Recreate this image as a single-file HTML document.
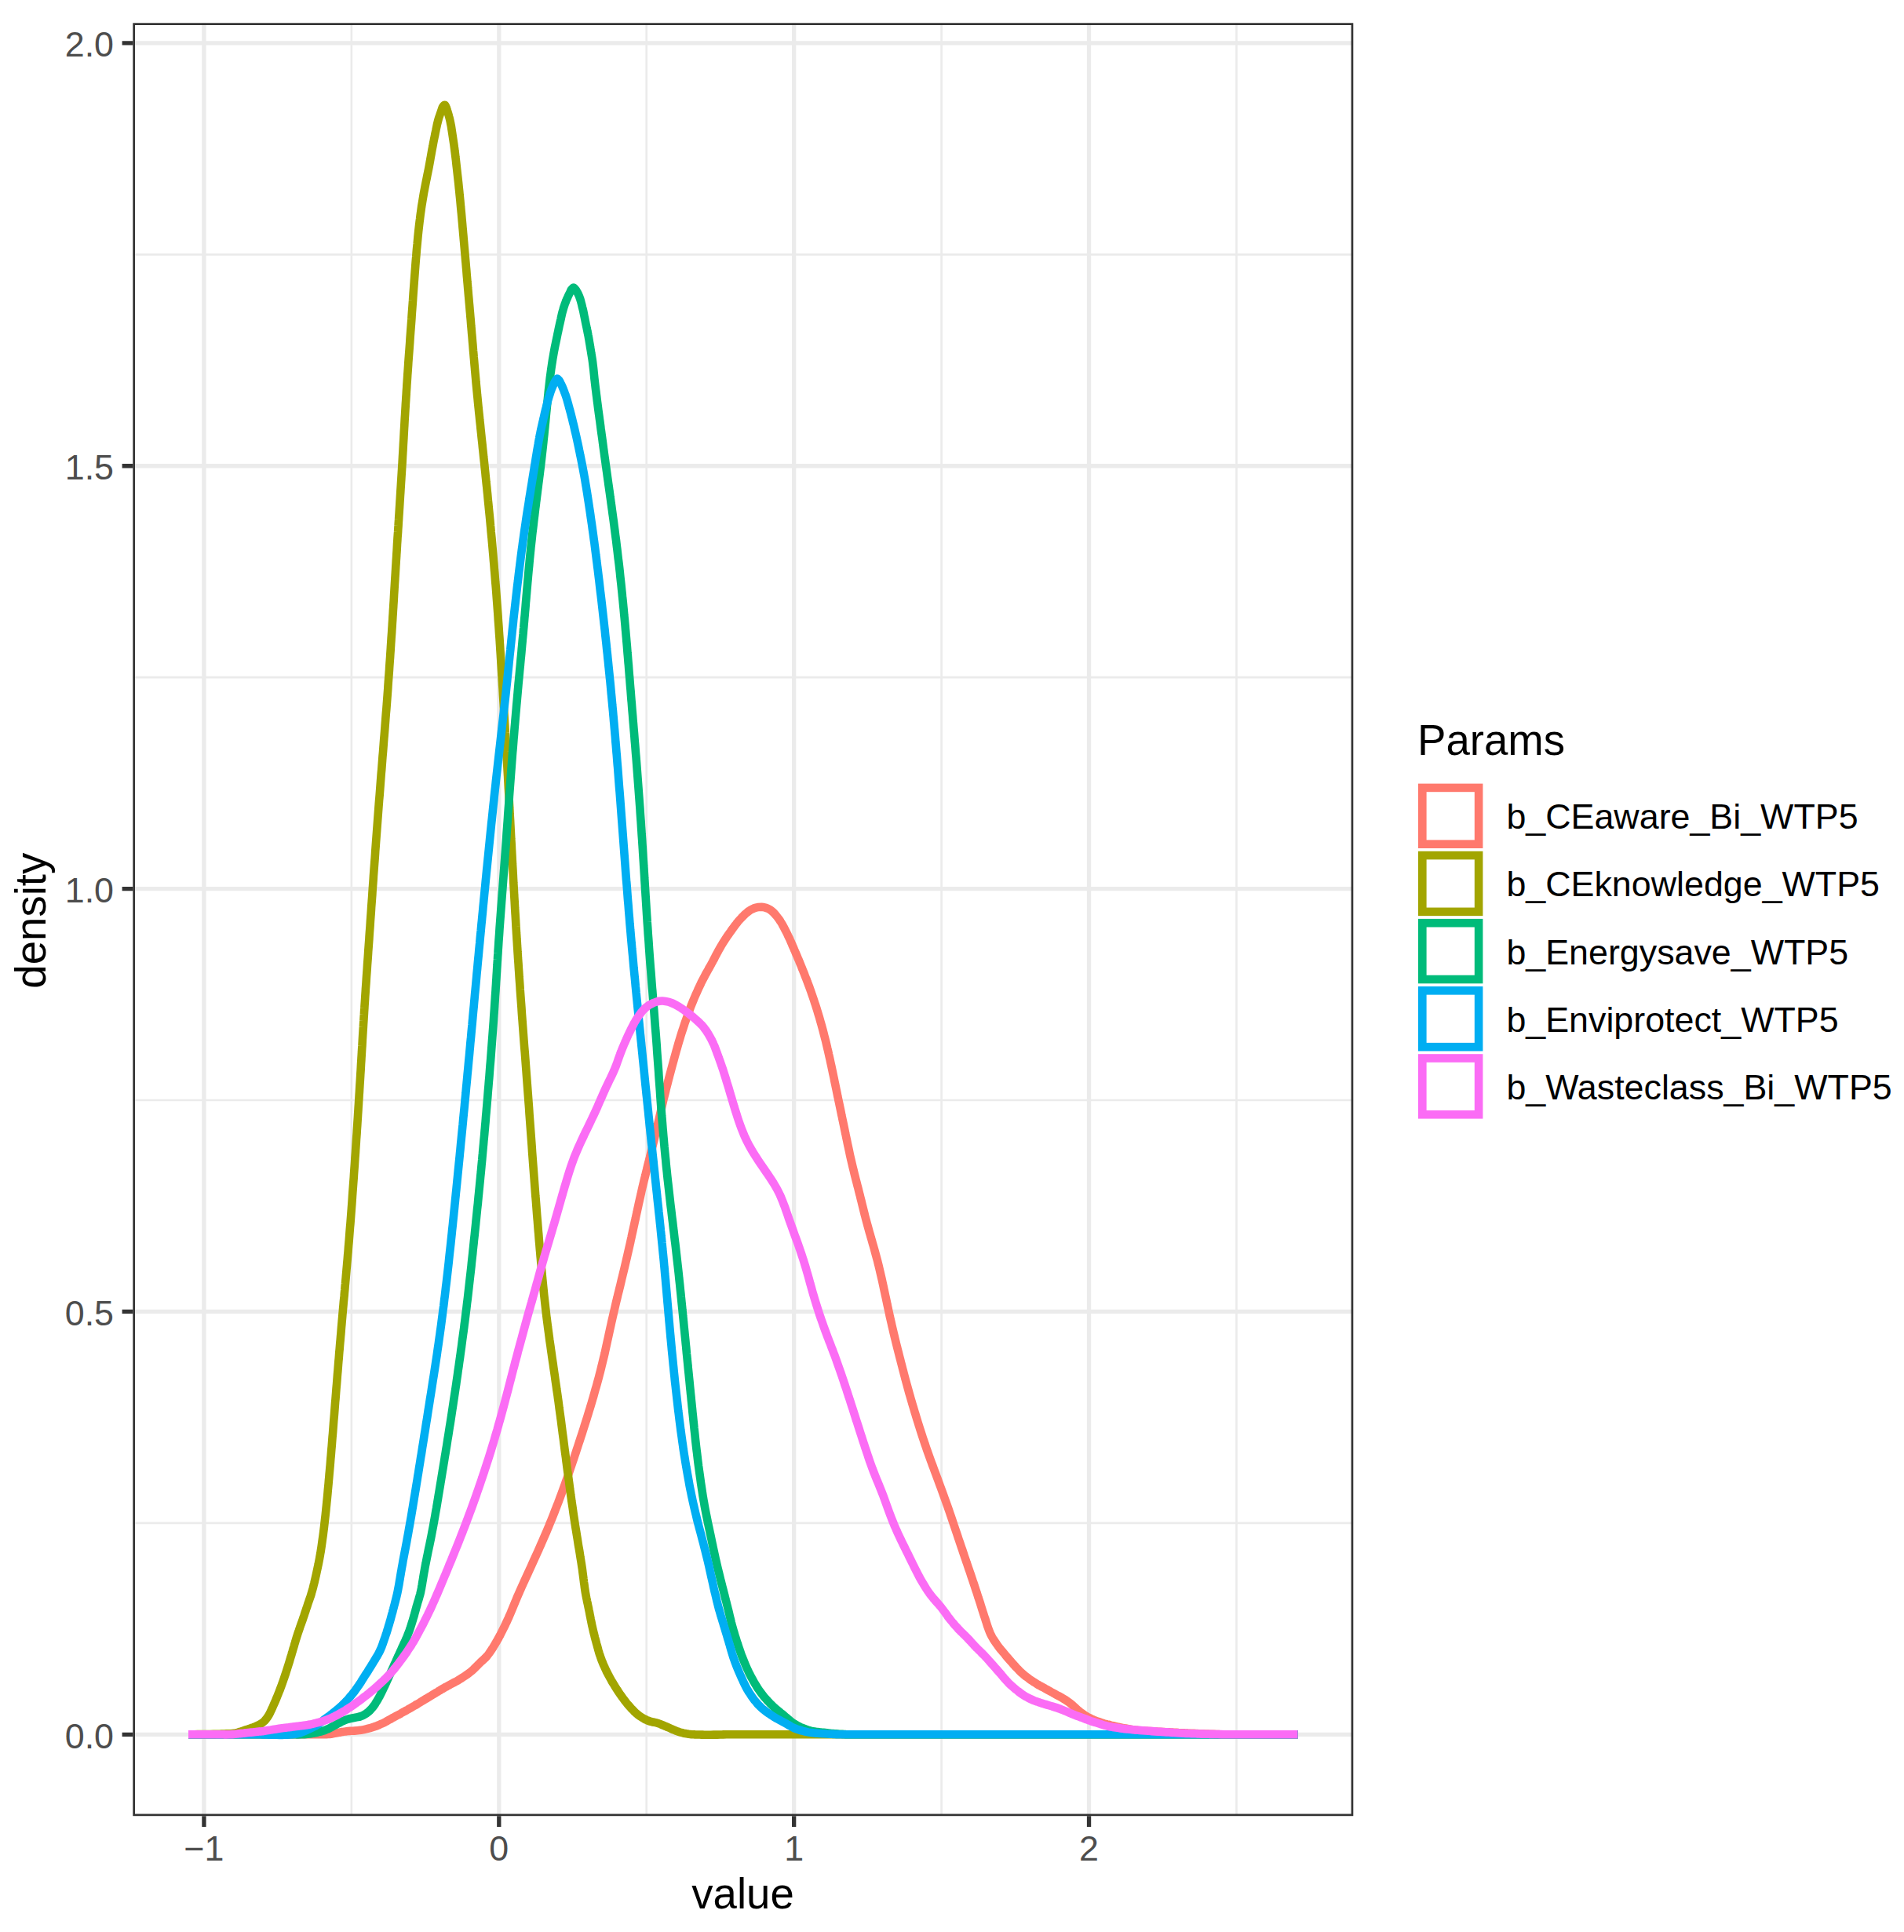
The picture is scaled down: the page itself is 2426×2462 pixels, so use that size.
<!DOCTYPE html><html><head><meta charset="utf-8"><title>density</title><style>html,body{margin:0;padding:0;background:#fff}svg{display:block}text{font-family:"Liberation Sans",sans-serif}</style></head><body>
<svg xmlns="http://www.w3.org/2000/svg" width="2426" height="2462" viewBox="0 0 2426 2462">
<rect width="2426" height="2462" fill="#fff"/>
<defs><clipPath id="pc"><rect x="169.3" y="29.3" width="1555.0" height="2284.9"/></clipPath></defs>
<g clip-path="url(#pc)">
<path d="M447.86 29.3V2314.2M823.73 29.3V2314.2M1199.61 29.3V2314.2M1575.47 29.3V2314.2M169.3 1940.88H1724.3M169.3 1402.03H1724.3M169.3 863.18H1724.3M169.3 324.33H1724.3" stroke="#ebebeb" stroke-width="2.65" fill="none"/>
<path d="M259.93 29.3V2314.2M635.80 29.3V2314.2M1011.67 29.3V2314.2M1387.54 29.3V2314.2M169.3 2210.30H1724.3M169.3 1671.45H1724.3M169.3 1132.60H1724.3M169.3 593.75H1724.3M169.3 54.90H1724.3" stroke="#ebebeb" stroke-width="5.30" fill="none"/>
<path d="M240.0 2210.3C241.3 2210.3 242.7 2210.3 244.0 2210.3C245.3 2210.3 246.7 2210.3 248.0 2210.3C249.3 2210.3 250.7 2210.3 252.0 2210.3C253.3 2210.3 254.7 2210.3 256.0 2210.3C257.3 2210.3 258.7 2210.3 260.0 2210.3C261.3 2210.3 262.7 2210.3 264.0 2210.3C265.3 2210.3 266.7 2210.3 268.0 2210.3C269.3 2210.3 270.7 2210.3 272.0 2210.3C273.3 2210.3 274.7 2210.3 276.0 2210.3C277.3 2210.3 278.7 2210.3 280.0 2210.3C281.3 2210.3 282.7 2210.3 284.0 2210.3C285.3 2210.3 286.7 2210.3 288.0 2210.3C289.3 2210.3 290.7 2210.3 292.0 2210.3C293.3 2210.3 294.7 2210.3 296.0 2210.3C297.3 2210.3 298.7 2210.3 300.0 2210.3C301.3 2210.3 302.7 2210.3 304.0 2210.3C305.3 2210.3 306.7 2210.3 308.0 2210.3C309.3 2210.3 310.7 2210.3 312.0 2210.3C313.3 2210.3 314.7 2210.3 316.0 2210.3C317.3 2210.3 318.7 2210.3 320.0 2210.3C321.3 2210.3 322.7 2210.3 324.0 2210.3C325.3 2210.3 326.7 2210.3 328.0 2210.3C329.3 2210.3 330.7 2210.3 332.0 2210.3C333.3 2210.3 334.7 2210.3 336.0 2210.3C337.3 2210.3 338.7 2210.3 340.0 2210.3C341.3 2210.3 342.7 2210.3 344.0 2210.3C345.3 2210.3 346.7 2210.3 348.0 2210.3C349.3 2210.3 350.7 2210.3 352.0 2210.3C353.3 2210.3 354.7 2210.3 356.0 2210.3C357.3 2210.3 358.7 2210.3 360.0 2210.3C361.3 2210.3 362.7 2210.3 364.0 2210.3C365.3 2210.3 366.7 2210.3 368.0 2210.3C369.3 2210.3 370.7 2210.3 372.0 2210.3C373.3 2210.3 374.7 2210.3 376.0 2210.3C377.3 2210.3 378.7 2210.3 380.0 2210.3C381.3 2210.3 382.7 2210.3 384.0 2210.3C385.3 2210.3 386.7 2210.3 388.0 2210.3C389.3 2210.3 390.7 2210.3 392.0 2210.3C393.3 2210.3 394.7 2210.3 396.0 2210.3C397.3 2210.3 398.7 2210.3 400.0 2210.3C401.3 2210.3 402.7 2210.3 404.0 2210.3C405.3 2210.3 406.7 2210.3 408.0 2210.3C409.3 2210.3 410.7 2210.3 412.0 2210.3C413.3 2210.3 414.7 2210.3 416.0 2210.2C417.3 2210.1 418.7 2210.0 420.0 2209.9C421.3 2209.8 422.6 2209.6 424.0 2209.3C425.3 2209.1 426.6 2208.9 427.9 2208.6C429.2 2208.4 430.5 2208.1 431.8 2207.8C433.1 2207.6 434.4 2207.3 435.7 2207.1C437.1 2206.9 438.4 2206.6 439.7 2206.5C441.0 2206.3 442.3 2206.2 443.7 2206.0C445.0 2205.9 446.3 2205.9 447.7 2205.8C449.0 2205.7 450.3 2205.7 451.7 2205.6C453.0 2205.5 454.3 2205.4 455.7 2205.3C457.0 2205.2 458.3 2205.0 459.6 2204.8C460.9 2204.6 462.3 2204.4 463.6 2204.1C464.9 2203.8 466.2 2203.5 467.5 2203.2C468.8 2202.9 470.0 2202.5 471.3 2202.2C472.6 2201.8 473.9 2201.4 475.1 2201.0C476.4 2200.6 477.7 2200.2 478.9 2199.7C480.2 2199.2 481.4 2198.8 482.7 2198.3C483.9 2197.8 485.1 2197.2 486.3 2196.6C487.5 2196.1 488.7 2195.5 489.9 2194.9C491.1 2194.3 492.3 2193.6 493.4 2193.0C494.6 2192.3 495.8 2191.7 496.9 2191.0C498.1 2190.4 499.2 2189.7 500.4 2189.1C501.6 2188.4 502.7 2187.8 503.9 2187.2C505.1 2186.5 506.3 2185.9 507.4 2185.3C508.6 2184.6 509.8 2184.0 511.0 2183.4C512.1 2182.7 513.3 2182.1 514.5 2181.4C515.6 2180.8 516.8 2180.1 518.0 2179.5C519.1 2178.8 520.3 2178.2 521.4 2177.5C522.6 2176.9 523.8 2176.2 524.9 2175.5C526.1 2174.9 527.2 2174.2 528.4 2173.5C529.5 2172.8 530.7 2172.1 531.8 2171.5C532.9 2170.8 534.1 2170.1 535.2 2169.4C536.4 2168.7 537.5 2168.0 538.6 2167.3C539.8 2166.6 540.9 2165.9 542.1 2165.2C543.2 2164.5 544.3 2163.9 545.5 2163.2C546.6 2162.5 547.8 2161.8 548.9 2161.1C550.1 2160.4 551.2 2159.7 552.3 2159.0C553.5 2158.3 554.6 2157.6 555.8 2156.9C556.9 2156.3 558.0 2155.6 559.2 2154.9C560.3 2154.2 561.5 2153.5 562.6 2152.8C563.8 2152.2 564.9 2151.5 566.1 2150.8C567.2 2150.2 568.4 2149.5 569.6 2148.9C570.7 2148.2 571.9 2147.6 573.1 2147.0C574.3 2146.4 575.5 2145.7 576.6 2145.1C577.8 2144.5 579.0 2143.9 580.2 2143.2C581.3 2142.6 582.5 2142.0 583.7 2141.3C584.8 2140.6 585.9 2139.9 587.1 2139.2C588.2 2138.5 589.3 2137.8 590.4 2137.0C591.6 2136.3 592.7 2135.6 593.8 2134.8C594.9 2134.1 595.9 2133.3 597.0 2132.5C598.1 2131.7 599.1 2130.9 600.2 2130.0C601.2 2129.2 602.2 2128.3 603.2 2127.4C604.2 2126.5 605.1 2125.6 606.1 2124.6C607.0 2123.7 607.9 2122.7 608.8 2121.7C609.8 2120.8 610.7 2119.8 611.6 2118.9C612.6 2117.9 613.6 2117.1 614.6 2116.2C615.6 2115.3 616.6 2114.4 617.5 2113.5C618.5 2112.6 619.4 2111.6 620.3 2110.6C621.2 2109.6 622.0 2108.6 622.8 2107.5C623.6 2106.4 624.4 2105.3 625.1 2104.2C625.8 2103.1 626.6 2102.0 627.3 2100.9C628.0 2099.7 628.7 2098.6 629.4 2097.4C630.1 2096.3 630.7 2095.2 631.4 2094.0C632.1 2092.9 632.8 2091.7 633.4 2090.6C634.1 2089.4 634.8 2088.2 635.4 2087.1C636.0 2085.9 636.7 2084.7 637.3 2083.6C637.9 2082.4 638.5 2081.2 639.1 2080.0C639.7 2078.8 640.3 2077.6 640.9 2076.4C641.5 2075.2 642.1 2074.0 642.7 2072.8C643.3 2071.6 643.9 2070.4 644.4 2069.2C645.0 2068.0 645.6 2066.8 646.1 2065.6C646.7 2064.4 647.2 2063.2 647.8 2062.0C648.3 2060.7 648.9 2059.5 649.4 2058.3C649.9 2057.1 650.4 2055.9 651.0 2054.6C651.9 2052.4 653.0 2049.7 654.0 2047.2C655.1 2044.8 656.1 2042.3 657.1 2039.8C658.1 2037.4 659.1 2034.9 660.2 2032.5C661.3 2030.0 662.3 2027.6 663.4 2025.2C664.5 2022.7 665.6 2020.3 666.7 2017.9C667.8 2015.5 668.9 2013.0 670.0 2010.6C671.2 2008.2 672.3 2005.7 673.4 2003.3C674.5 2000.9 675.6 1998.5 676.7 1996.1C677.8 1993.6 678.9 1991.2 680.0 1988.8C681.1 1986.3 682.2 1983.9 683.3 1981.5C684.4 1979.1 685.5 1976.6 686.6 1974.2C687.7 1971.7 688.8 1969.3 689.8 1966.9C690.9 1964.4 692.0 1962.0 693.0 1959.5C694.1 1957.1 695.1 1954.6 696.2 1952.2C697.2 1949.7 698.2 1947.3 699.3 1944.8C700.3 1942.3 701.3 1939.9 702.3 1937.4C703.3 1934.9 704.3 1932.5 705.3 1930.0C706.3 1927.5 707.2 1925.0 708.2 1922.5C709.2 1920.0 710.1 1917.6 711.1 1915.1C712.0 1912.6 713.0 1910.1 713.9 1907.6C714.8 1905.1 715.8 1902.6 716.7 1900.1C717.6 1897.6 718.5 1895.1 719.4 1892.6C720.3 1890.1 721.2 1887.5 722.1 1885.0C723.0 1882.5 723.9 1880.0 724.7 1877.5C725.6 1875.0 726.5 1872.4 727.3 1869.9C728.2 1867.4 729.1 1864.9 729.9 1862.3C730.8 1859.8 731.6 1857.3 732.4 1854.7C733.3 1852.2 734.1 1849.7 734.9 1847.1C735.8 1844.6 736.6 1842.1 737.4 1839.5C738.3 1837.0 739.1 1834.5 739.9 1831.9C740.7 1829.4 741.6 1826.9 742.4 1824.3C743.2 1821.8 744.0 1819.2 744.8 1816.7C745.6 1814.2 746.4 1811.6 747.2 1809.1C748.0 1806.5 748.8 1804.0 749.6 1801.4C750.4 1798.9 751.1 1796.3 751.9 1793.8C752.7 1791.2 753.5 1788.7 754.2 1786.1C755.0 1783.6 755.7 1781.0 756.5 1778.4C757.2 1775.9 757.9 1773.3 758.6 1770.7C759.4 1768.2 760.1 1765.6 760.8 1763.0C761.5 1760.5 762.2 1757.9 762.9 1755.3C763.6 1752.7 764.2 1750.2 764.9 1747.6C765.6 1745.0 766.2 1742.4 766.8 1739.8C767.5 1737.2 768.1 1734.6 768.7 1732.0C769.4 1729.4 770.0 1726.9 770.6 1724.3C771.1 1721.7 771.7 1719.1 772.3 1716.4C772.9 1713.8 773.5 1711.2 774.0 1708.6C774.6 1706.0 775.2 1703.4 775.7 1700.8C776.3 1698.2 776.8 1695.6 777.4 1693.0C778.0 1690.4 778.6 1687.8 779.1 1685.2C779.7 1682.6 780.3 1680.0 780.9 1677.4C781.5 1674.8 782.1 1672.2 782.7 1669.6C783.3 1667.0 783.9 1664.4 784.5 1661.8C785.1 1659.2 785.7 1656.6 786.4 1654.0C787.0 1651.4 787.6 1648.8 788.3 1646.2C788.9 1643.6 789.5 1641.1 790.2 1638.5C790.8 1635.9 791.4 1633.3 792.0 1630.7C792.7 1628.1 793.3 1625.5 793.9 1622.9C794.6 1620.3 795.2 1617.7 795.8 1615.1C796.4 1612.5 797.0 1609.9 797.6 1607.4C798.2 1604.8 798.8 1602.2 799.4 1599.6C800.0 1597.0 800.6 1594.4 801.2 1591.8C801.8 1589.2 802.4 1586.6 803.0 1583.9C803.5 1581.3 804.1 1578.7 804.7 1576.1C805.2 1573.5 805.8 1570.9 806.4 1568.3C806.9 1565.7 807.5 1563.1 808.1 1560.5C808.6 1557.9 809.2 1555.3 809.8 1552.7C810.3 1550.1 810.9 1547.5 811.5 1544.9C812.0 1542.3 812.6 1539.6 813.2 1537.0C813.7 1534.4 814.3 1531.8 814.9 1529.2C815.5 1526.6 816.1 1524.0 816.7 1521.4C817.2 1518.8 817.8 1516.2 818.4 1513.6C819.1 1511.0 819.7 1508.4 820.3 1505.8C820.9 1503.3 821.5 1500.7 822.2 1498.1C822.8 1495.5 823.4 1492.9 824.1 1490.3C824.7 1487.7 825.4 1485.1 826.0 1482.5C826.7 1480.0 827.3 1477.4 828.0 1474.8C828.6 1472.2 829.3 1469.6 829.9 1467.0C830.5 1464.4 831.2 1461.8 831.8 1459.3C832.4 1456.7 833.1 1454.1 833.7 1451.5C834.3 1448.9 834.9 1446.3 835.6 1443.7C836.2 1441.1 836.8 1438.5 837.4 1435.9C838.0 1433.3 838.6 1430.7 839.2 1428.1C839.8 1425.5 840.4 1422.9 841.0 1420.3C841.6 1417.7 842.2 1415.1 842.8 1412.5C843.4 1409.9 844.0 1407.3 844.6 1404.7C845.2 1402.1 845.9 1399.5 846.5 1397.0C847.1 1394.4 847.8 1391.8 848.4 1389.2C849.1 1386.6 849.7 1384.0 850.4 1381.4C851.0 1378.9 851.7 1376.3 852.4 1373.7C853.0 1371.1 853.7 1368.5 854.4 1366.0C855.1 1363.4 855.8 1360.8 856.5 1358.2C857.2 1355.7 857.9 1353.1 858.6 1350.5C859.3 1347.9 860.0 1345.4 860.7 1342.8C861.4 1340.2 862.1 1337.7 862.9 1335.1C863.6 1332.5 864.3 1330.0 865.1 1327.4C865.9 1324.9 866.7 1322.3 867.4 1319.8C868.2 1317.2 869.0 1314.7 869.9 1312.1C870.7 1309.6 871.5 1307.1 872.3 1304.6C873.2 1302.0 874.1 1299.5 875.0 1297.0C875.8 1294.5 876.8 1292.0 877.7 1289.5C878.6 1287.0 879.6 1284.5 880.5 1282.0C881.5 1279.5 882.5 1277.0 883.5 1274.6C884.5 1272.1 885.7 1269.4 886.6 1267.2C887.2 1265.9 887.7 1264.8 888.3 1263.6C888.8 1262.3 889.4 1261.1 889.9 1259.9C890.5 1258.7 891.0 1257.5 891.6 1256.3C892.2 1255.1 892.8 1253.9 893.3 1252.7C893.9 1251.5 894.5 1250.3 895.1 1249.1C895.7 1247.9 896.3 1246.7 897.0 1245.6C897.6 1244.4 898.2 1243.2 898.8 1242.0C899.5 1240.9 900.1 1239.7 900.8 1238.5C901.4 1237.4 902.1 1236.2 902.7 1235.0C903.4 1233.9 904.0 1232.7 904.7 1231.5C905.3 1230.4 906.0 1229.2 906.6 1228.0C907.2 1226.9 907.9 1225.7 908.5 1224.5C909.1 1223.3 909.7 1222.2 910.4 1221.0C911.0 1219.8 911.6 1218.6 912.2 1217.4C912.9 1216.3 913.5 1215.1 914.1 1213.9C914.7 1212.7 915.4 1211.6 916.0 1210.4C916.7 1209.2 917.3 1208.1 918.0 1206.9C918.7 1205.7 919.3 1204.6 920.0 1203.5C920.7 1202.3 921.4 1201.2 922.1 1200.1C922.8 1198.9 923.6 1197.8 924.3 1196.7C925.0 1195.6 925.8 1194.5 926.5 1193.4C927.2 1192.2 928.0 1191.1 928.8 1190.1C929.5 1189.0 930.3 1187.9 931.1 1186.8C931.8 1185.7 932.6 1184.6 933.4 1183.6C934.2 1182.5 935.0 1181.4 935.8 1180.3C936.6 1179.3 937.4 1178.2 938.2 1177.2C939.0 1176.1 939.9 1175.1 940.7 1174.0C941.6 1173.0 942.5 1172.0 943.4 1171.0C944.3 1170.0 945.2 1169.1 946.1 1168.1C947.1 1167.2 948.0 1166.2 949.0 1165.3C950.0 1164.4 950.9 1163.5 952.0 1162.7C953.0 1161.8 954.0 1161.0 955.2 1160.3C956.3 1159.5 957.5 1158.9 958.7 1158.4C959.9 1157.8 961.1 1157.3 962.4 1156.9C963.7 1156.5 965.0 1156.2 966.3 1156.0C967.6 1155.8 968.9 1155.7 970.3 1155.7C971.6 1155.8 972.9 1156.0 974.2 1156.3C975.5 1156.6 976.8 1157.1 978.0 1157.6C979.2 1158.1 980.4 1158.8 981.5 1159.5C982.6 1160.2 983.6 1161.1 984.6 1162.0C985.6 1162.9 986.5 1163.9 987.4 1164.9C988.3 1165.9 989.1 1166.9 990.0 1168.0C990.8 1169.0 991.6 1170.0 992.4 1171.1C993.2 1172.2 993.9 1173.3 994.6 1174.5C995.3 1175.6 996.0 1176.7 996.7 1177.9C997.3 1179.1 997.9 1180.2 998.6 1181.4C999.2 1182.6 999.8 1183.8 1000.4 1184.9C1001.0 1186.1 1001.7 1187.3 1002.3 1188.5C1002.9 1189.7 1003.5 1190.9 1004.0 1192.1C1004.6 1193.3 1005.2 1194.5 1005.7 1195.7C1006.3 1196.9 1006.8 1198.1 1007.4 1199.4C1007.9 1200.6 1008.4 1201.8 1009.0 1203.0C1009.5 1204.3 1010.0 1205.5 1010.5 1206.7C1011.1 1207.9 1011.6 1209.2 1012.1 1210.4C1012.7 1211.6 1013.2 1212.8 1013.7 1214.0C1014.2 1215.3 1014.8 1216.5 1015.3 1217.7C1015.8 1219.0 1016.3 1220.2 1016.8 1221.4C1017.4 1222.6 1017.9 1223.9 1018.4 1225.1C1018.9 1226.3 1019.4 1227.6 1019.9 1228.8C1020.4 1230.0 1020.9 1231.3 1021.4 1232.5C1021.9 1233.8 1022.4 1235.0 1022.9 1236.2C1023.4 1237.5 1023.9 1238.7 1024.4 1239.9C1024.9 1241.2 1025.4 1242.4 1025.8 1243.7C1026.3 1244.9 1026.8 1246.1 1027.3 1247.4C1027.8 1248.6 1028.3 1249.9 1028.7 1251.1C1029.2 1252.4 1029.7 1253.6 1030.1 1254.9C1030.6 1256.1 1031.1 1257.4 1031.5 1258.6C1032.0 1259.9 1032.4 1261.1 1032.9 1262.4C1033.3 1263.6 1033.7 1264.8 1034.2 1266.2C1035.0 1268.4 1035.9 1271.2 1036.8 1273.7C1037.6 1276.3 1038.4 1278.8 1039.3 1281.3C1040.1 1283.9 1040.9 1286.4 1041.7 1289.0C1042.4 1291.5 1043.2 1294.1 1044.0 1296.6C1044.7 1299.2 1045.4 1301.8 1046.2 1304.3C1046.9 1306.9 1047.6 1309.5 1048.3 1312.0C1049.0 1314.6 1049.6 1317.2 1050.3 1319.8C1051.0 1322.4 1051.6 1324.9 1052.3 1327.5C1052.9 1330.1 1053.5 1332.7 1054.1 1335.3C1054.8 1337.9 1055.4 1340.5 1055.9 1343.1C1056.5 1345.7 1057.1 1348.3 1057.7 1350.9C1058.2 1353.5 1058.8 1356.1 1059.4 1358.7C1059.9 1361.3 1060.5 1363.9 1061.0 1366.5C1061.6 1369.2 1062.1 1371.8 1062.7 1374.4C1063.2 1377.0 1063.7 1379.6 1064.3 1382.2C1064.8 1384.8 1065.4 1387.4 1065.9 1390.0C1066.5 1392.7 1067.0 1395.3 1067.5 1397.9C1068.1 1400.5 1068.6 1403.1 1069.2 1405.7C1069.7 1408.3 1070.3 1410.9 1070.8 1413.5C1071.4 1416.2 1071.9 1418.8 1072.4 1421.4C1073.0 1424.0 1073.5 1426.6 1074.1 1429.2C1074.6 1431.8 1075.2 1434.4 1075.7 1437.0C1076.2 1439.6 1076.8 1442.3 1077.3 1444.9C1077.9 1447.5 1078.4 1450.1 1079.0 1452.7C1079.5 1455.3 1080.0 1457.9 1080.6 1460.5C1081.2 1463.1 1081.7 1465.8 1082.3 1468.4C1082.8 1471.0 1083.4 1473.6 1084.0 1476.2C1084.6 1478.8 1085.2 1481.4 1085.8 1484.0C1086.4 1486.6 1087.0 1489.1 1087.7 1491.7C1088.3 1494.3 1088.9 1496.9 1089.6 1499.5C1090.2 1502.1 1090.9 1504.7 1091.6 1507.2C1092.2 1509.8 1092.9 1512.4 1093.6 1515.0C1094.2 1517.6 1094.9 1520.1 1095.5 1522.7C1096.2 1525.3 1096.8 1527.9 1097.5 1530.5C1098.1 1533.1 1098.7 1535.7 1099.4 1538.2C1100.0 1540.8 1100.7 1543.4 1101.3 1546.0C1102.0 1548.6 1102.6 1551.2 1103.3 1553.7C1104.0 1556.3 1104.7 1558.9 1105.4 1561.5C1106.1 1564.0 1106.8 1566.6 1107.5 1569.2C1108.2 1571.7 1109.0 1574.3 1109.7 1576.9C1110.5 1579.4 1111.2 1582.0 1111.9 1584.6C1112.7 1587.1 1113.4 1589.7 1114.1 1592.2C1114.8 1594.8 1115.5 1597.4 1116.2 1600.0C1116.9 1602.5 1117.6 1605.1 1118.3 1607.7C1118.9 1610.3 1119.6 1612.9 1120.2 1615.4C1120.8 1618.0 1121.4 1620.6 1122.0 1623.2C1122.6 1625.8 1123.2 1628.4 1123.8 1631.0C1124.4 1633.6 1124.9 1636.2 1125.5 1638.8C1126.1 1641.5 1126.6 1644.1 1127.2 1646.7C1127.7 1649.3 1128.3 1651.9 1128.9 1654.5C1129.4 1657.1 1130.0 1659.7 1130.5 1662.3C1131.1 1664.9 1131.6 1667.5 1132.2 1670.1C1132.8 1672.7 1133.3 1675.4 1133.9 1678.0C1134.5 1680.6 1135.1 1683.2 1135.7 1685.8C1136.2 1688.4 1136.8 1691.0 1137.5 1693.6C1138.1 1696.2 1138.7 1698.7 1139.3 1701.3C1139.9 1703.9 1140.6 1706.5 1141.2 1709.1C1141.8 1711.7 1142.5 1714.3 1143.1 1716.9C1143.8 1719.5 1144.4 1722.0 1145.1 1724.6C1145.7 1727.2 1146.4 1729.8 1147.1 1732.4C1147.7 1735.0 1148.4 1737.6 1149.1 1740.1C1149.7 1742.7 1150.4 1745.3 1151.1 1747.9C1151.7 1750.5 1152.4 1753.0 1153.1 1755.6C1153.8 1758.2 1154.5 1760.8 1155.2 1763.3C1155.9 1765.9 1156.6 1768.5 1157.3 1771.0C1158.0 1773.6 1158.7 1776.2 1159.5 1778.8C1160.2 1781.3 1160.9 1783.9 1161.7 1786.4C1162.4 1789.0 1163.2 1791.6 1164.0 1794.1C1164.7 1796.7 1165.5 1799.2 1166.3 1801.8C1167.0 1804.3 1167.8 1806.9 1168.6 1809.4C1169.4 1812.0 1170.2 1814.5 1171.0 1817.1C1171.8 1819.6 1172.6 1822.1 1173.4 1824.7C1174.2 1827.2 1175.1 1829.8 1175.9 1832.3C1176.7 1834.8 1177.6 1837.3 1178.4 1839.9C1179.3 1842.4 1180.1 1844.9 1181.0 1847.4C1181.9 1850.0 1182.8 1852.5 1183.7 1855.0C1184.6 1857.5 1185.5 1860.0 1186.4 1862.5C1187.3 1865.0 1188.3 1867.5 1189.2 1870.0C1190.1 1872.5 1191.0 1875.0 1192.0 1877.5C1192.9 1880.0 1193.8 1882.5 1194.8 1885.0C1195.7 1887.5 1196.6 1890.0 1197.5 1892.5C1198.5 1895.0 1199.4 1897.5 1200.3 1900.0C1201.2 1902.5 1202.1 1905.0 1203.0 1907.5C1203.9 1910.0 1204.8 1912.5 1205.7 1915.1C1206.6 1917.6 1207.5 1920.1 1208.4 1922.6C1209.3 1925.1 1210.1 1927.6 1211.0 1930.2C1211.9 1932.7 1212.7 1935.2 1213.6 1937.7C1214.4 1940.3 1215.3 1942.8 1216.1 1945.3C1217.0 1947.8 1217.8 1950.4 1218.7 1952.9C1219.5 1955.4 1220.4 1958.0 1221.2 1960.5C1222.1 1963.0 1222.9 1965.5 1223.8 1968.1C1224.6 1970.6 1225.5 1973.1 1226.4 1975.6C1227.2 1978.2 1228.1 1980.7 1228.9 1983.2C1229.8 1985.7 1230.7 1988.3 1231.5 1990.8C1232.4 1993.3 1233.2 1995.8 1234.1 1998.4C1235.0 2000.9 1235.8 2003.4 1236.7 2005.9C1237.5 2008.5 1238.4 2011.0 1239.2 2013.5C1240.1 2016.0 1240.9 2018.6 1241.8 2021.1C1242.6 2023.6 1243.4 2026.2 1244.3 2028.7C1245.1 2031.2 1245.9 2033.8 1246.7 2036.3C1247.6 2038.8 1248.4 2041.4 1249.2 2043.9C1250.0 2046.5 1250.9 2049.3 1251.6 2051.6C1252.0 2052.9 1252.4 2054.1 1252.8 2055.4C1253.2 2056.6 1253.6 2057.9 1254.0 2059.2C1254.5 2060.4 1254.9 2061.7 1255.3 2063.0C1255.7 2064.2 1256.1 2065.5 1256.5 2066.8C1256.9 2068.1 1257.3 2069.3 1257.7 2070.6C1258.1 2071.9 1258.5 2073.1 1259.0 2074.4C1259.4 2075.6 1259.9 2076.9 1260.4 2078.1C1260.9 2079.4 1261.4 2080.6 1261.9 2081.8C1262.5 2083.0 1263.1 2084.2 1263.7 2085.4C1264.4 2086.6 1265.1 2087.7 1265.7 2088.9C1266.4 2090.0 1267.2 2091.1 1267.9 2092.2C1268.6 2093.3 1269.4 2094.4 1270.2 2095.5C1270.9 2096.6 1271.7 2097.7 1272.5 2098.7C1273.4 2099.8 1274.2 2100.8 1275.0 2101.9C1275.9 2102.9 1276.7 2103.9 1277.6 2104.9C1278.5 2106.0 1279.3 2107.0 1280.2 2108.0C1281.0 2109.0 1281.9 2110.1 1282.7 2111.1C1283.6 2112.1 1284.5 2113.1 1285.3 2114.1C1286.2 2115.1 1287.1 2116.1 1288.0 2117.1C1288.9 2118.1 1289.7 2119.1 1290.6 2120.1C1291.5 2121.1 1292.4 2122.1 1293.3 2123.1C1294.2 2124.1 1295.1 2125.0 1296.0 2126.0C1296.9 2127.0 1297.9 2128.0 1298.8 2128.9C1299.7 2129.8 1300.7 2130.8 1301.7 2131.7C1302.7 2132.6 1303.7 2133.4 1304.7 2134.3C1305.7 2135.1 1306.8 2136.0 1307.8 2136.8C1308.9 2137.6 1310.0 2138.4 1311.0 2139.2C1312.1 2140.0 1313.2 2140.8 1314.3 2141.5C1315.4 2142.3 1316.5 2143.0 1317.6 2143.7C1318.8 2144.4 1319.9 2145.1 1321.0 2145.8C1322.2 2146.5 1323.3 2147.2 1324.5 2147.9C1325.6 2148.5 1326.8 2149.1 1328.0 2149.8C1329.2 2150.4 1330.3 2151.0 1331.5 2151.7C1332.7 2152.3 1333.8 2153.0 1335.0 2153.6C1336.2 2154.3 1337.3 2154.9 1338.5 2155.5C1339.7 2156.2 1340.8 2156.8 1342.0 2157.5C1343.2 2158.1 1344.3 2158.8 1345.5 2159.4C1346.7 2160.0 1347.9 2160.6 1349.0 2161.3C1350.2 2161.9 1351.4 2162.6 1352.5 2163.2C1353.7 2163.9 1354.8 2164.6 1356.0 2165.3C1357.1 2166.0 1358.2 2166.7 1359.3 2167.5C1360.4 2168.2 1361.5 2169.0 1362.6 2169.8C1363.7 2170.6 1364.7 2171.4 1365.8 2172.2C1366.8 2173.1 1367.8 2174.0 1368.7 2174.9C1369.7 2175.8 1370.7 2176.7 1371.7 2177.6C1372.7 2178.5 1373.7 2179.4 1374.7 2180.2C1375.7 2181.1 1376.8 2181.9 1377.9 2182.7C1378.9 2183.5 1380.0 2184.3 1381.1 2185.0C1382.2 2185.8 1383.3 2186.5 1384.5 2187.2C1385.6 2187.9 1386.8 2188.5 1388.0 2189.1C1389.2 2189.7 1390.4 2190.3 1391.6 2190.8C1392.8 2191.4 1394.0 2191.9 1395.3 2192.4C1396.5 2192.9 1397.8 2193.4 1399.0 2193.8C1400.3 2194.2 1401.5 2194.6 1402.8 2195.0C1404.1 2195.4 1405.4 2195.8 1406.6 2196.2C1407.9 2196.6 1409.2 2196.9 1410.5 2197.3C1411.8 2197.6 1413.1 2197.9 1414.4 2198.2C1415.7 2198.6 1417.0 2198.9 1418.3 2199.2C1419.6 2199.5 1420.8 2199.8 1422.1 2200.1C1423.4 2200.4 1424.7 2200.7 1426.1 2201.0C1427.4 2201.3 1428.7 2201.5 1430.0 2201.8C1431.3 2202.1 1432.6 2202.3 1433.9 2202.5C1435.2 2202.8 1436.5 2203.0 1437.8 2203.2C1439.2 2203.5 1440.5 2203.7 1441.8 2203.9C1443.1 2204.1 1444.4 2204.3 1445.8 2204.4C1447.1 2204.6 1448.4 2204.8 1449.7 2204.9C1451.1 2205.1 1452.4 2205.2 1453.7 2205.3C1455.0 2205.4 1456.4 2205.5 1457.7 2205.6C1459.0 2205.7 1460.4 2205.8 1461.7 2205.9C1463.0 2206.0 1464.3 2206.0 1465.7 2206.1C1467.0 2206.2 1468.3 2206.3 1469.7 2206.4C1471.0 2206.5 1472.3 2206.5 1473.7 2206.6C1475.0 2206.7 1476.3 2206.8 1477.7 2206.8C1479.0 2206.9 1480.3 2207.0 1481.7 2207.1C1483.0 2207.1 1484.3 2207.2 1485.6 2207.2C1487.0 2207.3 1488.3 2207.4 1489.6 2207.4C1491.0 2207.5 1492.3 2207.5 1493.6 2207.6C1495.0 2207.7 1496.3 2207.7 1497.6 2207.8C1499.0 2207.9 1500.3 2207.9 1501.6 2208.0C1503.0 2208.0 1504.3 2208.1 1505.6 2208.2C1507.0 2208.2 1508.3 2208.3 1509.6 2208.4C1511.0 2208.4 1512.3 2208.5 1513.6 2208.6C1515.0 2208.6 1516.3 2208.7 1517.6 2208.8C1518.9 2208.8 1520.3 2208.9 1521.6 2208.9C1522.9 2209.0 1524.3 2209.1 1525.6 2209.1C1526.9 2209.2 1528.3 2209.2 1529.6 2209.3C1530.9 2209.3 1532.3 2209.4 1533.6 2209.4C1534.9 2209.5 1536.3 2209.5 1537.6 2209.6C1538.9 2209.6 1540.3 2209.7 1541.6 2209.7C1542.9 2209.8 1544.3 2209.8 1545.6 2209.8C1546.9 2209.9 1548.3 2209.9 1549.6 2210.0C1550.9 2210.0 1552.3 2210.0 1553.6 2210.1C1554.9 2210.1 1556.3 2210.1 1557.6 2210.2C1558.9 2210.2 1560.3 2210.2 1561.6 2210.3C1562.9 2210.3 1564.3 2210.3 1565.6 2210.3C1566.9 2210.3 1568.3 2210.3 1569.6 2210.3C1570.9 2210.3 1572.3 2210.3 1573.6 2210.3C1574.9 2210.3 1576.3 2210.3 1577.6 2210.3C1578.9 2210.3 1580.3 2210.3 1581.6 2210.3C1582.9 2210.3 1584.3 2210.3 1585.6 2210.3C1586.9 2210.3 1588.3 2210.3 1589.6 2210.3C1590.9 2210.3 1592.3 2210.3 1593.6 2210.3C1594.9 2210.3 1596.3 2210.3 1597.6 2210.3C1598.9 2210.3 1600.3 2210.3 1601.6 2210.3C1602.9 2210.3 1604.3 2210.3 1605.6 2210.3C1606.9 2210.3 1608.3 2210.3 1609.6 2210.3C1610.9 2210.3 1612.3 2210.3 1613.6 2210.3C1614.9 2210.3 1616.3 2210.3 1617.6 2210.3C1618.9 2210.3 1620.3 2210.3 1621.6 2210.3C1622.9 2210.3 1624.3 2210.3 1625.6 2210.3C1626.9 2210.3 1628.3 2210.3 1629.6 2210.3C1630.9 2210.3 1632.3 2210.3 1633.6 2210.3C1634.9 2210.3 1636.3 2210.3 1637.6 2210.3C1638.9 2210.3 1640.3 2210.3 1641.6 2210.3C1642.9 2210.3 1644.3 2210.3 1645.6 2210.3C1646.9 2210.3 1648.3 2210.3 1649.6 2210.3C1650.9 2210.3 1652.3 2210.3 1653.6 2210.3" stroke="#FF796D" stroke-width="10.6" fill="none" stroke-linejoin="round" stroke-linecap="butt"/>
<path d="M240.0 2210.3C241.3 2210.3 242.7 2210.3 244.0 2210.2C245.3 2210.2 246.7 2210.2 248.0 2210.2C249.3 2210.2 250.7 2210.2 252.0 2210.1C253.3 2210.1 254.7 2210.1 256.0 2210.1C257.3 2210.1 258.7 2210.1 260.0 2210.1C261.3 2210.0 262.7 2210.0 264.0 2210.0C265.3 2210.0 266.7 2210.0 268.0 2210.0C269.3 2209.9 270.7 2209.9 272.0 2209.9C273.3 2209.9 274.7 2209.8 276.0 2209.8C277.3 2209.8 278.7 2209.7 280.0 2209.7C281.3 2209.6 282.7 2209.6 284.0 2209.5C285.3 2209.5 286.7 2209.4 288.0 2209.4C289.3 2209.4 290.7 2209.3 292.0 2209.3C293.3 2209.2 294.7 2209.2 296.0 2209.0C297.3 2208.9 298.6 2208.7 299.9 2208.5C301.3 2208.2 302.6 2207.9 303.8 2207.5C305.1 2207.2 306.4 2206.8 307.7 2206.4C308.9 2206.0 310.2 2205.5 311.4 2205.1C312.7 2204.6 314.0 2204.2 315.2 2203.8C316.5 2203.4 317.8 2202.9 319.0 2202.5C320.3 2202.0 321.5 2201.6 322.8 2201.1C324.0 2200.6 325.2 2200.1 326.5 2199.6C327.7 2199.0 328.9 2198.5 330.1 2197.9C331.3 2197.3 332.5 2196.7 333.6 2195.9C334.7 2195.2 335.7 2194.3 336.7 2193.4C337.6 2192.5 338.5 2191.4 339.3 2190.4C340.1 2189.3 340.9 2188.2 341.6 2187.1C342.3 2186.0 343.0 2184.8 343.6 2183.6C344.2 2182.5 344.8 2181.2 345.3 2180.0C345.9 2178.8 346.4 2177.6 347.0 2176.4C347.5 2175.2 348.1 2174.0 348.6 2172.8C349.2 2171.5 349.7 2170.3 350.2 2169.1C350.8 2167.9 351.3 2166.6 351.8 2165.4C352.3 2164.2 352.8 2162.9 353.3 2161.7C353.8 2160.5 354.3 2159.2 354.8 2158.0C355.3 2156.8 355.8 2155.5 356.3 2154.3C356.8 2153.0 357.2 2151.8 357.7 2150.5C358.2 2149.3 358.6 2148.0 359.1 2146.8C359.5 2145.5 360.0 2144.3 360.4 2143.0C360.9 2141.8 361.3 2140.5 361.8 2139.2C362.2 2138.0 362.6 2136.7 363.0 2135.4C363.5 2134.2 363.9 2132.9 364.3 2131.6C364.7 2130.4 365.1 2129.1 365.5 2127.8C365.9 2126.6 366.3 2125.3 366.7 2124.0C367.1 2122.8 367.5 2121.5 367.9 2120.2C368.3 2118.9 368.7 2117.7 369.1 2116.4C369.5 2115.1 369.8 2113.8 370.2 2112.5C370.6 2111.3 371.0 2110.0 371.4 2108.7C371.7 2107.4 372.1 2106.1 372.5 2104.9C372.9 2103.6 373.3 2102.3 373.6 2101.0C374.0 2099.8 374.4 2098.5 374.8 2097.2C375.1 2095.9 375.5 2094.6 375.9 2093.4C376.3 2092.1 376.6 2090.8 377.0 2089.5C377.4 2088.2 377.8 2087.0 378.2 2085.7C378.6 2084.4 379.0 2083.2 379.4 2081.9C379.8 2080.6 380.2 2079.4 380.7 2078.1C381.1 2076.8 381.5 2075.6 382.0 2074.3C382.4 2073.1 382.9 2071.8 383.3 2070.5C383.8 2069.3 384.2 2068.0 384.7 2066.8C385.1 2065.5 385.6 2064.3 386.0 2063.0C386.4 2061.7 386.8 2060.5 387.3 2059.2C387.7 2057.9 388.1 2056.7 388.5 2055.4C389.0 2054.2 389.4 2052.9 389.8 2051.6C390.2 2050.4 390.6 2049.1 391.1 2047.8C391.5 2046.6 391.9 2045.3 392.3 2044.0C392.7 2042.8 393.2 2041.5 393.6 2040.2C394.0 2039.0 394.5 2037.7 394.9 2036.5C395.3 2035.2 395.8 2033.9 396.2 2032.7C396.6 2031.4 396.9 2030.1 397.3 2028.8C397.7 2027.5 398.0 2026.3 398.4 2025.0C398.7 2023.7 399.1 2022.4 399.4 2021.1C399.7 2019.8 400.0 2018.5 400.4 2017.2C400.7 2015.9 401.0 2014.6 401.3 2013.3C401.6 2012.0 401.9 2010.8 402.2 2009.4C402.7 2007.1 403.4 2004.2 403.9 2001.6C404.5 1999.0 405.0 1996.4 405.6 1993.8C406.1 1991.2 406.6 1988.6 407.1 1985.9C407.6 1983.3 408.0 1980.7 408.5 1978.1C408.9 1975.4 409.3 1972.8 409.7 1970.2C410.1 1967.5 410.5 1964.9 410.8 1962.2C411.2 1959.6 411.6 1957.0 411.9 1954.3C412.2 1951.7 412.6 1949.0 412.9 1946.4C413.2 1943.7 413.5 1941.1 413.8 1938.4C414.1 1935.8 414.4 1933.1 414.7 1930.5C415.0 1927.8 415.3 1925.2 415.5 1922.5C415.8 1919.9 416.1 1917.2 416.3 1914.6C416.6 1911.9 416.9 1909.3 417.1 1906.6C417.4 1903.9 417.6 1901.3 417.8 1898.6C418.1 1896.0 418.3 1893.3 418.6 1890.7C418.8 1888.0 419.0 1885.4 419.3 1882.7C419.5 1880.0 419.7 1877.4 420.0 1874.7C420.2 1872.1 420.4 1869.4 420.7 1866.8C420.9 1864.1 421.1 1861.4 421.3 1858.8C421.6 1856.1 421.8 1853.5 422.0 1850.8C422.2 1848.2 422.4 1845.5 422.7 1842.8C422.9 1840.2 423.1 1837.5 423.3 1834.9C423.5 1832.2 423.7 1829.5 424.0 1826.9C424.2 1824.2 424.4 1821.6 424.6 1818.9C424.8 1816.2 425.0 1813.6 425.2 1810.9C425.4 1808.3 425.7 1805.6 425.9 1803.0C426.1 1800.3 426.3 1797.6 426.5 1795.0C426.7 1792.3 426.9 1789.7 427.1 1787.0C427.4 1784.3 427.6 1781.7 427.8 1779.0C428.0 1776.4 428.2 1773.7 428.4 1771.1C428.6 1768.4 428.9 1765.7 429.1 1763.1C429.3 1760.4 429.5 1757.8 429.7 1755.1C429.9 1752.4 430.1 1749.8 430.4 1747.1C430.6 1744.5 430.8 1741.8 431.0 1739.2C431.2 1736.5 431.4 1733.8 431.7 1731.2C431.9 1728.5 432.1 1725.9 432.3 1723.2C432.6 1720.5 432.8 1717.9 433.0 1715.2C433.2 1712.6 433.4 1709.9 433.7 1707.3C433.9 1704.6 434.1 1701.9 434.4 1699.3C434.6 1696.6 434.8 1694.0 435.0 1691.3C435.3 1688.7 435.5 1686.0 435.7 1683.3C436.0 1680.7 436.2 1678.0 436.4 1675.4C436.7 1672.7 436.9 1670.1 437.1 1667.4C437.4 1664.7 437.6 1662.1 437.8 1659.4C438.1 1656.8 438.3 1654.1 438.6 1651.5C438.8 1648.8 439.0 1646.2 439.3 1643.5C439.5 1640.8 439.7 1638.2 440.0 1635.5C440.2 1632.9 440.5 1630.2 440.7 1627.6C440.9 1624.9 441.2 1622.2 441.4 1619.6C441.6 1616.9 441.9 1614.3 442.1 1611.6C442.3 1609.0 442.6 1606.3 442.8 1603.6C443.0 1601.0 443.2 1598.3 443.5 1595.7C443.7 1593.0 443.9 1590.4 444.1 1587.7C444.3 1585.0 444.6 1582.4 444.8 1579.7C445.0 1577.1 445.2 1574.4 445.4 1571.7C445.6 1569.1 445.8 1566.4 446.0 1563.8C446.3 1561.1 446.5 1558.5 446.7 1555.8C446.9 1553.1 447.1 1550.5 447.3 1547.8C447.5 1545.2 447.7 1542.5 447.9 1539.8C448.1 1537.2 448.3 1534.5 448.5 1531.9C448.7 1529.2 448.9 1526.5 449.0 1523.9C449.2 1521.2 449.4 1518.6 449.6 1515.9C449.8 1513.2 450.0 1510.6 450.2 1507.9C450.4 1505.3 450.6 1502.6 450.8 1499.9C450.9 1497.3 451.1 1494.6 451.3 1492.0C451.5 1489.3 451.7 1486.6 451.9 1484.0C452.1 1481.3 452.2 1478.7 452.4 1476.0C452.6 1473.3 452.8 1470.7 453.0 1468.0C453.1 1465.3 453.3 1462.7 453.5 1460.0C453.7 1457.4 453.9 1454.7 454.0 1452.0C454.2 1449.4 454.4 1446.7 454.6 1444.1C454.7 1441.4 454.9 1438.7 455.1 1436.1C455.3 1433.4 455.4 1430.8 455.6 1428.1C455.8 1425.4 456.0 1422.8 456.1 1420.1C456.3 1417.4 456.5 1414.8 456.6 1412.1C456.8 1409.5 457.0 1406.8 457.1 1404.1C457.3 1401.5 457.5 1398.8 457.6 1396.1C457.8 1393.5 458.0 1390.8 458.1 1388.2C458.3 1385.5 458.4 1382.8 458.6 1380.2C458.8 1377.5 458.9 1374.9 459.1 1372.2C459.2 1369.5 459.4 1366.9 459.6 1364.2C459.7 1361.5 459.9 1358.9 460.0 1356.2C460.2 1353.6 460.4 1350.9 460.5 1348.2C460.7 1345.6 460.8 1342.9 461.0 1340.2C461.1 1337.6 461.3 1334.9 461.5 1332.3C461.6 1329.6 461.8 1326.9 461.9 1324.3C462.1 1321.6 462.2 1318.9 462.4 1316.3C462.6 1313.6 462.7 1311.0 462.9 1308.3C463.0 1305.6 463.2 1303.0 463.4 1300.3C463.5 1297.6 463.7 1295.0 463.9 1292.3C464.0 1289.7 464.2 1287.0 464.4 1284.3C464.5 1281.7 464.7 1279.0 464.9 1276.4C465.1 1273.7 465.2 1271.0 465.4 1268.4C465.6 1265.7 465.8 1263.0 465.9 1260.4C466.1 1257.7 466.3 1255.1 466.5 1252.4C466.7 1249.7 466.8 1247.1 467.0 1244.4C467.2 1241.8 467.4 1239.1 467.6 1236.4C467.8 1233.8 467.9 1231.1 468.1 1228.5C468.3 1225.8 468.5 1223.1 468.7 1220.5C468.9 1217.8 469.1 1215.1 469.2 1212.5C469.4 1209.8 469.6 1207.2 469.8 1204.5C470.0 1201.8 470.2 1199.2 470.4 1196.5C470.5 1193.9 470.7 1191.2 470.9 1188.5C471.1 1185.9 471.3 1183.2 471.5 1180.6C471.7 1177.9 471.8 1175.2 472.0 1172.6C472.2 1169.9 472.4 1167.3 472.6 1164.6C472.8 1161.9 473.0 1159.3 473.1 1156.6C473.3 1154.0 473.5 1151.3 473.7 1148.6C473.9 1146.0 474.1 1143.3 474.3 1140.7C474.4 1138.0 474.6 1135.3 474.8 1132.7C475.0 1130.0 475.2 1127.4 475.4 1124.7C475.6 1122.0 475.8 1119.4 475.9 1116.7C476.1 1114.0 476.3 1111.4 476.5 1108.7C476.7 1106.1 476.9 1103.4 477.1 1100.7C477.3 1098.1 477.5 1095.4 477.7 1092.8C477.9 1090.1 478.1 1087.4 478.2 1084.8C478.4 1082.1 478.6 1079.5 478.8 1076.8C479.0 1074.1 479.2 1071.5 479.4 1068.8C479.6 1066.2 479.8 1063.5 480.0 1060.8C480.2 1058.2 480.4 1055.5 480.6 1052.9C480.8 1050.2 481.0 1047.5 481.2 1044.9C481.4 1042.2 481.6 1039.6 481.8 1036.9C482.0 1034.3 482.2 1031.6 482.4 1028.9C482.6 1026.3 482.8 1023.6 483.0 1021.0C483.2 1018.3 483.5 1015.6 483.7 1013.0C483.9 1010.3 484.1 1007.7 484.3 1005.0C484.5 1002.3 484.7 999.7 484.9 997.0C485.1 994.4 485.3 991.7 485.5 989.0C485.7 986.4 485.9 983.7 486.2 981.1C486.4 978.4 486.6 975.8 486.8 973.1C487.0 970.4 487.2 967.8 487.4 965.1C487.6 962.5 487.9 959.8 488.1 957.1C488.3 954.5 488.5 951.8 488.7 949.2C488.9 946.5 489.1 943.8 489.3 941.2C489.5 938.5 489.8 935.9 490.0 933.2C490.2 930.6 490.4 927.9 490.6 925.2C490.8 922.6 491.0 919.9 491.2 917.3C491.4 914.6 491.6 911.9 491.8 909.3C492.1 906.6 492.3 904.0 492.5 901.3C492.7 898.6 492.9 896.0 493.1 893.3C493.3 890.7 493.5 888.0 493.7 885.4C493.9 882.7 494.1 880.0 494.3 877.4C494.4 874.7 494.6 872.1 494.8 869.4C495.0 866.7 495.2 864.1 495.4 861.4C495.6 858.7 495.8 856.1 496.0 853.4C496.1 850.8 496.3 848.1 496.5 845.4C496.7 842.8 496.9 840.1 497.1 837.5C497.2 834.8 497.4 832.1 497.6 829.5C497.8 826.8 497.9 824.2 498.1 821.5C498.3 818.8 498.5 816.2 498.6 813.5C498.8 810.9 499.0 808.2 499.2 805.5C499.3 802.9 499.5 800.2 499.7 797.5C499.8 794.9 500.0 792.2 500.2 789.6C500.3 786.9 500.5 784.2 500.7 781.6C500.8 778.9 501.0 776.2 501.2 773.6C501.3 770.9 501.5 768.3 501.7 765.6C501.8 762.9 502.0 760.3 502.1 757.6C502.3 755.0 502.5 752.3 502.6 749.6C502.8 747.0 502.9 744.3 503.1 741.6C503.3 739.0 503.4 736.3 503.6 733.7C503.8 731.0 503.9 728.3 504.1 725.7C504.2 723.0 504.4 720.3 504.6 717.7C504.7 715.0 504.9 712.4 505.1 709.7C505.2 707.0 505.4 704.4 505.6 701.7C505.7 699.0 505.9 696.4 506.0 693.7C506.2 691.1 506.4 688.4 506.5 685.7C506.7 683.1 506.9 680.4 507.1 677.8C507.2 675.1 507.4 672.4 507.6 669.8C507.7 667.1 507.9 664.4 508.1 661.8C508.2 659.1 508.4 656.5 508.6 653.8C508.8 651.1 508.9 648.5 509.1 645.8C509.3 643.2 509.4 640.5 509.6 637.8C509.8 635.2 509.9 632.5 510.1 629.8C510.3 627.2 510.4 624.5 510.6 621.9C510.8 619.2 510.9 616.5 511.1 613.9C511.3 611.2 511.4 608.5 511.6 605.9C511.8 603.2 511.9 600.6 512.1 597.9C512.2 595.2 512.4 592.6 512.6 589.9C512.7 587.2 512.9 584.6 513.0 581.9C513.2 579.3 513.3 576.6 513.5 573.9C513.6 571.3 513.8 568.6 513.9 565.9C514.1 563.3 514.2 560.6 514.4 558.0C514.5 555.3 514.7 552.6 514.8 550.0C515.0 547.3 515.1 544.6 515.3 542.0C515.4 539.3 515.6 536.7 515.7 534.0C515.9 531.3 516.1 528.7 516.2 526.0C516.4 523.3 516.5 520.7 516.7 518.0C516.8 515.4 517.0 512.7 517.2 510.0C517.3 507.4 517.5 504.7 517.7 502.0C517.8 499.4 518.0 496.7 518.2 494.1C518.3 491.4 518.5 488.7 518.7 486.1C518.9 483.4 519.1 480.8 519.2 478.1C519.4 475.4 519.6 472.8 519.8 470.1C520.0 467.5 520.2 464.8 520.3 462.1C520.5 459.5 520.7 456.8 520.9 454.2C521.1 451.5 521.3 448.8 521.5 446.2C521.7 443.5 521.9 440.9 522.1 438.2C522.3 435.5 522.4 432.9 522.6 430.2C522.8 427.6 523.0 424.9 523.2 422.2C523.4 419.6 523.6 416.9 523.8 414.3C524.0 411.6 524.2 408.9 524.4 406.3C524.5 403.6 524.7 401.0 524.9 398.3C525.1 395.6 525.3 393.0 525.5 390.3C525.7 387.6 525.9 385.0 526.1 382.3C526.2 379.7 526.4 377.0 526.6 374.3C526.8 371.7 527.0 369.0 527.2 366.4C527.4 363.7 527.6 361.0 527.8 358.4C528.0 355.7 528.2 353.1 528.4 350.4C528.6 347.7 528.8 345.1 529.0 342.4C529.2 339.8 529.4 337.1 529.6 334.5C529.8 331.8 530.0 329.1 530.3 326.5C530.5 323.8 530.7 321.2 530.9 318.5C531.2 315.9 531.4 313.2 531.7 310.5C531.9 307.9 532.2 305.2 532.4 302.6C532.7 299.9 532.9 297.3 533.2 294.6C533.5 292.0 533.8 289.3 534.1 286.7C534.4 284.0 534.7 281.4 535.1 278.7C535.4 276.1 535.7 273.4 536.1 270.8C536.5 268.2 536.8 265.5 537.2 262.9C537.6 260.2 538.1 257.6 538.5 255.0C538.9 252.4 539.4 249.7 539.8 247.1C540.3 244.5 540.8 241.9 541.3 239.2C541.8 236.6 542.3 234.0 542.8 231.4C543.4 228.8 543.9 226.2 544.4 223.5C545.0 220.9 545.5 218.2 546.0 215.7C546.4 213.7 546.8 211.7 547.1 209.8C547.4 208.4 547.6 207.2 547.8 205.9C548.1 204.6 548.3 203.2 548.5 201.9C548.8 200.6 549.0 199.3 549.2 198.0C549.5 196.7 549.7 195.4 549.9 194.0C550.2 192.7 550.4 191.4 550.6 190.1C550.9 188.8 551.1 187.5 551.4 186.2C551.6 184.9 551.9 183.6 552.1 182.2C552.4 180.9 552.7 179.6 552.9 178.3C553.2 177.0 553.4 175.7 553.7 174.4C554.0 173.1 554.2 171.8 554.5 170.5C554.7 169.2 555.0 167.9 555.3 166.6C555.5 165.2 555.8 163.9 556.1 162.6C556.4 161.3 556.6 160.0 556.9 158.7C557.2 157.4 557.6 156.1 557.9 154.8C558.2 153.6 558.6 152.3 558.9 151.0C559.3 149.7 559.7 148.4 560.2 147.2C560.6 145.9 561.0 144.7 561.5 143.4C561.9 142.1 562.3 140.9 562.8 139.6C563.2 138.4 563.5 136.9 564.3 135.9C564.9 135.0 566.1 133.7 566.8 133.8C567.7 133.9 568.2 136.0 568.7 137.3C569.2 138.5 569.6 139.8 570.0 141.1C570.4 142.3 570.7 143.6 571.1 144.9C571.5 146.2 571.9 147.4 572.2 148.7C572.6 150.0 572.9 151.3 573.2 152.6C573.5 153.9 573.8 155.2 574.0 156.5C574.3 157.8 574.5 159.1 574.8 160.4C575.0 161.8 575.2 163.1 575.4 164.4C575.6 165.7 575.8 167.0 576.0 168.3C576.2 169.7 576.4 171.0 576.6 172.3C576.8 173.6 577.0 174.9 577.2 176.3C577.4 177.6 577.6 178.9 577.8 180.2C578.0 181.5 578.2 182.9 578.4 184.2C578.6 185.5 578.7 186.8 578.9 188.1C579.1 189.5 579.3 190.8 579.4 192.1C579.6 193.4 579.8 194.8 579.9 196.1C580.1 197.4 580.3 198.7 580.4 200.1C580.6 201.4 580.7 202.7 580.9 204.0C581.0 205.3 581.2 206.6 581.3 208.0C581.6 210.4 581.9 213.3 582.2 215.9C582.5 218.6 582.8 221.3 583.1 223.9C583.4 226.6 583.7 229.2 584.0 231.9C584.3 234.5 584.5 237.2 584.8 239.8C585.1 242.5 585.4 245.1 585.6 247.8C585.9 250.4 586.1 253.1 586.4 255.7C586.6 258.4 586.9 261.0 587.1 263.7C587.4 266.4 587.6 269.0 587.9 271.7C588.1 274.3 588.4 277.0 588.6 279.6C588.8 282.3 589.1 285.0 589.3 287.6C589.5 290.3 589.8 292.9 590.0 295.6C590.2 298.2 590.5 300.9 590.7 303.6C590.9 306.2 591.2 308.9 591.4 311.5C591.6 314.2 591.9 316.8 592.1 319.5C592.3 322.2 592.6 324.8 592.8 327.5C593.0 330.1 593.2 332.8 593.5 335.4C593.7 338.1 593.9 340.8 594.2 343.4C594.4 346.1 594.6 348.7 594.8 351.4C595.1 354.0 595.3 356.7 595.5 359.4C595.8 362.0 596.0 364.7 596.2 367.3C596.5 370.0 596.7 372.6 596.9 375.3C597.1 378.0 597.4 380.6 597.6 383.3C597.8 385.9 598.1 388.6 598.3 391.2C598.5 393.9 598.7 396.6 599.0 399.2C599.2 401.9 599.4 404.5 599.7 407.2C599.9 409.8 600.1 412.5 600.3 415.2C600.6 417.8 600.8 420.5 601.0 423.1C601.2 425.8 601.5 428.4 601.7 431.1C601.9 433.8 602.1 436.4 602.4 439.1C602.6 441.7 602.8 444.4 603.0 447.0C603.3 449.7 603.5 452.4 603.7 455.0C604.0 457.7 604.2 460.3 604.4 463.0C604.6 465.6 604.9 468.3 605.1 471.0C605.3 473.6 605.6 476.3 605.8 478.9C606.1 481.6 606.3 484.2 606.5 486.9C606.8 489.6 607.0 492.2 607.3 494.9C607.5 497.5 607.8 500.2 608.0 502.8C608.3 505.5 608.6 508.1 608.8 510.8C609.1 513.4 609.3 516.1 609.6 518.8C609.9 521.4 610.1 524.1 610.4 526.7C610.7 529.4 611.0 532.0 611.2 534.7C611.5 537.3 611.8 540.0 612.1 542.6C612.3 545.3 612.6 547.9 612.9 550.6C613.2 553.2 613.4 555.9 613.7 558.5C614.0 561.2 614.3 563.8 614.6 566.5C614.8 569.2 615.1 571.8 615.4 574.5C615.7 577.1 616.0 579.8 616.2 582.4C616.5 585.1 616.8 587.7 617.1 590.4C617.4 593.0 617.6 595.7 617.9 598.3C618.2 601.0 618.5 603.6 618.7 606.3C619.0 608.9 619.3 611.6 619.5 614.2C619.8 616.9 620.1 619.6 620.4 622.2C620.6 624.9 620.9 627.5 621.2 630.2C621.4 632.8 621.7 635.5 621.9 638.1C622.2 640.8 622.5 643.4 622.7 646.1C623.0 648.7 623.2 651.4 623.5 654.1C623.8 656.7 624.0 659.4 624.3 662.0C624.5 664.7 624.8 667.3 625.0 670.0C625.3 672.6 625.5 675.3 625.7 678.0C626.0 680.6 626.2 683.3 626.5 685.9C626.7 688.6 627.0 691.2 627.2 693.9C627.4 696.5 627.7 699.2 627.9 701.9C628.1 704.5 628.4 707.2 628.6 709.8C628.8 712.5 629.0 715.1 629.3 717.8C629.5 720.5 629.7 723.1 629.9 725.8C630.2 728.4 630.4 731.1 630.6 733.8C630.8 736.4 631.0 739.1 631.2 741.7C631.5 744.4 631.7 747.0 631.9 749.7C632.1 752.4 632.3 755.0 632.5 757.7C632.7 760.3 632.9 763.0 633.1 765.7C633.3 768.3 633.5 771.0 633.7 773.6C633.9 776.3 634.1 779.0 634.3 781.6C634.5 784.3 634.7 786.9 634.8 789.6C635.0 792.3 635.2 794.9 635.4 797.6C635.6 800.2 635.8 802.9 635.9 805.6C636.1 808.2 636.3 810.9 636.5 813.5C636.7 816.2 636.8 818.9 637.0 821.5C637.2 824.2 637.3 826.9 637.5 829.5C637.7 832.2 637.9 834.8 638.0 837.5C638.2 840.2 638.4 842.8 638.5 845.5C638.7 848.1 638.8 850.8 639.0 853.5C639.2 856.1 639.3 858.8 639.5 861.5C639.7 864.1 639.8 866.8 640.0 869.4C640.1 872.1 640.3 874.8 640.5 877.4C640.6 880.1 640.8 882.8 640.9 885.4C641.1 888.1 641.3 890.7 641.4 893.4C641.6 896.1 641.8 898.7 641.9 901.4C642.1 904.1 642.2 906.7 642.4 909.4C642.6 912.0 642.7 914.7 642.9 917.4C643.0 920.0 643.2 922.7 643.4 925.4C643.5 928.0 643.7 930.7 643.8 933.3C644.0 936.0 644.1 938.7 644.3 941.3C644.5 944.0 644.6 946.7 644.8 949.3C644.9 952.0 645.1 954.6 645.2 957.3C645.4 960.0 645.5 962.6 645.7 965.3C645.9 968.0 646.0 970.6 646.2 973.3C646.3 975.9 646.5 978.6 646.6 981.3C646.8 983.9 646.9 986.6 647.1 989.3C647.2 991.9 647.3 994.6 647.5 997.2C647.6 999.9 647.8 1002.6 647.9 1005.2C648.1 1007.9 648.2 1010.6 648.4 1013.2C648.5 1015.9 648.7 1018.5 648.8 1021.2C648.9 1023.9 649.1 1026.5 649.2 1029.2C649.4 1031.9 649.5 1034.5 649.6 1037.2C649.8 1039.9 649.9 1042.5 650.1 1045.2C650.2 1047.8 650.3 1050.5 650.5 1053.2C650.6 1055.8 650.8 1058.5 650.9 1061.2C651.0 1063.8 651.2 1066.5 651.3 1069.2C651.5 1071.8 651.6 1074.5 651.8 1077.1C651.9 1079.8 652.0 1082.5 652.2 1085.1C652.3 1087.8 652.5 1090.5 652.6 1093.1C652.7 1095.8 652.9 1098.4 653.0 1101.1C653.2 1103.8 653.3 1106.4 653.5 1109.1C653.6 1111.8 653.8 1114.4 653.9 1117.1C654.0 1119.8 654.2 1122.4 654.3 1125.1C654.5 1127.7 654.6 1130.4 654.8 1133.1C654.9 1135.7 655.1 1138.4 655.2 1141.1C655.4 1143.7 655.5 1146.4 655.7 1149.0C655.8 1151.7 656.0 1154.4 656.1 1157.0C656.3 1159.7 656.4 1162.4 656.6 1165.0C656.8 1167.7 656.9 1170.3 657.1 1173.0C657.2 1175.7 657.4 1178.3 657.5 1181.0C657.7 1183.7 657.9 1186.3 658.0 1189.0C658.2 1191.6 658.4 1194.3 658.5 1197.0C658.7 1199.6 658.9 1202.3 659.0 1205.0C659.2 1207.6 659.4 1210.3 659.5 1212.9C659.7 1215.6 659.9 1218.3 660.0 1220.9C660.2 1223.6 660.4 1226.2 660.6 1228.9C660.7 1231.6 660.9 1234.2 661.1 1236.9C661.3 1239.6 661.5 1242.2 661.6 1244.9C661.8 1247.5 662.0 1250.2 662.2 1252.9C662.4 1255.5 662.6 1258.2 662.7 1260.8C662.9 1263.5 663.1 1266.2 663.3 1268.8C663.5 1271.5 663.7 1274.1 663.9 1276.8C664.1 1279.5 664.3 1282.1 664.5 1284.8C664.6 1287.4 664.8 1290.1 665.0 1292.8C665.2 1295.4 665.4 1298.1 665.6 1300.7C665.8 1303.4 666.0 1306.1 666.2 1308.7C666.4 1311.4 666.6 1314.0 666.8 1316.7C667.0 1319.4 667.2 1322.0 667.4 1324.7C667.6 1327.3 667.8 1330.0 668.0 1332.7C668.2 1335.3 668.5 1338.0 668.7 1340.6C668.9 1343.3 669.1 1346.0 669.3 1348.6C669.5 1351.3 669.7 1353.9 669.9 1356.6C670.1 1359.2 670.3 1361.9 670.5 1364.6C670.7 1367.2 670.9 1369.9 671.1 1372.5C671.3 1375.2 671.5 1377.9 671.7 1380.5C671.9 1383.2 672.1 1385.8 672.3 1388.5C672.5 1391.2 672.7 1393.8 672.9 1396.5C673.1 1399.1 673.3 1401.8 673.5 1404.5C673.7 1407.1 673.9 1409.8 674.1 1412.4C674.3 1415.1 674.4 1417.8 674.6 1420.4C674.8 1423.1 675.0 1425.7 675.2 1428.4C675.4 1431.1 675.6 1433.7 675.8 1436.4C676.0 1439.0 676.2 1441.7 676.4 1444.4C676.6 1447.0 676.8 1449.7 677.0 1452.3C677.2 1455.0 677.4 1457.7 677.6 1460.3C677.8 1463.0 677.9 1465.6 678.1 1468.3C678.3 1471.0 678.5 1473.6 678.7 1476.3C678.9 1478.9 679.1 1481.6 679.3 1484.3C679.5 1486.9 679.7 1489.6 679.9 1492.2C680.1 1494.9 680.3 1497.6 680.5 1500.2C680.7 1502.9 680.9 1505.5 681.1 1508.2C681.3 1510.9 681.5 1513.5 681.7 1516.2C681.9 1518.8 682.1 1521.5 682.3 1524.2C682.6 1526.8 682.8 1529.5 683.0 1532.1C683.2 1534.8 683.4 1537.4 683.6 1540.1C683.8 1542.8 684.0 1545.4 684.2 1548.1C684.4 1550.7 684.6 1553.4 684.9 1556.1C685.1 1558.7 685.3 1561.4 685.5 1564.0C685.7 1566.7 685.9 1569.3 686.2 1572.0C686.4 1574.7 686.6 1577.3 686.8 1580.0C687.0 1582.6 687.3 1585.3 687.5 1588.0C687.7 1590.6 687.9 1593.3 688.2 1595.9C688.4 1598.6 688.6 1601.2 688.9 1603.9C689.1 1606.6 689.3 1609.2 689.6 1611.9C689.8 1614.5 690.0 1617.2 690.3 1619.8C690.5 1622.5 690.8 1625.1 691.0 1627.8C691.3 1630.5 691.5 1633.1 691.8 1635.8C692.1 1638.4 692.3 1641.1 692.6 1643.7C692.9 1646.4 693.1 1649.0 693.4 1651.7C693.7 1654.3 694.0 1657.0 694.3 1659.6C694.6 1662.3 694.9 1664.9 695.2 1667.6C695.5 1670.2 695.8 1672.9 696.1 1675.5C696.4 1678.2 696.8 1680.8 697.1 1683.5C697.4 1686.1 697.8 1688.7 698.1 1691.4C698.5 1694.0 698.8 1696.7 699.2 1699.3C699.5 1702.0 699.9 1704.6 700.2 1707.2C700.6 1709.9 701.0 1712.5 701.4 1715.2C701.7 1717.8 702.1 1720.5 702.5 1723.1C702.9 1725.7 703.2 1728.4 703.6 1731.0C704.0 1733.7 704.4 1736.3 704.8 1738.9C705.1 1741.6 705.5 1744.2 705.9 1746.8C706.3 1749.5 706.7 1752.1 707.1 1754.8C707.4 1757.4 707.8 1760.0 708.2 1762.7C708.6 1765.3 709.0 1768.0 709.3 1770.6C709.7 1773.2 710.1 1775.9 710.5 1778.5C710.8 1781.2 711.2 1783.8 711.6 1786.5C711.9 1789.1 712.3 1791.7 712.6 1794.4C713.0 1797.0 713.3 1799.7 713.7 1802.3C714.1 1804.9 714.4 1807.6 714.8 1810.2C715.1 1812.9 715.5 1815.5 715.8 1818.2C716.1 1820.8 716.5 1823.5 716.8 1826.1C717.2 1828.7 717.5 1831.4 717.9 1834.0C718.2 1836.7 718.5 1839.3 718.9 1842.0C719.2 1844.6 719.6 1847.3 719.9 1849.9C720.3 1852.6 720.6 1855.2 721.0 1857.8C721.3 1860.5 721.6 1863.1 722.0 1865.8C722.3 1868.4 722.7 1871.1 723.0 1873.7C723.4 1876.3 723.8 1879.0 724.1 1881.6C724.5 1884.3 724.8 1886.9 725.2 1889.6C725.5 1892.2 725.9 1894.9 726.2 1897.5C726.6 1900.1 727.0 1902.8 727.3 1905.4C727.7 1908.1 728.1 1910.7 728.4 1913.3C728.8 1916.0 729.2 1918.6 729.6 1921.3C730.0 1923.9 730.3 1926.5 730.7 1929.2C731.1 1931.8 731.5 1934.5 731.9 1937.1C732.3 1939.7 732.7 1942.4 733.1 1945.0C733.5 1947.6 734.0 1950.3 734.4 1952.9C734.8 1955.5 735.2 1958.2 735.7 1960.8C736.1 1963.4 736.5 1966.1 736.9 1968.7C737.4 1971.3 737.8 1974.0 738.3 1976.6C738.7 1979.2 739.1 1981.9 739.5 1984.5C740.0 1987.1 740.4 1989.8 740.8 1992.4C741.2 1995.0 741.6 1997.7 742.0 2000.3C742.3 2002.9 742.7 2005.9 743.0 2008.2C743.2 2009.6 743.4 2010.9 743.5 2012.2C743.7 2013.5 743.9 2014.8 744.0 2016.2C744.2 2017.5 744.4 2018.8 744.6 2020.1C744.7 2021.5 744.9 2022.8 745.1 2024.1C745.3 2025.4 745.5 2026.7 745.7 2028.1C745.9 2029.4 746.1 2030.7 746.4 2032.0C746.6 2033.3 746.9 2034.6 747.1 2035.9C747.4 2037.2 747.7 2038.5 747.9 2039.8C748.2 2041.2 748.5 2042.5 748.8 2043.8C749.0 2045.1 749.3 2046.4 749.6 2047.7C749.9 2049.0 750.2 2050.3 750.4 2051.6C750.7 2052.9 750.9 2054.2 751.2 2055.5C751.4 2056.8 751.7 2058.1 751.9 2059.4C752.2 2060.8 752.5 2062.1 752.7 2063.4C753.0 2064.7 753.2 2066.0 753.5 2067.3C753.8 2068.6 754.0 2069.9 754.3 2071.2C754.6 2072.5 754.9 2073.8 755.2 2075.1C755.5 2076.4 755.8 2077.7 756.1 2079.0C756.4 2080.3 756.7 2081.6 757.1 2082.9C757.4 2084.2 757.7 2085.5 758.0 2086.8C758.4 2088.1 758.7 2089.3 759.1 2090.6C759.4 2091.9 759.8 2093.2 760.1 2094.5C760.5 2095.8 760.8 2097.1 761.2 2098.4C761.5 2099.6 761.9 2100.9 762.2 2102.2C762.6 2103.5 763.0 2104.8 763.3 2106.1C763.7 2107.3 764.1 2108.6 764.6 2109.9C765.0 2111.1 765.4 2112.4 765.9 2113.6C766.3 2114.9 766.8 2116.1 767.3 2117.4C767.8 2118.6 768.3 2119.8 768.8 2121.1C769.4 2122.3 769.9 2123.5 770.5 2124.7C771.0 2125.9 771.6 2127.2 772.2 2128.4C772.7 2129.6 773.3 2130.8 773.9 2131.9C774.5 2133.1 775.1 2134.3 775.8 2135.5C776.4 2136.7 777.0 2137.9 777.7 2139.0C778.3 2140.2 779.0 2141.3 779.6 2142.5C780.3 2143.7 781.0 2144.8 781.7 2145.9C782.4 2147.1 783.1 2148.2 783.8 2149.3C784.5 2150.5 785.2 2151.6 785.9 2152.7C786.7 2153.8 787.4 2154.9 788.1 2156.1C788.9 2157.2 789.6 2158.3 790.4 2159.4C791.1 2160.5 791.9 2161.6 792.7 2162.6C793.5 2163.7 794.3 2164.8 795.1 2165.9C795.9 2166.9 796.7 2168.0 797.5 2169.0C798.3 2170.1 799.2 2171.1 800.0 2172.1C800.9 2173.1 801.8 2174.1 802.7 2175.1C803.5 2176.1 804.4 2177.1 805.3 2178.1C806.3 2179.1 807.2 2180.0 808.1 2181.0C809.1 2181.9 810.1 2182.8 811.1 2183.7C812.1 2184.5 813.1 2185.4 814.2 2186.2C815.3 2187.0 816.4 2187.7 817.5 2188.4C818.6 2189.1 819.8 2189.8 821.0 2190.5C822.1 2191.1 823.3 2191.7 824.5 2192.2C825.8 2192.7 827.0 2193.2 828.3 2193.6C829.6 2194.0 830.9 2194.2 832.2 2194.5C833.5 2194.8 834.8 2195.0 836.1 2195.3C837.4 2195.7 838.7 2196.1 839.9 2196.5C841.2 2196.9 842.4 2197.5 843.6 2198.0C844.9 2198.5 846.1 2199.0 847.3 2199.6C848.5 2200.1 849.8 2200.6 851.0 2201.2C852.2 2201.7 853.4 2202.2 854.7 2202.8C855.9 2203.3 857.1 2203.9 858.3 2204.4C859.5 2204.9 860.8 2205.4 862.0 2205.9C863.3 2206.4 864.5 2206.8 865.8 2207.2C867.1 2207.6 868.4 2207.9 869.7 2208.2C871.0 2208.6 872.3 2208.9 873.6 2209.1C874.9 2209.4 876.2 2209.6 877.5 2209.8C878.8 2209.9 880.2 2210.1 881.5 2210.2C882.8 2210.3 884.2 2210.3 885.5 2210.4C886.8 2210.4 888.2 2210.5 889.5 2210.5C890.8 2210.5 892.1 2210.6 893.5 2210.6C894.8 2210.6 896.1 2210.7 897.5 2210.7C898.8 2210.7 900.1 2210.7 901.5 2210.7C902.8 2210.7 904.2 2210.7 905.5 2210.7C906.8 2210.7 908.2 2210.7 909.5 2210.6C910.8 2210.6 912.2 2210.6 913.5 2210.6C914.8 2210.5 916.2 2210.5 917.5 2210.5C918.8 2210.5 920.2 2210.4 921.5 2210.4C922.8 2210.4 924.2 2210.4 925.5 2210.3C926.8 2210.3 928.2 2210.3 929.5 2210.3C930.8 2210.3 932.2 2210.3 933.5 2210.3C934.8 2210.3 936.2 2210.3 937.5 2210.3C938.8 2210.3 940.2 2210.3 941.5 2210.3C942.8 2210.3 944.2 2210.3 945.5 2210.3C946.8 2210.3 948.2 2210.3 949.5 2210.3C950.8 2210.3 952.2 2210.3 953.5 2210.3C954.8 2210.3 956.2 2210.3 957.5 2210.3C958.8 2210.3 960.2 2210.3 961.5 2210.3C962.8 2210.3 964.2 2210.3 965.5 2210.3C966.8 2210.3 968.2 2210.3 969.5 2210.3C970.8 2210.3 972.2 2210.3 973.5 2210.3C974.8 2210.3 976.2 2210.3 977.5 2210.3C978.8 2210.3 980.2 2210.3 981.5 2210.3C982.8 2210.3 984.2 2210.3 985.5 2210.3C986.8 2210.3 988.2 2210.3 989.5 2210.3C990.8 2210.3 992.2 2210.3 993.5 2210.3C994.8 2210.3 996.2 2210.3 997.5 2210.3C998.8 2210.3 1000.2 2210.3 1001.5 2210.3C1002.8 2210.3 1004.2 2210.3 1005.5 2210.3C1006.8 2210.3 1008.2 2210.3 1009.5 2210.3C1010.8 2210.3 1012.2 2210.3 1013.5 2210.3C1014.8 2210.3 1016.2 2210.3 1017.5 2210.3C1018.8 2210.3 1020.2 2210.3 1021.5 2210.3C1022.8 2210.3 1024.2 2210.3 1025.5 2210.3C1026.8 2210.3 1028.2 2210.3 1029.5 2210.3C1030.8 2210.3 1032.2 2210.3 1033.5 2210.3C1034.8 2210.3 1036.2 2210.3 1037.5 2210.3C1038.8 2210.3 1040.2 2210.3 1041.5 2210.3C1042.8 2210.3 1044.2 2210.3 1045.5 2210.3C1046.8 2210.3 1048.2 2210.3 1049.5 2210.3C1050.8 2210.3 1052.2 2210.3 1053.5 2210.3C1054.8 2210.3 1056.2 2210.3 1057.5 2210.3C1058.8 2210.3 1060.2 2210.3 1061.5 2210.3C1062.8 2210.3 1064.2 2210.3 1065.5 2210.3C1066.8 2210.3 1068.2 2210.3 1069.5 2210.3C1070.8 2210.3 1072.2 2210.3 1073.5 2210.3C1074.8 2210.3 1076.2 2210.3 1077.5 2210.3C1078.8 2210.3 1080.2 2210.3 1081.5 2210.3C1082.8 2210.3 1084.2 2210.3 1085.5 2210.3C1086.8 2210.3 1088.2 2210.3 1089.5 2210.3C1090.8 2210.3 1092.2 2210.3 1093.5 2210.3C1094.8 2210.3 1096.2 2210.3 1097.5 2210.3C1098.8 2210.3 1100.2 2210.3 1101.5 2210.3C1102.8 2210.3 1104.2 2210.3 1105.5 2210.3C1106.8 2210.3 1108.2 2210.3 1109.5 2210.3C1110.8 2210.3 1112.2 2210.3 1113.5 2210.3C1114.8 2210.3 1116.2 2210.3 1117.5 2210.3C1118.8 2210.3 1120.2 2210.3 1121.5 2210.3C1122.8 2210.3 1124.2 2210.3 1125.5 2210.3C1126.8 2210.3 1128.2 2210.3 1129.5 2210.3C1130.8 2210.3 1132.2 2210.3 1133.5 2210.3C1134.9 2210.3 1136.2 2210.3 1137.5 2210.3C1138.9 2210.3 1140.2 2210.3 1141.5 2210.3C1142.9 2210.3 1144.2 2210.3 1145.5 2210.3C1146.9 2210.3 1148.2 2210.3 1149.5 2210.3C1150.9 2210.3 1152.2 2210.3 1153.5 2210.3C1154.9 2210.3 1156.2 2210.3 1157.5 2210.3C1158.9 2210.3 1160.2 2210.3 1161.5 2210.3C1162.9 2210.3 1164.2 2210.3 1165.5 2210.3C1166.9 2210.3 1168.2 2210.3 1169.5 2210.3C1170.9 2210.3 1172.2 2210.3 1173.5 2210.3C1174.9 2210.3 1176.2 2210.3 1177.5 2210.3C1178.9 2210.3 1180.2 2210.3 1181.5 2210.3C1182.9 2210.3 1184.2 2210.3 1185.5 2210.3C1186.9 2210.3 1188.2 2210.3 1189.5 2210.3C1190.9 2210.3 1192.2 2210.3 1193.5 2210.3C1194.9 2210.3 1196.2 2210.3 1197.5 2210.3C1198.9 2210.3 1200.2 2210.3 1201.5 2210.3C1202.9 2210.3 1204.2 2210.3 1205.5 2210.3C1206.9 2210.3 1208.2 2210.3 1209.5 2210.3C1210.9 2210.3 1212.2 2210.3 1213.5 2210.3C1214.9 2210.3 1216.2 2210.3 1217.5 2210.3C1218.9 2210.3 1220.2 2210.3 1221.5 2210.3C1222.9 2210.3 1224.2 2210.3 1225.5 2210.3C1226.9 2210.3 1228.2 2210.3 1229.5 2210.3C1230.9 2210.3 1232.2 2210.3 1233.5 2210.3C1234.9 2210.3 1236.2 2210.3 1237.5 2210.3C1238.9 2210.3 1240.2 2210.3 1241.5 2210.3C1242.9 2210.3 1244.2 2210.3 1245.5 2210.3C1246.9 2210.3 1248.2 2210.3 1249.5 2210.3C1250.9 2210.3 1252.2 2210.3 1253.5 2210.3C1254.9 2210.3 1256.2 2210.3 1257.5 2210.3C1258.9 2210.3 1260.2 2210.3 1261.5 2210.3C1262.9 2210.3 1264.2 2210.3 1265.5 2210.3C1266.9 2210.3 1268.2 2210.3 1269.5 2210.3C1270.9 2210.3 1272.2 2210.3 1273.5 2210.3C1274.9 2210.3 1276.2 2210.3 1277.5 2210.3C1278.9 2210.3 1280.2 2210.3 1281.5 2210.3C1282.9 2210.3 1284.2 2210.3 1285.5 2210.3C1286.9 2210.3 1288.2 2210.3 1289.5 2210.3C1290.9 2210.3 1292.2 2210.3 1293.5 2210.3C1294.9 2210.3 1296.2 2210.3 1297.5 2210.3C1298.9 2210.3 1300.2 2210.3 1301.5 2210.3C1302.9 2210.3 1304.2 2210.3 1305.5 2210.3C1306.9 2210.3 1308.2 2210.3 1309.5 2210.3C1310.9 2210.3 1312.2 2210.3 1313.5 2210.3C1314.9 2210.3 1316.2 2210.3 1317.5 2210.3C1318.9 2210.3 1320.2 2210.3 1321.5 2210.3C1322.9 2210.3 1324.2 2210.3 1325.5 2210.3C1326.9 2210.3 1328.2 2210.3 1329.5 2210.3C1330.9 2210.3 1332.2 2210.3 1333.5 2210.3C1334.9 2210.3 1336.2 2210.3 1337.5 2210.3C1338.9 2210.3 1340.2 2210.3 1341.6 2210.3C1342.9 2210.3 1344.2 2210.3 1345.6 2210.3C1346.9 2210.3 1348.2 2210.3 1349.6 2210.3C1350.9 2210.3 1352.2 2210.3 1353.6 2210.3C1354.9 2210.3 1356.2 2210.3 1357.6 2210.3C1358.9 2210.3 1360.2 2210.3 1361.6 2210.3C1362.9 2210.3 1364.2 2210.3 1365.6 2210.3C1366.9 2210.3 1368.2 2210.3 1369.6 2210.3C1370.9 2210.3 1372.2 2210.3 1373.6 2210.3C1374.9 2210.3 1376.2 2210.3 1377.6 2210.3C1378.9 2210.3 1380.2 2210.3 1381.6 2210.3C1382.9 2210.3 1384.2 2210.3 1385.6 2210.3C1386.9 2210.3 1388.2 2210.3 1389.6 2210.3C1390.9 2210.3 1392.2 2210.3 1393.6 2210.3C1394.9 2210.3 1396.2 2210.3 1397.6 2210.3C1398.9 2210.3 1400.2 2210.3 1401.6 2210.3C1402.9 2210.3 1404.2 2210.3 1405.6 2210.3C1406.9 2210.3 1408.2 2210.3 1409.6 2210.3C1410.9 2210.3 1412.2 2210.3 1413.6 2210.3C1414.9 2210.3 1416.2 2210.3 1417.6 2210.3C1418.9 2210.3 1420.2 2210.3 1421.6 2210.3C1422.9 2210.3 1424.2 2210.3 1425.6 2210.3C1426.9 2210.3 1428.2 2210.3 1429.6 2210.3C1430.9 2210.3 1432.2 2210.3 1433.6 2210.3C1434.9 2210.3 1436.2 2210.3 1437.6 2210.3C1438.9 2210.3 1440.2 2210.3 1441.6 2210.3C1442.9 2210.3 1444.2 2210.3 1445.6 2210.3C1446.9 2210.3 1448.2 2210.3 1449.6 2210.3C1450.9 2210.3 1452.2 2210.3 1453.6 2210.3C1454.9 2210.3 1456.2 2210.3 1457.6 2210.3C1458.9 2210.3 1460.2 2210.3 1461.6 2210.3C1462.9 2210.3 1464.2 2210.3 1465.6 2210.3C1466.9 2210.3 1468.2 2210.3 1469.6 2210.3C1470.9 2210.3 1472.2 2210.3 1473.6 2210.3C1474.9 2210.3 1476.2 2210.3 1477.6 2210.3C1478.9 2210.3 1480.2 2210.3 1481.6 2210.3C1482.9 2210.3 1484.2 2210.3 1485.6 2210.3C1486.9 2210.3 1488.2 2210.3 1489.6 2210.3C1490.9 2210.3 1492.2 2210.3 1493.6 2210.3C1494.9 2210.3 1496.2 2210.3 1497.6 2210.3C1498.9 2210.3 1500.2 2210.3 1501.6 2210.3C1502.9 2210.3 1504.2 2210.3 1505.6 2210.3C1506.9 2210.3 1508.2 2210.3 1509.6 2210.3C1510.9 2210.3 1512.2 2210.3 1513.6 2210.3C1514.9 2210.3 1516.2 2210.3 1517.6 2210.3C1518.9 2210.3 1520.2 2210.3 1521.6 2210.3C1522.9 2210.3 1524.2 2210.3 1525.6 2210.3C1526.9 2210.3 1528.2 2210.3 1529.6 2210.3C1530.9 2210.3 1532.2 2210.3 1533.6 2210.3C1534.9 2210.3 1536.2 2210.3 1537.6 2210.3C1538.9 2210.3 1540.2 2210.3 1541.6 2210.3C1542.9 2210.3 1544.2 2210.3 1545.6 2210.3C1546.9 2210.3 1548.2 2210.3 1549.6 2210.3C1550.9 2210.3 1552.3 2210.3 1553.6 2210.3C1554.9 2210.3 1556.3 2210.3 1557.6 2210.3C1558.9 2210.3 1560.3 2210.3 1561.6 2210.3C1562.9 2210.3 1564.3 2210.3 1565.6 2210.3C1566.9 2210.3 1568.3 2210.3 1569.6 2210.3C1570.9 2210.3 1572.3 2210.3 1573.6 2210.3C1574.9 2210.3 1576.3 2210.3 1577.6 2210.3C1578.9 2210.3 1580.3 2210.3 1581.6 2210.3C1582.9 2210.3 1584.3 2210.3 1585.6 2210.3C1586.9 2210.3 1588.3 2210.3 1589.6 2210.3C1590.9 2210.3 1592.3 2210.3 1593.6 2210.3C1594.9 2210.3 1596.3 2210.3 1597.6 2210.3C1598.9 2210.3 1600.3 2210.3 1601.6 2210.3C1602.9 2210.3 1604.3 2210.3 1605.6 2210.3C1606.9 2210.3 1608.3 2210.3 1609.6 2210.3C1610.9 2210.3 1612.3 2210.3 1613.6 2210.3C1614.9 2210.3 1616.3 2210.3 1617.6 2210.3C1618.9 2210.3 1620.3 2210.3 1621.6 2210.3C1622.9 2210.3 1624.3 2210.3 1625.6 2210.3C1626.9 2210.3 1628.3 2210.3 1629.6 2210.3C1630.9 2210.3 1632.3 2210.3 1633.6 2210.3C1634.9 2210.3 1636.3 2210.3 1637.6 2210.3C1638.9 2210.3 1640.3 2210.3 1641.6 2210.3C1642.9 2210.3 1644.3 2210.3 1645.6 2210.3C1646.9 2210.3 1648.3 2210.3 1649.6 2210.3C1650.9 2210.3 1652.3 2210.3 1653.6 2210.3" stroke="#A2A500" stroke-width="10.6" fill="none" stroke-linejoin="round" stroke-linecap="butt"/>
<path d="M240.0 2210.3C241.3 2210.3 242.7 2210.3 244.0 2210.3C245.3 2210.3 246.7 2210.3 248.0 2210.3C249.3 2210.3 250.7 2210.3 252.0 2210.3C253.3 2210.3 254.7 2210.3 256.0 2210.3C257.3 2210.3 258.7 2210.3 260.0 2210.3C261.3 2210.3 262.7 2210.3 264.0 2210.3C265.3 2210.3 266.7 2210.3 268.0 2210.3C269.3 2210.3 270.7 2210.3 272.0 2210.3C273.3 2210.3 274.7 2210.3 276.0 2210.3C277.3 2210.3 278.7 2210.3 280.0 2210.3C281.3 2210.3 282.7 2210.3 284.0 2210.3C285.3 2210.3 286.7 2210.3 288.0 2210.3C289.3 2210.3 290.7 2210.3 292.0 2210.3C293.3 2210.3 294.7 2210.3 296.0 2210.3C297.3 2210.3 298.7 2210.3 300.0 2210.3C301.3 2210.3 302.7 2210.3 304.0 2210.3C305.3 2210.3 306.7 2210.3 308.0 2210.3C309.3 2210.3 310.7 2210.3 312.0 2210.3C313.3 2210.3 314.7 2210.3 316.0 2210.3C317.3 2210.3 318.7 2210.3 320.0 2210.3C321.3 2210.3 322.7 2210.3 324.0 2210.3C325.3 2210.3 326.7 2210.3 328.0 2210.3C329.3 2210.3 330.7 2210.3 332.0 2210.3C333.3 2210.3 334.7 2210.3 336.0 2210.3C337.3 2210.3 338.7 2210.3 340.0 2210.3C341.3 2210.3 342.7 2210.3 344.0 2210.3C345.3 2210.3 346.7 2210.3 348.0 2210.3C349.3 2210.3 350.7 2210.3 352.0 2210.3C353.3 2210.3 354.7 2210.3 356.0 2210.3C357.3 2210.3 358.7 2210.3 360.0 2210.3C361.3 2210.3 362.7 2210.3 364.0 2210.3C365.4 2210.3 366.7 2210.3 368.0 2210.3C369.4 2210.3 370.7 2210.3 372.0 2210.3C373.4 2210.3 374.7 2210.3 376.0 2210.3C377.4 2210.3 378.7 2210.4 380.0 2210.4C381.4 2210.4 382.7 2210.4 384.0 2210.3C385.4 2210.3 386.7 2210.2 388.0 2210.1C389.3 2210.0 390.7 2209.9 392.0 2209.8C393.3 2209.7 394.7 2209.5 396.0 2209.3C397.3 2209.1 398.6 2208.9 399.9 2208.6C401.2 2208.4 402.5 2208.1 403.8 2207.8C405.1 2207.5 406.4 2207.2 407.7 2206.8C409.0 2206.5 410.3 2206.1 411.5 2205.7C412.8 2205.3 414.1 2204.8 415.3 2204.3C416.5 2203.8 417.8 2203.3 419.0 2202.7C420.2 2202.1 421.3 2201.5 422.5 2200.8C423.7 2200.2 424.8 2199.5 426.0 2198.9C427.2 2198.3 428.4 2197.7 429.5 2197.0C430.7 2196.4 431.9 2195.8 433.1 2195.2C434.3 2194.6 435.4 2193.9 436.6 2193.3C437.8 2192.8 439.0 2192.2 440.3 2191.7C441.5 2191.3 442.8 2190.9 444.1 2190.5C445.4 2190.2 446.7 2189.9 448.0 2189.6C449.3 2189.3 450.6 2189.2 451.9 2188.9C453.2 2188.7 454.6 2188.5 455.9 2188.2C457.2 2187.9 458.5 2187.5 459.7 2187.1C461.0 2186.6 462.2 2186.1 463.4 2185.5C464.6 2184.9 465.7 2184.2 466.8 2183.5C467.9 2182.7 468.9 2181.8 469.9 2181.0C470.9 2180.1 471.8 2179.1 472.7 2178.1C473.7 2177.2 474.5 2176.1 475.3 2175.1C476.2 2174.0 476.9 2172.9 477.7 2171.8C478.4 2170.7 479.1 2169.6 479.8 2168.4C480.5 2167.3 481.1 2166.2 481.8 2165.0C482.5 2163.8 483.1 2162.7 483.8 2161.5C484.4 2160.3 485.0 2159.1 485.6 2157.9C486.2 2156.7 486.8 2155.5 487.3 2154.3C487.9 2153.1 488.5 2151.9 489.0 2150.7C489.6 2149.5 490.2 2148.3 490.7 2147.1C491.3 2145.9 491.9 2144.7 492.4 2143.5C493.0 2142.3 493.5 2141.1 494.1 2139.8C494.7 2138.6 495.2 2137.4 495.7 2136.2C496.3 2135.0 496.8 2133.8 497.4 2132.5C497.9 2131.3 498.5 2130.1 499.0 2128.9C499.6 2127.7 500.1 2126.5 500.7 2125.2C501.2 2124.0 501.8 2122.8 502.3 2121.6C502.9 2120.4 503.4 2119.2 504.0 2118.0C504.5 2116.8 505.1 2115.5 505.6 2114.3C506.2 2113.1 506.7 2111.9 507.3 2110.7C507.8 2109.5 508.4 2108.3 509.0 2107.0C509.5 2105.8 510.1 2104.6 510.6 2103.4C511.1 2102.2 511.7 2101.0 512.2 2099.8C512.8 2098.5 513.4 2097.3 513.9 2096.1C514.5 2094.9 515.0 2093.7 515.6 2092.5C516.2 2091.3 516.7 2090.1 517.2 2088.8C517.8 2087.6 518.3 2086.4 518.8 2085.2C519.3 2083.9 519.8 2082.7 520.3 2081.4C520.8 2080.2 521.2 2078.9 521.7 2077.7C522.1 2076.4 522.5 2075.2 523.0 2073.9C523.4 2072.6 523.8 2071.4 524.2 2070.1C524.6 2068.8 525.0 2067.6 525.4 2066.3C525.8 2065.0 526.2 2063.7 526.5 2062.5C526.9 2061.2 527.3 2059.9 527.7 2058.6C528.0 2057.3 528.4 2056.0 528.7 2054.8C529.1 2053.5 529.4 2052.2 529.8 2050.9C530.1 2049.6 530.5 2048.3 530.8 2047.0C531.2 2045.8 531.6 2044.5 531.9 2043.2C532.3 2041.9 532.7 2040.6 533.1 2039.4C533.5 2038.1 533.9 2036.8 534.2 2035.5C534.6 2034.2 534.9 2033.0 535.3 2031.7C535.6 2030.4 535.9 2029.1 536.2 2027.8C536.5 2026.5 536.7 2025.2 537.0 2023.8C537.2 2022.5 537.4 2021.2 537.7 2019.9C537.9 2018.6 538.1 2017.3 538.3 2016.0C538.6 2014.6 538.8 2013.3 539.0 2012.0C539.2 2010.7 539.4 2009.5 539.6 2008.1C540.0 2005.7 540.5 2002.8 541.0 2000.2C541.5 1997.6 541.9 1994.9 542.5 1992.3C543.0 1989.7 543.5 1987.1 544.0 1984.5C544.6 1981.9 545.1 1979.3 545.6 1976.6C546.2 1974.0 546.7 1971.4 547.3 1968.8C547.8 1966.2 548.3 1963.6 548.9 1961.0C549.4 1958.4 549.9 1955.7 550.4 1953.1C550.9 1950.5 551.4 1947.9 551.9 1945.3C552.4 1942.6 552.9 1940.0 553.3 1937.4C553.8 1934.8 554.3 1932.1 554.7 1929.5C555.2 1926.9 555.6 1924.3 556.1 1921.6C556.5 1919.0 557.0 1916.4 557.4 1913.7C557.9 1911.1 558.3 1908.5 558.7 1905.8C559.2 1903.2 559.6 1900.6 560.0 1898.0C560.5 1895.3 560.9 1892.7 561.3 1890.1C561.8 1887.4 562.2 1884.8 562.6 1882.2C563.1 1879.5 563.5 1876.9 563.9 1874.3C564.4 1871.6 564.8 1869.0 565.2 1866.4C565.7 1863.7 566.1 1861.1 566.5 1858.5C566.9 1855.8 567.4 1853.2 567.8 1850.6C568.2 1847.9 568.6 1845.3 569.1 1842.7C569.5 1840.0 569.9 1837.4 570.3 1834.8C570.8 1832.1 571.2 1829.5 571.6 1826.9C572.0 1824.2 572.4 1821.6 572.8 1819.0C573.3 1816.3 573.7 1813.7 574.1 1811.1C574.5 1808.4 574.9 1805.8 575.3 1803.2C575.7 1800.5 576.1 1797.9 576.5 1795.3C576.9 1792.6 577.3 1790.0 577.7 1787.4C578.1 1784.7 578.5 1782.1 578.9 1779.4C579.3 1776.8 579.7 1774.2 580.1 1771.5C580.5 1768.9 580.9 1766.2 581.3 1763.6C581.6 1761.0 582.0 1758.3 582.4 1755.7C582.8 1753.1 583.2 1750.4 583.5 1747.8C583.9 1745.1 584.3 1742.5 584.7 1739.9C585.0 1737.2 585.4 1734.6 585.8 1731.9C586.2 1729.3 586.5 1726.6 586.9 1724.0C587.2 1721.4 587.6 1718.7 588.0 1716.1C588.3 1713.4 588.7 1710.8 589.0 1708.1C589.4 1705.5 589.8 1702.9 590.1 1700.2C590.5 1697.6 590.8 1694.9 591.2 1692.3C591.5 1689.6 591.8 1687.0 592.2 1684.4C592.5 1681.7 592.9 1679.1 593.2 1676.4C593.5 1673.8 593.8 1671.1 594.2 1668.5C594.5 1665.8 594.8 1663.2 595.1 1660.5C595.5 1657.9 595.8 1655.2 596.1 1652.6C596.4 1649.9 596.7 1647.3 597.0 1644.6C597.3 1642.0 597.6 1639.3 597.9 1636.7C598.2 1634.0 598.5 1631.4 598.8 1628.7C599.1 1626.1 599.4 1623.4 599.7 1620.8C600.0 1618.1 600.3 1615.5 600.6 1612.8C600.8 1610.2 601.1 1607.5 601.4 1604.9C601.7 1602.2 602.0 1599.6 602.3 1596.9C602.5 1594.3 602.8 1591.6 603.1 1589.0C603.4 1586.3 603.7 1583.7 603.9 1581.0C604.2 1578.4 604.5 1575.7 604.8 1573.1C605.1 1570.4 605.3 1567.8 605.6 1565.1C605.9 1562.4 606.2 1559.8 606.4 1557.1C606.7 1554.5 607.0 1551.8 607.2 1549.2C607.5 1546.5 607.8 1543.9 608.0 1541.2C608.3 1538.6 608.6 1535.9 608.9 1533.3C609.1 1530.6 609.4 1528.0 609.6 1525.3C609.9 1522.6 610.2 1520.0 610.4 1517.3C610.7 1514.7 611.0 1512.0 611.2 1509.4C611.5 1506.7 611.7 1504.1 612.0 1501.4C612.2 1498.8 612.5 1496.1 612.8 1493.4C613.0 1490.8 613.3 1488.1 613.5 1485.5C613.8 1482.8 614.0 1480.2 614.3 1477.5C614.5 1474.9 614.7 1472.2 615.0 1469.5C615.2 1466.9 615.5 1464.2 615.7 1461.6C616.0 1458.9 616.2 1456.3 616.4 1453.6C616.7 1451.0 616.9 1448.3 617.2 1445.6C617.4 1443.0 617.6 1440.3 617.9 1437.7C618.1 1435.0 618.3 1432.4 618.6 1429.7C618.8 1427.0 619.0 1424.4 619.2 1421.7C619.5 1419.1 619.7 1416.4 619.9 1413.8C620.2 1411.1 620.4 1408.4 620.6 1405.8C620.8 1403.1 621.1 1400.5 621.3 1397.8C621.5 1395.2 621.7 1392.5 621.9 1389.8C622.2 1387.2 622.4 1384.5 622.6 1381.9C622.8 1379.2 623.0 1376.6 623.3 1373.9C623.5 1371.2 623.7 1368.6 623.9 1365.9C624.1 1363.3 624.3 1360.6 624.5 1357.9C624.8 1355.3 625.0 1352.6 625.2 1350.0C625.4 1347.3 625.6 1344.6 625.8 1342.0C626.0 1339.3 626.2 1336.7 626.4 1334.0C626.6 1331.4 626.8 1328.7 627.0 1326.0C627.2 1323.4 627.4 1320.7 627.6 1318.1C627.8 1315.4 628.0 1312.7 628.2 1310.1C628.4 1307.4 628.6 1304.8 628.8 1302.1C629.0 1299.4 629.1 1296.8 629.3 1294.1C629.5 1291.5 629.7 1288.8 629.9 1286.1C630.1 1283.5 630.2 1280.8 630.4 1278.2C630.6 1275.5 630.8 1272.8 630.9 1270.2C631.1 1267.5 631.3 1264.8 631.5 1262.2C631.6 1259.5 631.8 1256.9 632.0 1254.2C632.1 1251.5 632.3 1248.9 632.5 1246.2C632.6 1243.6 632.8 1240.9 633.0 1238.2C633.1 1235.6 633.3 1232.9 633.5 1230.2C633.6 1227.6 633.8 1224.9 634.0 1222.3C634.1 1219.6 634.3 1216.9 634.5 1214.3C634.6 1211.6 634.8 1209.0 635.0 1206.3C635.2 1203.6 635.3 1201.0 635.5 1198.3C635.7 1195.6 635.9 1193.0 636.1 1190.3C636.3 1187.7 636.4 1185.0 636.6 1182.3C636.8 1179.7 637.0 1177.0 637.2 1174.4C637.4 1171.7 637.6 1169.0 637.8 1166.4C638.0 1163.7 638.2 1161.1 638.4 1158.4C638.6 1155.7 638.8 1153.1 639.0 1150.4C639.2 1147.8 639.4 1145.1 639.6 1142.4C639.8 1139.8 640.0 1137.1 640.2 1134.5C640.4 1131.8 640.6 1129.2 640.8 1126.5C641.0 1123.8 641.2 1121.2 641.4 1118.5C641.6 1115.9 641.8 1113.2 642.0 1110.5C642.2 1107.9 642.4 1105.2 642.6 1102.6C642.8 1099.9 643.0 1097.2 643.2 1094.6C643.4 1091.9 643.6 1089.3 643.8 1086.6C644.0 1083.9 644.2 1081.3 644.4 1078.6C644.6 1076.0 644.8 1073.3 645.0 1070.6C645.2 1068.0 645.4 1065.3 645.5 1062.7C645.7 1060.0 645.9 1057.3 646.1 1054.7C646.3 1052.0 646.5 1049.4 646.7 1046.7C646.9 1044.0 647.1 1041.4 647.2 1038.7C647.4 1036.1 647.6 1033.4 647.8 1030.7C648.0 1028.1 648.2 1025.4 648.4 1022.8C648.6 1020.1 648.8 1017.4 648.9 1014.8C649.1 1012.1 649.3 1009.5 649.5 1006.8C649.7 1004.1 649.9 1001.5 650.1 998.8C650.3 996.2 650.5 993.5 650.7 990.8C650.9 988.2 651.1 985.5 651.3 982.9C651.5 980.2 651.7 977.5 651.9 974.9C652.1 972.2 652.3 969.6 652.5 966.9C652.7 964.2 652.9 961.6 653.1 958.9C653.4 956.3 653.6 953.6 653.8 951.0C654.0 948.3 654.2 945.6 654.4 943.0C654.6 940.3 654.9 937.7 655.1 935.0C655.3 932.3 655.5 929.7 655.7 927.0C656.0 924.4 656.2 921.7 656.4 919.1C656.6 916.4 656.9 913.7 657.1 911.1C657.3 908.4 657.6 905.8 657.8 903.1C658.0 900.5 658.2 897.8 658.5 895.1C658.7 892.5 659.0 889.8 659.2 887.2C659.4 884.5 659.7 881.9 659.9 879.2C660.2 876.6 660.4 873.9 660.6 871.2C660.9 868.6 661.1 865.9 661.4 863.3C661.6 860.6 661.9 858.0 662.1 855.3C662.4 852.6 662.6 850.0 662.9 847.3C663.1 844.7 663.4 842.0 663.6 839.4C663.9 836.7 664.1 834.1 664.4 831.4C664.6 828.8 664.8 826.1 665.1 823.4C665.3 820.8 665.6 818.1 665.8 815.5C666.1 812.8 666.3 810.2 666.6 807.5C666.8 804.8 667.0 802.2 667.3 799.5C667.5 796.9 667.7 794.2 668.0 791.6C668.2 788.9 668.4 786.3 668.7 783.6C668.9 780.9 669.1 778.3 669.4 775.6C669.6 773.0 669.8 770.3 670.0 767.7C670.3 765.0 670.5 762.3 670.7 759.7C671.0 757.0 671.2 754.4 671.4 751.7C671.6 749.1 671.9 746.4 672.1 743.7C672.3 741.1 672.6 738.4 672.8 735.8C673.0 733.1 673.3 730.5 673.5 727.8C673.8 725.1 674.0 722.5 674.3 719.8C674.5 717.2 674.8 714.5 675.0 711.9C675.3 709.2 675.5 706.6 675.8 703.9C676.1 701.3 676.3 698.6 676.6 696.0C676.9 693.3 677.2 690.7 677.5 688.0C677.8 685.4 678.0 682.7 678.3 680.1C678.6 677.4 679.0 674.8 679.3 672.1C679.6 669.5 679.9 666.8 680.2 664.2C680.5 661.5 680.8 658.9 681.2 656.2C681.5 653.6 681.8 650.9 682.1 648.3C682.5 645.6 682.8 643.0 683.1 640.3C683.5 637.7 683.8 635.0 684.1 632.4C684.4 629.8 684.8 627.1 685.1 624.5C685.5 621.8 685.8 619.2 686.1 616.5C686.5 613.9 686.8 611.2 687.1 608.6C687.5 605.9 687.8 603.3 688.1 600.7C688.4 598.0 688.8 595.4 689.1 592.7C689.4 590.1 689.7 587.4 690.0 584.8C690.3 582.1 690.6 579.5 690.9 576.8C691.2 574.2 691.5 571.5 691.8 568.9C692.1 566.2 692.4 563.6 692.6 560.9C692.9 558.3 693.2 555.6 693.5 552.9C693.7 550.3 694.0 547.6 694.3 545.0C694.5 542.3 694.8 539.7 695.1 537.0C695.3 534.4 695.6 531.7 695.8 529.1C696.1 526.4 696.3 523.8 696.6 521.1C696.9 518.4 697.1 515.8 697.4 513.1C697.7 510.5 697.9 507.8 698.2 505.2C698.5 502.5 698.7 499.9 699.0 497.2C699.3 494.6 699.6 491.9 699.9 489.3C700.2 486.6 700.5 484.0 700.8 481.3C701.2 478.7 701.5 476.0 701.9 473.4C702.2 470.7 702.6 468.1 703.0 465.5C703.4 462.8 703.8 460.2 704.2 457.6C704.7 454.9 705.2 452.0 705.6 449.7C705.9 448.3 706.1 447.1 706.3 445.8C706.6 444.4 706.8 443.1 707.1 441.8C707.4 440.5 707.6 439.2 707.9 437.9C708.2 436.6 708.4 435.3 708.7 434.0C709.0 432.7 709.3 431.4 709.5 430.1C709.8 428.8 710.1 427.5 710.3 426.2C710.6 424.9 710.9 423.5 711.2 422.2C711.4 420.9 711.7 419.6 712.0 418.3C712.3 417.0 712.5 415.7 712.8 414.4C713.1 413.1 713.4 411.8 713.7 410.5C714.0 409.2 714.3 407.9 714.6 406.6C714.8 405.3 715.1 404.0 715.4 402.7C715.7 401.4 716.0 400.1 716.3 398.8C716.7 397.5 717.0 396.2 717.4 394.9C717.7 393.7 718.1 392.4 718.5 391.1C718.9 389.8 719.4 388.6 719.8 387.3C720.3 386.1 720.7 384.8 721.2 383.6C721.7 382.3 722.2 381.1 722.8 379.9C723.3 378.7 723.9 377.5 724.4 376.3C725.0 375.1 725.6 373.9 726.3 372.7C726.9 371.5 727.3 370.1 728.0 369.1C728.8 368.1 729.9 366.6 730.8 366.6C731.8 366.6 732.8 368.3 733.7 369.3C734.5 370.3 735.1 371.6 735.7 372.8C736.3 373.9 737.0 375.1 737.5 376.3C738.1 377.5 738.5 378.8 738.9 380.1C739.4 381.3 739.7 382.6 740.1 383.9C740.4 385.2 740.7 386.5 741.1 387.8C741.4 389.1 741.7 390.4 742.0 391.6C742.4 392.9 742.7 394.2 743.0 395.5C743.3 396.8 743.6 398.1 743.8 399.4C744.1 400.8 744.3 402.1 744.6 403.4C744.9 404.7 745.1 406.0 745.4 407.3C745.6 408.6 745.9 409.9 746.2 411.2C746.4 412.5 746.7 413.8 747.0 415.1C747.3 416.4 747.6 417.7 747.8 419.0C748.1 420.3 748.4 421.7 748.6 423.0C748.9 424.3 749.2 425.6 749.4 426.9C749.7 428.2 749.9 429.5 750.1 430.8C750.4 432.1 750.6 433.4 750.8 434.8C751.0 436.1 751.2 437.4 751.5 438.7C751.7 440.0 751.9 441.2 752.1 442.7C752.5 445.0 753.0 447.9 753.4 450.5C753.9 453.2 754.3 455.8 754.7 458.4C755.1 461.1 755.4 463.7 755.7 466.4C756.1 469.0 756.3 471.7 756.6 474.3C756.9 477.0 757.1 479.6 757.4 482.3C757.7 484.9 758.0 487.6 758.3 490.2C758.6 492.9 758.9 495.5 759.3 498.2C759.6 500.8 759.9 503.4 760.3 506.1C760.6 508.7 760.9 511.4 761.3 514.0C761.6 516.7 762.0 519.3 762.3 522.0C762.7 524.6 763.0 527.2 763.4 529.9C763.7 532.5 764.1 535.2 764.5 537.8C764.8 540.5 765.2 543.1 765.5 545.7C765.9 548.4 766.2 551.0 766.6 553.7C767.0 556.3 767.3 559.0 767.7 561.6C768.0 564.2 768.4 566.9 768.7 569.5C769.1 572.2 769.5 574.8 769.8 577.5C770.2 580.1 770.5 582.7 770.9 585.4C771.3 588.0 771.6 590.7 772.0 593.3C772.4 596.0 772.7 598.6 773.1 601.2C773.5 603.9 773.8 606.5 774.2 609.2C774.6 611.8 774.9 614.4 775.3 617.1C775.7 619.7 776.1 622.4 776.4 625.0C776.8 627.6 777.2 630.3 777.5 632.9C777.9 635.6 778.3 638.2 778.6 640.9C779.0 643.5 779.4 646.1 779.7 648.8C780.1 651.4 780.4 654.1 780.8 656.7C781.2 659.4 781.5 662.0 781.9 664.6C782.2 667.3 782.6 669.9 782.9 672.6C783.3 675.2 783.6 677.9 783.9 680.5C784.3 683.1 784.6 685.8 785.0 688.4C785.3 691.1 785.6 693.7 785.9 696.4C786.3 699.0 786.6 701.7 786.9 704.3C787.2 707.0 787.5 709.6 787.8 712.3C788.2 714.9 788.5 717.6 788.8 720.2C789.1 722.9 789.4 725.5 789.7 728.2C790.0 730.8 790.2 733.5 790.5 736.1C790.8 738.8 791.1 741.4 791.4 744.1C791.7 746.7 791.9 749.4 792.2 752.0C792.5 754.7 792.8 757.3 793.0 760.0C793.3 762.6 793.6 765.3 793.8 767.9C794.1 770.6 794.3 773.3 794.6 775.9C794.8 778.6 795.1 781.2 795.3 783.9C795.6 786.5 795.8 789.2 796.1 791.8C796.3 794.5 796.6 797.2 796.8 799.8C797.0 802.5 797.3 805.1 797.5 807.8C797.7 810.4 798.0 813.1 798.2 815.8C798.4 818.4 798.7 821.1 798.9 823.7C799.1 826.4 799.3 829.0 799.5 831.7C799.8 834.4 800.0 837.0 800.2 839.7C800.4 842.3 800.6 845.0 800.9 847.6C801.1 850.3 801.3 853.0 801.5 855.6C801.7 858.3 801.9 860.9 802.2 863.6C802.4 866.3 802.6 868.9 802.8 871.6C803.0 874.2 803.2 876.9 803.5 879.5C803.7 882.2 803.9 884.9 804.1 887.5C804.3 890.2 804.5 892.8 804.8 895.5C805.0 898.1 805.2 900.8 805.4 903.5C805.6 906.1 805.9 908.8 806.1 911.4C806.3 914.1 806.5 916.8 806.7 919.4C807.0 922.1 807.2 924.7 807.4 927.4C807.6 930.0 807.9 932.7 808.1 935.4C808.3 938.0 808.5 940.7 808.7 943.3C808.9 946.0 809.2 948.6 809.4 951.3C809.6 954.0 809.8 956.6 810.0 959.3C810.2 961.9 810.5 964.6 810.7 967.3C810.9 969.9 811.1 972.6 811.3 975.2C811.5 977.9 811.7 980.5 811.9 983.2C812.1 985.9 812.3 988.5 812.5 991.2C812.7 993.8 812.9 996.5 813.1 999.2C813.3 1001.8 813.5 1004.5 813.7 1007.1C813.9 1009.8 814.1 1012.5 814.3 1015.1C814.5 1017.8 814.7 1020.4 814.9 1023.1C815.1 1025.8 815.3 1028.4 815.5 1031.1C815.6 1033.7 815.8 1036.4 816.0 1039.1C816.2 1041.7 816.4 1044.4 816.6 1047.0C816.8 1049.7 816.9 1052.4 817.1 1055.0C817.3 1057.7 817.5 1060.4 817.6 1063.0C817.8 1065.7 818.0 1068.3 818.2 1071.0C818.3 1073.7 818.5 1076.3 818.7 1079.0C818.9 1081.6 819.0 1084.3 819.2 1087.0C819.4 1089.6 819.5 1092.3 819.7 1094.9C819.9 1097.6 820.1 1100.3 820.2 1102.9C820.4 1105.6 820.6 1108.3 820.7 1110.9C820.9 1113.6 821.1 1116.2 821.2 1118.9C821.4 1121.6 821.5 1124.2 821.7 1126.9C821.9 1129.6 822.0 1132.2 822.2 1134.9C822.4 1137.5 822.5 1140.2 822.7 1142.9C822.9 1145.5 823.0 1148.2 823.2 1150.8C823.4 1153.5 823.5 1156.2 823.7 1158.8C823.9 1161.5 824.0 1164.2 824.2 1166.8C824.4 1169.5 824.6 1172.1 824.7 1174.8C824.9 1177.5 825.1 1180.1 825.3 1182.8C825.5 1185.4 825.6 1188.1 825.8 1190.8C826.0 1193.4 826.2 1196.1 826.4 1198.7C826.6 1201.4 826.8 1204.1 826.9 1206.7C827.1 1209.4 827.3 1212.0 827.5 1214.7C827.7 1217.4 827.9 1220.0 828.1 1222.7C828.3 1225.3 828.5 1228.0 828.7 1230.7C828.9 1233.3 829.2 1236.0 829.4 1238.6C829.6 1241.3 829.8 1244.0 830.0 1246.6C830.2 1249.3 830.4 1251.9 830.6 1254.6C830.8 1257.3 831.0 1259.9 831.3 1262.6C831.5 1265.2 831.7 1267.9 831.9 1270.5C832.1 1273.2 832.3 1275.9 832.5 1278.5C832.7 1281.2 833.0 1283.8 833.2 1286.5C833.4 1289.2 833.6 1291.8 833.8 1294.5C834.0 1297.1 834.2 1299.8 834.4 1302.4C834.6 1305.1 834.8 1307.8 835.0 1310.4C835.3 1313.1 835.5 1315.7 835.7 1318.4C835.9 1321.1 836.1 1323.7 836.3 1326.4C836.5 1329.0 836.7 1331.7 836.9 1334.4C837.0 1337.0 837.2 1339.7 837.4 1342.3C837.6 1345.0 837.8 1347.7 838.0 1350.3C838.2 1353.0 838.4 1355.6 838.6 1358.3C838.8 1361.0 839.0 1363.6 839.2 1366.3C839.3 1368.9 839.5 1371.6 839.7 1374.3C839.9 1376.9 840.1 1379.6 840.3 1382.2C840.5 1384.9 840.7 1387.6 840.9 1390.2C841.1 1392.9 841.2 1395.5 841.4 1398.2C841.6 1400.9 841.8 1403.5 842.0 1406.2C842.2 1408.8 842.4 1411.5 842.6 1414.2C842.8 1416.8 843.0 1419.5 843.2 1422.1C843.5 1424.8 843.7 1427.5 843.9 1430.1C844.1 1432.8 844.3 1435.4 844.5 1438.1C844.8 1440.7 845.0 1443.4 845.2 1446.1C845.4 1448.7 845.7 1451.4 845.9 1454.0C846.1 1456.7 846.4 1459.3 846.6 1462.0C846.9 1464.6 847.1 1467.3 847.4 1470.0C847.6 1472.6 847.9 1475.3 848.2 1477.9C848.4 1480.6 848.7 1483.2 848.9 1485.9C849.2 1488.5 849.5 1491.2 849.8 1493.8C850.0 1496.5 850.3 1499.1 850.6 1501.8C850.9 1504.4 851.2 1507.1 851.5 1509.7C851.8 1512.4 852.1 1515.0 852.4 1517.7C852.7 1520.3 853.0 1523.0 853.3 1525.6C853.6 1528.3 853.9 1530.9 854.2 1533.6C854.5 1536.2 854.8 1538.9 855.2 1541.5C855.5 1544.2 855.8 1546.8 856.1 1549.5C856.4 1552.1 856.8 1554.8 857.1 1557.4C857.4 1560.1 857.7 1562.7 858.0 1565.4C858.4 1568.0 858.7 1570.7 859.0 1573.3C859.3 1576.0 859.6 1578.6 859.9 1581.3C860.3 1583.9 860.6 1586.5 860.9 1589.2C861.2 1591.8 861.5 1594.5 861.8 1597.1C862.1 1599.8 862.4 1602.4 862.7 1605.1C863.0 1607.7 863.3 1610.4 863.6 1613.0C863.9 1615.7 864.2 1618.3 864.5 1621.0C864.8 1623.6 865.1 1626.3 865.3 1628.9C865.6 1631.6 865.9 1634.3 866.2 1636.9C866.5 1639.6 866.7 1642.2 867.0 1644.9C867.3 1647.5 867.6 1650.2 867.8 1652.8C868.1 1655.5 868.4 1658.1 868.6 1660.8C868.9 1663.4 869.2 1666.1 869.4 1668.7C869.7 1671.4 870.0 1674.1 870.2 1676.7C870.5 1679.4 870.8 1682.0 871.0 1684.7C871.3 1687.3 871.5 1690.0 871.8 1692.6C872.1 1695.3 872.3 1697.9 872.6 1700.6C872.9 1703.2 873.1 1705.9 873.4 1708.6C873.6 1711.2 873.9 1713.9 874.2 1716.5C874.4 1719.2 874.7 1721.8 874.9 1724.5C875.2 1727.1 875.5 1729.8 875.7 1732.4C876.0 1735.1 876.3 1737.8 876.5 1740.4C876.8 1743.1 877.0 1745.7 877.3 1748.4C877.6 1751.0 877.8 1753.7 878.1 1756.3C878.4 1759.0 878.6 1761.6 878.9 1764.3C879.1 1766.9 879.4 1769.6 879.7 1772.3C879.9 1774.9 880.2 1777.6 880.5 1780.2C880.7 1782.9 881.0 1785.5 881.3 1788.2C881.5 1790.8 881.8 1793.5 882.1 1796.1C882.3 1798.8 882.6 1801.4 882.9 1804.1C883.2 1806.7 883.4 1809.4 883.7 1812.1C884.0 1814.7 884.3 1817.4 884.5 1820.0C884.8 1822.7 885.1 1825.3 885.4 1828.0C885.7 1830.6 885.9 1833.3 886.2 1835.9C886.5 1838.6 886.8 1841.2 887.1 1843.9C887.4 1846.5 887.7 1849.2 888.1 1851.8C888.4 1854.5 888.7 1857.1 889.0 1859.7C889.3 1862.4 889.7 1865.0 890.0 1867.7C890.4 1870.3 890.7 1873.0 891.1 1875.6C891.5 1878.2 891.8 1880.9 892.2 1883.5C892.6 1886.2 892.9 1888.8 893.3 1891.4C893.7 1894.1 894.1 1896.7 894.5 1899.3C894.9 1902.0 895.3 1904.6 895.7 1907.2C896.2 1909.9 896.6 1912.5 897.1 1915.1C897.5 1917.7 898.0 1920.4 898.5 1923.0C899.0 1925.6 899.5 1928.2 900.0 1930.8C900.6 1933.4 901.1 1936.1 901.6 1938.7C902.2 1941.3 902.7 1943.9 903.3 1946.5C903.8 1949.1 904.4 1951.7 904.9 1954.3C905.5 1956.9 906.0 1959.5 906.6 1962.2C907.1 1964.8 907.7 1967.4 908.2 1970.0C908.8 1972.6 909.3 1975.2 909.9 1977.8C910.5 1980.4 911.0 1983.0 911.6 1985.6C912.2 1988.2 912.8 1990.8 913.4 1993.4C914.0 1996.0 914.6 1998.6 915.2 2001.2C915.9 2003.8 916.6 2006.6 917.2 2009.0C917.5 2010.4 917.8 2011.6 918.1 2012.9C918.5 2014.1 918.8 2015.4 919.1 2016.7C919.4 2018.0 919.8 2019.3 920.1 2020.6C920.4 2021.9 920.8 2023.2 921.1 2024.5C921.4 2025.8 921.8 2027.1 922.1 2028.4C922.4 2029.7 922.7 2030.9 923.1 2032.2C923.4 2033.5 923.7 2034.8 924.0 2036.1C924.4 2037.4 924.7 2038.7 925.0 2040.0C925.4 2041.3 925.7 2042.6 926.0 2043.9C926.3 2045.2 926.7 2046.5 927.0 2047.8C927.3 2049.0 927.6 2050.3 928.0 2051.6C928.3 2052.9 928.6 2054.2 928.9 2055.5C929.2 2056.8 929.5 2058.1 929.8 2059.4C930.1 2060.7 930.5 2062.0 930.8 2063.3C931.1 2064.6 931.4 2065.9 931.7 2067.2C932.1 2068.5 932.4 2069.8 932.7 2071.1C933.1 2072.3 933.4 2073.6 933.8 2074.9C934.2 2076.2 934.5 2077.5 934.9 2078.8C935.3 2080.0 935.7 2081.3 936.0 2082.6C936.4 2083.9 936.8 2085.1 937.2 2086.4C937.6 2087.7 938.0 2089.0 938.4 2090.2C938.8 2091.5 939.2 2092.8 939.6 2094.0C940.1 2095.3 940.5 2096.6 940.9 2097.8C941.3 2099.1 941.7 2100.4 942.2 2101.6C942.6 2102.9 943.0 2104.2 943.5 2105.4C943.9 2106.7 944.4 2107.9 944.8 2109.2C945.3 2110.4 945.8 2111.7 946.3 2112.9C946.8 2114.2 947.3 2115.4 947.8 2116.6C948.3 2117.9 948.8 2119.1 949.3 2120.3C949.8 2121.6 950.3 2122.8 950.9 2124.0C951.4 2125.2 951.9 2126.4 952.5 2127.6C953.1 2128.9 953.6 2130.1 954.2 2131.3C954.8 2132.5 955.4 2133.6 956.0 2134.8C956.6 2136.0 957.3 2137.2 957.9 2138.4C958.5 2139.5 959.2 2140.7 959.8 2141.9C960.5 2143.0 961.1 2144.2 961.8 2145.4C962.5 2146.5 963.2 2147.6 963.9 2148.8C964.6 2149.9 965.3 2151.0 966.0 2152.1C966.8 2153.3 967.5 2154.4 968.3 2155.4C969.1 2156.5 969.9 2157.6 970.7 2158.6C971.5 2159.7 972.3 2160.7 973.2 2161.8C974.0 2162.8 974.9 2163.8 975.8 2164.8C976.7 2165.8 977.5 2166.8 978.4 2167.8C979.4 2168.8 980.3 2169.7 981.2 2170.7C982.1 2171.6 983.1 2172.6 984.0 2173.5C985.0 2174.4 986.0 2175.3 987.0 2176.2C988.0 2177.1 989.0 2178.0 990.0 2178.8C991.0 2179.7 992.1 2180.5 993.1 2181.4C994.1 2182.2 995.2 2183.0 996.2 2183.9C997.3 2184.7 998.3 2185.6 999.3 2186.4C1000.3 2187.3 1001.3 2188.2 1002.3 2189.0C1003.3 2189.9 1004.3 2190.8 1005.4 2191.7C1006.4 2192.5 1007.4 2193.4 1008.5 2194.2C1009.5 2195.0 1010.6 2195.7 1011.8 2196.5C1012.9 2197.2 1014.0 2197.8 1015.2 2198.5C1016.4 2199.1 1017.6 2199.7 1018.8 2200.3C1019.9 2200.9 1021.2 2201.5 1022.4 2202.0C1023.6 2202.5 1024.9 2203.0 1026.1 2203.4C1027.4 2203.9 1028.6 2204.3 1029.9 2204.7C1031.2 2205.1 1032.5 2205.5 1033.8 2205.8C1035.1 2206.1 1036.4 2206.3 1037.7 2206.5C1039.0 2206.8 1040.3 2206.9 1041.7 2207.1C1043.0 2207.3 1044.3 2207.4 1045.6 2207.5C1047.0 2207.7 1048.3 2207.8 1049.6 2207.9C1050.9 2208.0 1052.3 2208.2 1053.6 2208.3C1054.9 2208.5 1056.2 2208.6 1057.6 2208.7C1058.9 2208.9 1060.2 2209.0 1061.6 2209.1C1062.9 2209.2 1064.2 2209.3 1065.5 2209.4C1066.9 2209.5 1068.2 2209.6 1069.5 2209.7C1070.9 2209.8 1072.2 2209.8 1073.5 2209.9C1074.9 2210.0 1076.2 2210.0 1077.5 2210.1C1078.9 2210.1 1080.2 2210.1 1081.5 2210.2C1082.9 2210.2 1084.2 2210.2 1085.5 2210.2C1086.9 2210.2 1088.2 2210.3 1089.5 2210.3C1090.9 2210.3 1092.2 2210.3 1093.5 2210.3C1094.9 2210.3 1096.2 2210.3 1097.5 2210.3C1098.9 2210.3 1100.2 2210.3 1101.5 2210.3C1102.9 2210.3 1104.2 2210.3 1105.5 2210.3C1106.9 2210.3 1108.2 2210.3 1109.5 2210.3C1110.9 2210.3 1112.2 2210.3 1113.5 2210.3C1114.9 2210.3 1116.2 2210.3 1117.5 2210.3C1118.9 2210.3 1120.2 2210.3 1121.5 2210.3C1122.9 2210.3 1124.2 2210.3 1125.5 2210.3C1126.9 2210.3 1128.2 2210.3 1129.5 2210.3C1130.9 2210.3 1132.2 2210.3 1133.5 2210.3C1134.9 2210.3 1136.2 2210.3 1137.5 2210.3C1138.9 2210.3 1140.2 2210.3 1141.5 2210.3C1142.9 2210.3 1144.2 2210.3 1145.5 2210.3C1146.9 2210.3 1148.2 2210.3 1149.5 2210.3C1150.9 2210.3 1152.2 2210.3 1153.5 2210.3C1154.9 2210.3 1156.2 2210.3 1157.5 2210.3C1158.9 2210.3 1160.2 2210.3 1161.5 2210.3C1162.9 2210.3 1164.2 2210.3 1165.5 2210.3C1166.9 2210.3 1168.2 2210.3 1169.5 2210.3C1170.9 2210.3 1172.2 2210.3 1173.5 2210.3C1174.9 2210.3 1176.2 2210.3 1177.5 2210.3C1178.9 2210.3 1180.2 2210.3 1181.5 2210.3C1182.9 2210.3 1184.2 2210.3 1185.5 2210.3C1186.9 2210.3 1188.2 2210.3 1189.5 2210.3C1190.9 2210.3 1192.2 2210.3 1193.5 2210.3C1194.9 2210.3 1196.2 2210.3 1197.5 2210.3C1198.9 2210.3 1200.2 2210.3 1201.5 2210.3C1202.9 2210.3 1204.2 2210.3 1205.5 2210.3C1206.9 2210.3 1208.2 2210.3 1209.5 2210.3C1210.9 2210.3 1212.2 2210.3 1213.5 2210.3C1214.9 2210.3 1216.2 2210.3 1217.5 2210.3C1218.9 2210.3 1220.2 2210.3 1221.5 2210.3C1222.9 2210.3 1224.2 2210.3 1225.5 2210.3C1226.9 2210.3 1228.2 2210.3 1229.5 2210.3C1230.9 2210.3 1232.2 2210.3 1233.5 2210.3C1234.9 2210.3 1236.2 2210.3 1237.5 2210.3C1238.9 2210.3 1240.2 2210.3 1241.5 2210.3C1242.9 2210.3 1244.2 2210.3 1245.5 2210.3C1246.9 2210.3 1248.2 2210.3 1249.5 2210.3C1250.9 2210.3 1252.2 2210.3 1253.5 2210.3C1254.9 2210.3 1256.2 2210.3 1257.5 2210.3C1258.9 2210.3 1260.2 2210.3 1261.5 2210.3C1262.9 2210.3 1264.2 2210.3 1265.5 2210.3C1266.9 2210.3 1268.2 2210.3 1269.5 2210.3C1270.9 2210.3 1272.2 2210.3 1273.5 2210.3C1274.9 2210.3 1276.2 2210.3 1277.5 2210.3C1278.9 2210.3 1280.2 2210.3 1281.6 2210.3C1282.9 2210.3 1284.2 2210.3 1285.6 2210.3C1286.9 2210.3 1288.2 2210.3 1289.6 2210.3C1290.9 2210.3 1292.2 2210.3 1293.6 2210.3C1294.9 2210.3 1296.2 2210.3 1297.6 2210.3C1298.9 2210.3 1300.2 2210.3 1301.6 2210.3C1302.9 2210.3 1304.2 2210.3 1305.6 2210.3C1306.9 2210.3 1308.2 2210.3 1309.6 2210.3C1310.9 2210.3 1312.2 2210.3 1313.6 2210.3C1314.9 2210.3 1316.2 2210.3 1317.6 2210.3C1318.9 2210.3 1320.2 2210.3 1321.6 2210.3C1322.9 2210.3 1324.2 2210.3 1325.6 2210.3C1326.9 2210.3 1328.2 2210.3 1329.6 2210.3C1330.9 2210.3 1332.2 2210.3 1333.6 2210.3C1334.9 2210.3 1336.2 2210.3 1337.6 2210.3C1338.9 2210.3 1340.2 2210.3 1341.6 2210.3C1342.9 2210.3 1344.2 2210.3 1345.6 2210.3C1346.9 2210.3 1348.2 2210.3 1349.6 2210.3C1350.9 2210.3 1352.2 2210.3 1353.6 2210.3C1354.9 2210.3 1356.2 2210.3 1357.6 2210.3C1358.9 2210.3 1360.2 2210.3 1361.6 2210.3C1362.9 2210.3 1364.2 2210.3 1365.6 2210.3C1366.9 2210.3 1368.2 2210.3 1369.6 2210.3C1370.9 2210.3 1372.2 2210.3 1373.6 2210.3C1374.9 2210.3 1376.2 2210.3 1377.6 2210.3C1378.9 2210.3 1380.2 2210.3 1381.6 2210.3C1382.9 2210.3 1384.2 2210.3 1385.6 2210.3C1386.9 2210.3 1388.2 2210.3 1389.6 2210.3C1390.9 2210.3 1392.2 2210.3 1393.6 2210.3C1394.9 2210.3 1396.2 2210.3 1397.6 2210.3C1398.9 2210.3 1400.2 2210.3 1401.6 2210.3C1402.9 2210.3 1404.2 2210.3 1405.6 2210.3C1406.9 2210.3 1408.2 2210.3 1409.6 2210.3C1410.9 2210.3 1412.2 2210.3 1413.6 2210.3C1414.9 2210.3 1416.2 2210.3 1417.6 2210.3C1418.9 2210.3 1420.2 2210.3 1421.6 2210.3C1422.9 2210.3 1424.2 2210.3 1425.6 2210.3C1426.9 2210.3 1428.2 2210.3 1429.6 2210.3C1430.9 2210.3 1432.2 2210.3 1433.6 2210.3C1434.9 2210.3 1436.2 2210.3 1437.6 2210.3C1438.9 2210.3 1440.2 2210.3 1441.6 2210.3C1442.9 2210.3 1444.2 2210.3 1445.6 2210.3C1446.9 2210.3 1448.2 2210.3 1449.6 2210.3C1450.9 2210.3 1452.2 2210.3 1453.6 2210.3C1454.9 2210.3 1456.2 2210.3 1457.6 2210.3C1458.9 2210.3 1460.2 2210.3 1461.6 2210.3C1462.9 2210.3 1464.2 2210.3 1465.6 2210.3C1466.9 2210.3 1468.2 2210.3 1469.6 2210.3C1470.9 2210.3 1472.2 2210.3 1473.6 2210.3C1474.9 2210.3 1476.2 2210.3 1477.6 2210.3C1478.9 2210.3 1480.2 2210.3 1481.6 2210.3C1482.9 2210.3 1484.2 2210.3 1485.6 2210.3C1486.9 2210.3 1488.2 2210.3 1489.6 2210.3C1490.9 2210.3 1492.2 2210.3 1493.6 2210.3C1494.9 2210.3 1496.2 2210.3 1497.6 2210.3C1498.9 2210.3 1500.2 2210.3 1501.6 2210.3C1502.9 2210.3 1504.2 2210.3 1505.6 2210.3C1506.9 2210.3 1508.2 2210.3 1509.6 2210.3C1510.9 2210.3 1512.2 2210.3 1513.6 2210.3C1514.9 2210.3 1516.2 2210.3 1517.6 2210.3C1518.9 2210.3 1520.2 2210.3 1521.6 2210.3C1522.9 2210.3 1524.2 2210.3 1525.6 2210.3C1526.9 2210.3 1528.2 2210.3 1529.6 2210.3C1530.9 2210.3 1532.3 2210.3 1533.6 2210.3C1534.9 2210.3 1536.3 2210.3 1537.6 2210.3C1538.9 2210.3 1540.3 2210.3 1541.6 2210.3C1542.9 2210.3 1544.3 2210.3 1545.6 2210.3C1546.9 2210.3 1548.3 2210.3 1549.6 2210.3C1550.9 2210.3 1552.3 2210.3 1553.6 2210.3C1554.9 2210.3 1556.3 2210.3 1557.6 2210.3C1558.9 2210.3 1560.3 2210.3 1561.6 2210.3C1562.9 2210.3 1564.3 2210.3 1565.6 2210.3C1566.9 2210.3 1568.3 2210.3 1569.6 2210.3C1570.9 2210.3 1572.3 2210.3 1573.6 2210.3C1574.9 2210.3 1576.3 2210.3 1577.6 2210.3C1578.9 2210.3 1580.3 2210.3 1581.6 2210.3C1582.9 2210.3 1584.3 2210.3 1585.6 2210.3C1586.9 2210.3 1588.3 2210.3 1589.6 2210.3C1590.9 2210.3 1592.3 2210.3 1593.6 2210.3C1594.9 2210.3 1596.3 2210.3 1597.6 2210.3C1598.9 2210.3 1600.3 2210.3 1601.6 2210.3C1602.9 2210.3 1604.3 2210.3 1605.6 2210.3C1606.9 2210.3 1608.3 2210.3 1609.6 2210.3C1610.9 2210.3 1612.3 2210.3 1613.6 2210.3C1614.9 2210.3 1616.3 2210.3 1617.6 2210.3C1618.9 2210.3 1620.3 2210.3 1621.6 2210.3C1622.9 2210.3 1624.3 2210.3 1625.6 2210.3C1626.9 2210.3 1628.3 2210.3 1629.6 2210.3C1630.9 2210.3 1632.3 2210.3 1633.6 2210.3C1634.9 2210.3 1636.3 2210.3 1637.6 2210.3C1638.9 2210.3 1640.3 2210.3 1641.6 2210.3C1642.9 2210.3 1644.3 2210.3 1645.6 2210.3C1646.9 2210.3 1648.3 2210.3 1649.6 2210.3C1650.9 2210.3 1652.3 2210.3 1653.6 2210.3" stroke="#00BB7A" stroke-width="10.6" fill="none" stroke-linejoin="round" stroke-linecap="butt"/>
<path d="M240.0 2210.3C241.3 2210.3 242.7 2210.3 244.0 2210.3C245.3 2210.3 246.7 2210.3 248.0 2210.3C249.3 2210.3 250.7 2210.3 252.0 2210.3C253.3 2210.3 254.7 2210.3 256.0 2210.3C257.3 2210.3 258.7 2210.3 260.0 2210.3C261.3 2210.3 262.7 2210.3 264.0 2210.3C265.3 2210.3 266.7 2210.3 268.0 2210.3C269.3 2210.3 270.7 2210.3 272.0 2210.3C273.3 2210.3 274.7 2210.3 276.0 2210.3C277.3 2210.3 278.7 2210.3 280.0 2210.3C281.3 2210.3 282.7 2210.3 284.0 2210.3C285.3 2210.3 286.7 2210.3 288.0 2210.3C289.3 2210.3 290.7 2210.3 292.0 2210.3C293.3 2210.3 294.7 2210.3 296.0 2210.3C297.3 2210.3 298.7 2210.3 300.0 2210.3C301.3 2210.3 302.7 2210.3 304.0 2210.3C305.3 2210.3 306.7 2210.3 308.0 2210.3C309.3 2210.3 310.7 2210.3 312.0 2210.3C313.3 2210.3 314.7 2210.3 316.0 2210.3C317.3 2210.3 318.7 2210.3 320.0 2210.3C321.3 2210.3 322.7 2210.3 324.0 2210.3C325.3 2210.3 326.7 2210.3 328.0 2210.3C329.3 2210.3 330.7 2210.3 332.0 2210.3C333.3 2210.3 334.7 2210.4 336.0 2210.4C337.3 2210.4 338.7 2210.5 340.0 2210.5C341.3 2210.6 342.7 2210.6 344.0 2210.6C345.3 2210.7 346.7 2210.7 348.0 2210.8C349.3 2210.8 350.7 2210.8 352.0 2210.8C353.3 2210.9 354.7 2210.9 356.0 2210.9C357.3 2210.9 358.7 2210.9 360.0 2210.9C361.3 2210.8 362.7 2210.8 364.0 2210.7C365.3 2210.7 366.7 2210.6 368.0 2210.5C369.3 2210.4 370.7 2210.3 372.0 2210.1C373.3 2210.0 374.6 2209.9 376.0 2209.7C377.3 2209.5 378.6 2209.3 379.9 2208.9C381.2 2208.6 382.5 2208.3 383.7 2207.8C385.0 2207.4 386.2 2206.9 387.4 2206.3C388.7 2205.8 389.8 2205.2 391.1 2204.6C392.3 2204.1 393.5 2203.5 394.7 2202.9C395.9 2202.4 397.1 2201.8 398.3 2201.3C399.5 2200.7 400.7 2200.1 401.9 2199.5C403.0 2198.8 404.2 2198.1 405.3 2197.4C406.4 2196.6 407.4 2195.8 408.5 2195.0C409.5 2194.2 410.5 2193.3 411.6 2192.5C412.6 2191.6 413.7 2190.8 414.8 2190.0C415.8 2189.2 416.9 2188.5 418.0 2187.7C419.1 2186.9 420.2 2186.1 421.2 2185.3C422.3 2184.5 423.4 2183.7 424.4 2182.9C425.5 2182.1 426.5 2181.3 427.6 2180.4C428.6 2179.6 429.6 2178.7 430.6 2177.9C431.6 2177.0 432.6 2176.1 433.6 2175.2C434.6 2174.3 435.6 2173.4 436.6 2172.5C437.5 2171.6 438.5 2170.6 439.4 2169.7C440.4 2168.7 441.3 2167.8 442.2 2166.8C443.1 2165.8 444.0 2164.8 444.8 2163.8C445.7 2162.8 446.6 2161.8 447.4 2160.7C448.3 2159.7 449.1 2158.7 449.9 2157.6C450.7 2156.6 451.6 2155.5 452.4 2154.5C453.2 2153.4 453.9 2152.3 454.7 2151.2C455.5 2150.1 456.2 2149.0 457.0 2147.9C457.7 2146.8 458.4 2145.7 459.2 2144.6C459.9 2143.5 460.6 2142.3 461.3 2141.2C462.0 2140.1 462.7 2138.9 463.4 2137.8C464.2 2136.7 464.9 2135.6 465.6 2134.4C466.3 2133.3 467.0 2132.2 467.8 2131.1C468.5 2130.0 469.2 2128.8 469.9 2127.7C470.6 2126.6 471.3 2125.5 472.0 2124.3C472.8 2123.2 473.5 2122.1 474.1 2120.9C474.8 2119.8 475.5 2118.6 476.2 2117.5C476.9 2116.4 477.6 2115.2 478.3 2114.1C479.0 2112.9 479.7 2111.8 480.4 2110.7C481.0 2109.5 481.7 2108.3 482.3 2107.2C483.0 2106.0 483.6 2104.8 484.1 2103.6C484.7 2102.4 485.2 2101.2 485.8 2099.9C486.3 2098.7 486.7 2097.5 487.2 2096.2C487.7 2095.0 488.1 2093.7 488.5 2092.4C489.0 2091.2 489.4 2089.9 489.8 2088.7C490.3 2087.4 490.7 2086.1 491.1 2084.9C491.5 2083.6 492.0 2082.3 492.4 2081.1C492.8 2079.8 493.2 2078.5 493.6 2077.3C494.0 2076.0 494.4 2074.7 494.7 2073.4C495.1 2072.2 495.5 2070.9 495.9 2069.6C496.3 2068.3 496.6 2067.0 497.0 2065.8C497.4 2064.5 497.7 2063.2 498.1 2061.9C498.4 2060.6 498.8 2059.3 499.1 2058.0C499.5 2056.8 499.8 2055.5 500.2 2054.2C500.5 2052.9 500.8 2051.6 501.2 2050.3C501.5 2049.0 501.9 2047.7 502.2 2046.4C502.6 2045.2 502.9 2043.9 503.2 2042.6C503.6 2041.3 503.9 2040.0 504.2 2038.7C504.6 2037.4 504.9 2036.1 505.2 2034.8C505.5 2033.5 505.8 2032.2 506.1 2030.9C506.4 2029.6 506.6 2028.3 506.9 2027.0C507.2 2025.7 507.4 2024.4 507.6 2023.1C507.9 2021.8 508.1 2020.5 508.4 2019.1C508.6 2017.8 508.8 2016.5 509.0 2015.2C509.2 2013.9 509.4 2012.7 509.7 2011.3C510.1 2008.9 510.6 2006.0 511.0 2003.4C511.5 2000.7 511.9 1998.1 512.4 1995.5C512.9 1992.9 513.3 1990.2 513.8 1987.6C514.3 1985.0 514.8 1982.4 515.3 1979.7C515.8 1977.1 516.3 1974.5 516.8 1971.9C517.3 1969.3 517.8 1966.6 518.3 1964.0C518.7 1961.4 519.2 1958.8 519.7 1956.2C520.2 1953.5 520.7 1950.9 521.1 1948.3C521.6 1945.7 522.1 1943.0 522.5 1940.4C523.0 1937.8 523.4 1935.1 523.9 1932.5C524.3 1929.9 524.8 1927.3 525.2 1924.6C525.7 1922.0 526.1 1919.4 526.5 1916.7C527.0 1914.1 527.4 1911.5 527.8 1908.8C528.3 1906.2 528.7 1903.6 529.1 1901.0C529.6 1898.3 530.0 1895.7 530.4 1893.1C530.8 1890.4 531.3 1887.8 531.7 1885.2C532.1 1882.5 532.5 1879.9 533.0 1877.3C533.4 1874.6 533.8 1872.0 534.2 1869.4C534.7 1866.7 535.1 1864.1 535.5 1861.5C535.9 1858.8 536.3 1856.2 536.8 1853.6C537.2 1850.9 537.6 1848.3 538.0 1845.7C538.4 1843.0 538.9 1840.4 539.3 1837.8C539.7 1835.1 540.1 1832.5 540.5 1829.9C540.9 1827.2 541.4 1824.6 541.8 1822.0C542.2 1819.3 542.6 1816.7 543.0 1814.1C543.4 1811.4 543.9 1808.8 544.3 1806.2C544.7 1803.5 545.1 1800.9 545.5 1798.2C545.9 1795.6 546.4 1793.0 546.8 1790.3C547.2 1787.7 547.6 1785.1 548.0 1782.4C548.4 1779.8 548.9 1777.2 549.3 1774.5C549.7 1771.9 550.1 1769.3 550.5 1766.6C550.9 1764.0 551.3 1761.4 551.7 1758.7C552.2 1756.1 552.6 1753.5 553.0 1750.8C553.4 1748.2 553.8 1745.6 554.2 1742.9C554.6 1740.3 555.0 1737.6 555.4 1735.0C555.8 1732.4 556.2 1729.7 556.6 1727.1C557.0 1724.5 557.3 1721.8 557.7 1719.2C558.1 1716.5 558.5 1713.9 558.9 1711.3C559.2 1708.6 559.6 1706.0 560.0 1703.3C560.4 1700.7 560.7 1698.1 561.1 1695.4C561.5 1692.8 561.8 1690.1 562.2 1687.5C562.5 1684.8 562.9 1682.2 563.2 1679.6C563.6 1676.9 563.9 1674.3 564.2 1671.6C564.6 1669.0 564.9 1666.3 565.3 1663.7C565.6 1661.0 565.9 1658.4 566.2 1655.8C566.6 1653.1 566.9 1650.5 567.2 1647.8C567.5 1645.2 567.8 1642.5 568.1 1639.9C568.5 1637.2 568.8 1634.6 569.1 1631.9C569.4 1629.3 569.7 1626.6 570.0 1624.0C570.3 1621.3 570.6 1618.7 570.9 1616.0C571.2 1613.4 571.5 1610.7 571.8 1608.1C572.1 1605.4 572.3 1602.8 572.6 1600.1C572.9 1597.5 573.2 1594.8 573.5 1592.2C573.8 1589.5 574.1 1586.9 574.4 1584.2C574.6 1581.6 574.9 1578.9 575.2 1576.3C575.5 1573.6 575.8 1571.0 576.0 1568.3C576.3 1565.6 576.6 1563.0 576.9 1560.3C577.1 1557.7 577.4 1555.0 577.7 1552.4C578.0 1549.7 578.2 1547.1 578.5 1544.4C578.8 1541.8 579.1 1539.1 579.3 1536.5C579.6 1533.8 579.9 1531.2 580.1 1528.5C580.4 1525.9 580.7 1523.2 580.9 1520.5C581.2 1517.9 581.5 1515.2 581.7 1512.6C582.0 1509.9 582.3 1507.3 582.5 1504.6C582.8 1502.0 583.1 1499.3 583.3 1496.7C583.6 1494.0 583.8 1491.4 584.1 1488.7C584.4 1486.0 584.6 1483.4 584.9 1480.7C585.2 1478.1 585.4 1475.4 585.7 1472.8C585.9 1470.1 586.2 1467.5 586.5 1464.8C586.7 1462.2 587.0 1459.5 587.2 1456.9C587.5 1454.2 587.8 1451.5 588.0 1448.9C588.3 1446.2 588.5 1443.6 588.8 1440.9C589.1 1438.3 589.3 1435.6 589.6 1433.0C589.8 1430.3 590.1 1427.7 590.3 1425.0C590.6 1422.3 590.8 1419.7 591.1 1417.0C591.4 1414.4 591.6 1411.7 591.9 1409.1C592.1 1406.4 592.4 1403.8 592.6 1401.1C592.9 1398.5 593.1 1395.8 593.4 1393.1C593.6 1390.5 593.9 1387.8 594.1 1385.2C594.4 1382.5 594.6 1379.9 594.9 1377.2C595.1 1374.6 595.4 1371.9 595.6 1369.2C595.9 1366.6 596.1 1363.9 596.4 1361.3C596.6 1358.6 596.9 1356.0 597.1 1353.3C597.4 1350.7 597.6 1348.0 597.9 1345.4C598.1 1342.7 598.4 1340.0 598.6 1337.4C598.9 1334.7 599.1 1332.1 599.3 1329.4C599.6 1326.8 599.8 1324.1 600.1 1321.5C600.3 1318.8 600.6 1316.1 600.8 1313.5C601.1 1310.8 601.3 1308.2 601.6 1305.5C601.8 1302.9 602.0 1300.2 602.3 1297.6C602.5 1294.9 602.8 1292.2 603.0 1289.6C603.3 1286.9 603.5 1284.3 603.8 1281.6C604.0 1279.0 604.2 1276.3 604.5 1273.7C604.7 1271.0 605.0 1268.3 605.2 1265.7C605.5 1263.0 605.7 1260.4 606.0 1257.7C606.2 1255.1 606.5 1252.4 606.7 1249.8C607.0 1247.1 607.2 1244.4 607.4 1241.8C607.7 1239.1 607.9 1236.5 608.2 1233.8C608.4 1231.2 608.7 1228.5 608.9 1225.9C609.2 1223.2 609.4 1220.5 609.7 1217.9C609.9 1215.2 610.2 1212.6 610.4 1209.9C610.7 1207.3 610.9 1204.6 611.2 1202.0C611.4 1199.3 611.7 1196.6 611.9 1194.0C612.2 1191.3 612.4 1188.7 612.7 1186.0C612.9 1183.4 613.2 1180.7 613.4 1178.1C613.7 1175.4 614.0 1172.8 614.2 1170.1C614.5 1167.4 614.7 1164.8 615.0 1162.1C615.2 1159.5 615.5 1156.8 615.7 1154.2C616.0 1151.5 616.3 1148.9 616.5 1146.2C616.8 1143.6 617.0 1140.9 617.3 1138.2C617.5 1135.6 617.8 1132.9 618.1 1130.3C618.3 1127.6 618.6 1125.0 618.8 1122.3C619.1 1119.7 619.4 1117.0 619.6 1114.4C619.9 1111.7 620.1 1109.0 620.4 1106.4C620.7 1103.7 620.9 1101.1 621.2 1098.4C621.5 1095.8 621.7 1093.1 622.0 1090.5C622.3 1087.8 622.5 1085.2 622.8 1082.5C623.1 1079.9 623.3 1077.2 623.6 1074.6C623.9 1071.9 624.1 1069.2 624.4 1066.6C624.7 1063.9 624.9 1061.3 625.2 1058.6C625.5 1056.0 625.8 1053.3 626.0 1050.7C626.3 1048.0 626.6 1045.4 626.9 1042.7C627.1 1040.1 627.4 1037.4 627.7 1034.8C628.0 1032.1 628.2 1029.5 628.5 1026.8C628.8 1024.1 629.1 1021.5 629.4 1018.8C629.6 1016.2 629.9 1013.5 630.2 1010.9C630.5 1008.2 630.8 1005.6 631.1 1002.9C631.4 1000.3 631.7 997.6 631.9 995.0C632.2 992.3 632.5 989.7 632.8 987.0C633.1 984.4 633.4 981.7 633.7 979.1C634.0 976.4 634.3 973.8 634.6 971.1C634.9 968.5 635.2 965.8 635.5 963.2C635.8 960.5 636.1 957.9 636.4 955.2C636.7 952.6 637.0 949.9 637.3 947.3C637.6 944.6 637.9 942.0 638.2 939.3C638.5 936.7 638.8 934.0 639.1 931.4C639.4 928.7 639.7 926.1 640.0 923.4C640.3 920.8 640.6 918.1 640.9 915.5C641.2 912.8 641.5 910.2 641.8 907.5C642.1 904.9 642.4 902.2 642.7 899.6C643.0 896.9 643.3 894.3 643.6 891.6C643.9 889.0 644.2 886.3 644.5 883.7C644.8 881.0 645.0 878.4 645.3 875.7C645.6 873.1 645.9 870.4 646.2 867.8C646.4 865.1 646.7 862.5 647.0 859.8C647.3 857.2 647.5 854.5 647.8 851.9C648.1 849.2 648.4 846.5 648.6 843.9C648.9 841.2 649.2 838.6 649.4 835.9C649.7 833.3 650.0 830.6 650.3 828.0C650.5 825.3 650.8 822.7 651.1 820.0C651.4 817.4 651.6 814.7 651.9 812.1C652.2 809.4 652.5 806.8 652.7 804.1C653.0 801.5 653.3 798.8 653.6 796.1C653.9 793.5 654.1 790.8 654.4 788.2C654.7 785.5 655.0 782.9 655.3 780.2C655.6 777.6 655.9 774.9 656.2 772.3C656.5 769.6 656.8 767.0 657.1 764.3C657.4 761.7 657.7 759.0 658.0 756.4C658.3 753.7 658.6 751.1 658.9 748.4C659.2 745.8 659.5 743.2 659.9 740.5C660.2 737.9 660.5 735.2 660.8 732.6C661.1 729.9 661.5 727.3 661.8 724.6C662.1 722.0 662.5 719.3 662.8 716.7C663.1 714.0 663.5 711.4 663.8 708.7C664.1 706.1 664.5 703.5 664.8 700.8C665.2 698.2 665.6 695.5 665.9 692.9C666.3 690.2 666.6 687.6 667.0 685.0C667.4 682.3 667.7 679.7 668.1 677.0C668.5 674.4 668.9 671.8 669.3 669.1C669.7 666.5 670.0 663.8 670.4 661.2C670.8 658.6 671.2 655.9 671.6 653.3C672.0 650.7 672.5 648.0 672.9 645.4C673.3 642.8 673.7 640.1 674.1 637.5C674.5 634.9 674.9 632.2 675.4 629.6C675.8 627.0 676.2 624.3 676.6 621.7C677.1 619.1 677.5 616.4 677.9 613.8C678.3 611.2 678.8 608.5 679.2 605.9C679.6 603.3 680.0 600.6 680.5 598.0C680.9 595.4 681.3 592.7 681.8 590.1C682.2 587.5 682.6 584.8 683.0 582.2C683.5 579.6 683.9 576.9 684.3 574.3C684.8 571.7 685.2 569.0 685.7 566.4C686.1 563.8 686.6 560.9 687.1 558.5C687.3 557.1 687.6 555.9 687.8 554.6C688.1 553.3 688.4 552.0 688.6 550.7C688.9 549.4 689.2 548.1 689.5 546.8C689.7 545.5 690.0 544.2 690.3 542.9C690.6 541.6 690.9 540.3 691.2 539.0C691.5 537.7 691.8 536.4 692.1 535.1C692.4 533.8 692.6 532.5 693.0 531.2C693.3 529.9 693.6 528.6 693.9 527.3C694.2 526.0 694.5 524.7 694.8 523.4C695.1 522.1 695.4 520.8 695.8 519.5C696.1 518.2 696.4 516.9 696.7 515.6C697.1 514.3 697.4 513.0 697.7 511.7C698.1 510.5 698.4 509.2 698.8 507.9C699.2 506.6 699.6 505.3 700.0 504.1C700.4 502.8 700.8 501.5 701.2 500.3C701.6 499.0 702.1 497.7 702.5 496.5C703.0 495.2 703.4 494.0 704.0 492.8C704.5 491.5 705.1 490.3 705.7 489.1C706.3 487.9 706.8 486.7 707.5 485.6C708.2 484.5 709.1 482.6 709.9 482.5C710.8 482.5 711.9 484.0 712.6 484.9C713.4 485.9 713.8 487.3 714.4 488.5C715.0 489.7 715.6 490.9 716.2 492.1C716.7 493.3 717.2 494.5 717.7 495.8C718.2 497.0 718.7 498.3 719.1 499.5C719.6 500.8 720.1 502.0 720.5 503.3C720.9 504.5 721.3 505.8 721.8 507.1C722.2 508.3 722.5 509.6 722.9 510.9C723.3 512.2 723.6 513.5 724.0 514.8C724.3 516.0 724.7 517.3 725.0 518.6C725.4 519.9 725.7 521.2 726.1 522.5C726.4 523.8 726.8 525.1 727.1 526.3C727.4 527.6 727.8 528.9 728.1 530.2C728.4 531.5 728.8 532.8 729.1 534.1C729.4 535.4 729.7 536.7 730.0 538.0C730.3 539.3 730.7 540.6 731.0 541.9C731.3 543.2 731.6 544.5 731.9 545.8C732.2 547.1 732.5 548.4 732.8 549.7C733.1 551.0 733.4 552.3 733.7 553.6C734.0 554.9 734.3 556.1 734.6 557.5C735.1 559.8 735.7 562.7 736.3 565.3C736.8 567.9 737.4 570.5 737.9 573.1C738.5 575.7 739.0 578.3 739.5 580.9C740.1 583.6 740.6 586.2 741.1 588.8C741.6 591.4 742.1 594.0 742.6 596.6C743.1 599.3 743.6 601.9 744.1 604.5C744.6 607.1 745.0 609.8 745.5 612.4C745.9 615.0 746.3 617.6 746.8 620.3C747.2 622.9 747.6 625.5 748.1 628.2C748.5 630.8 748.9 633.4 749.3 636.1C749.7 638.7 750.1 641.4 750.5 644.0C750.9 646.6 751.3 649.3 751.7 651.9C752.1 654.5 752.5 657.2 752.8 659.8C753.2 662.5 753.6 665.1 754.0 667.7C754.4 670.4 754.7 673.0 755.1 675.7C755.5 678.3 755.8 680.9 756.2 683.6C756.5 686.2 756.9 688.9 757.3 691.5C757.6 694.2 758.0 696.8 758.3 699.4C758.6 702.1 759.0 704.7 759.3 707.4C759.7 710.0 760.0 712.7 760.3 715.3C760.7 718.0 761.0 720.6 761.3 723.3C761.7 725.9 762.0 728.5 762.3 731.2C762.6 733.8 762.9 736.5 763.3 739.1C763.6 741.8 763.9 744.4 764.2 747.1C764.5 749.7 764.8 752.4 765.1 755.0C765.5 757.7 765.8 760.3 766.1 763.0C766.4 765.6 766.7 768.3 767.0 770.9C767.3 773.6 767.6 776.2 767.9 778.9C768.2 781.5 768.5 784.2 768.8 786.8C769.1 789.5 769.4 792.1 769.7 794.8C770.0 797.4 770.3 800.1 770.6 802.7C770.9 805.4 771.1 808.0 771.4 810.7C771.7 813.3 772.0 816.0 772.3 818.6C772.6 821.3 772.9 823.9 773.1 826.6C773.4 829.2 773.7 831.9 774.0 834.5C774.2 837.2 774.5 839.8 774.8 842.5C775.1 845.1 775.3 847.8 775.6 850.5C775.9 853.1 776.1 855.8 776.4 858.4C776.7 861.1 776.9 863.7 777.2 866.4C777.5 869.0 777.7 871.7 778.0 874.3C778.2 877.0 778.5 879.6 778.7 882.3C779.0 885.0 779.2 887.6 779.5 890.3C779.7 892.9 780.0 895.6 780.2 898.2C780.5 900.9 780.7 903.5 781.0 906.2C781.2 908.9 781.4 911.5 781.7 914.2C781.9 916.8 782.1 919.5 782.4 922.1C782.6 924.8 782.8 927.5 783.1 930.1C783.3 932.8 783.5 935.4 783.8 938.1C784.0 940.7 784.2 943.4 784.4 946.1C784.7 948.7 784.9 951.4 785.1 954.0C785.3 956.7 785.5 959.3 785.8 962.0C786.0 964.7 786.2 967.3 786.4 970.0C786.6 972.6 786.8 975.3 787.1 977.9C787.3 980.6 787.5 983.3 787.7 985.9C787.9 988.6 788.1 991.2 788.3 993.9C788.5 996.6 788.7 999.2 788.9 1001.9C789.1 1004.5 789.4 1007.2 789.6 1009.9C789.8 1012.5 790.0 1015.2 790.2 1017.8C790.4 1020.5 790.6 1023.1 790.8 1025.8C791.0 1028.5 791.2 1031.1 791.4 1033.8C791.6 1036.4 791.8 1039.1 792.0 1041.8C792.2 1044.4 792.4 1047.1 792.6 1049.7C792.8 1052.4 793.0 1055.1 793.2 1057.7C793.4 1060.4 793.6 1063.0 793.8 1065.7C794.0 1068.4 794.2 1071.0 794.4 1073.7C794.6 1076.3 794.8 1079.0 795.0 1081.7C795.2 1084.3 795.4 1087.0 795.6 1089.6C795.8 1092.3 796.0 1094.9 796.2 1097.6C796.4 1100.3 796.6 1102.9 796.8 1105.6C797.0 1108.2 797.2 1110.9 797.4 1113.6C797.6 1116.2 797.8 1118.9 798.0 1121.5C798.3 1124.2 798.5 1126.9 798.7 1129.5C798.9 1132.2 799.1 1134.8 799.3 1137.5C799.5 1140.1 799.7 1142.8 799.9 1145.5C800.1 1148.1 800.4 1150.8 800.6 1153.4C800.8 1156.1 801.0 1158.8 801.2 1161.4C801.4 1164.1 801.7 1166.7 801.9 1169.4C802.1 1172.0 802.3 1174.7 802.5 1177.4C802.8 1180.0 803.0 1182.7 803.2 1185.3C803.5 1188.0 803.7 1190.6 803.9 1193.3C804.2 1196.0 804.4 1198.6 804.6 1201.3C804.9 1203.9 805.1 1206.6 805.3 1209.2C805.6 1211.9 805.8 1214.6 806.1 1217.2C806.3 1219.9 806.6 1222.5 806.8 1225.2C807.0 1227.8 807.3 1230.5 807.5 1233.1C807.8 1235.8 808.0 1238.4 808.3 1241.1C808.6 1243.8 808.8 1246.4 809.1 1249.1C809.3 1251.7 809.6 1254.4 809.8 1257.0C810.1 1259.7 810.4 1262.3 810.6 1265.0C810.9 1267.6 811.1 1270.3 811.4 1273.0C811.7 1275.6 811.9 1278.3 812.2 1280.9C812.4 1283.6 812.7 1286.2 813.0 1288.9C813.2 1291.5 813.5 1294.2 813.8 1296.8C814.0 1299.5 814.3 1302.1 814.6 1304.8C814.8 1307.5 815.1 1310.1 815.4 1312.8C815.6 1315.4 815.9 1318.1 816.2 1320.7C816.4 1323.4 816.7 1326.0 817.0 1328.7C817.2 1331.3 817.5 1334.0 817.8 1336.6C818.0 1339.3 818.3 1341.9 818.6 1344.6C818.8 1347.3 819.1 1349.9 819.4 1352.6C819.7 1355.2 819.9 1357.9 820.2 1360.5C820.5 1363.2 820.7 1365.8 821.0 1368.5C821.3 1371.1 821.5 1373.8 821.8 1376.4C822.1 1379.1 822.3 1381.7 822.6 1384.4C822.9 1387.1 823.2 1389.7 823.4 1392.4C823.7 1395.0 824.0 1397.7 824.3 1400.3C824.5 1403.0 824.8 1405.6 825.1 1408.3C825.3 1410.9 825.6 1413.6 825.9 1416.2C826.2 1418.9 826.4 1421.5 826.7 1424.2C827.0 1426.8 827.3 1429.5 827.5 1432.1C827.8 1434.8 828.1 1437.5 828.4 1440.1C828.6 1442.8 828.9 1445.4 829.2 1448.1C829.5 1450.7 829.8 1453.4 830.0 1456.0C830.3 1458.7 830.6 1461.3 830.9 1464.0C831.2 1466.6 831.4 1469.3 831.7 1471.9C832.0 1474.6 832.3 1477.2 832.6 1479.9C832.8 1482.5 833.1 1485.2 833.4 1487.8C833.7 1490.5 834.0 1493.1 834.3 1495.8C834.5 1498.5 834.8 1501.1 835.1 1503.8C835.4 1506.4 835.7 1509.1 835.9 1511.7C836.2 1514.4 836.5 1517.0 836.8 1519.7C837.1 1522.3 837.4 1525.0 837.6 1527.6C837.9 1530.3 838.2 1532.9 838.5 1535.6C838.8 1538.2 839.1 1540.9 839.3 1543.5C839.6 1546.2 839.9 1548.8 840.2 1551.5C840.5 1554.1 840.7 1556.8 841.0 1559.4C841.3 1562.1 841.6 1564.8 841.8 1567.4C842.1 1570.1 842.4 1572.7 842.6 1575.4C842.9 1578.0 843.2 1580.7 843.4 1583.3C843.7 1586.0 844.0 1588.6 844.2 1591.3C844.5 1593.9 844.7 1596.6 845.0 1599.2C845.3 1601.9 845.5 1604.6 845.8 1607.2C846.0 1609.9 846.3 1612.5 846.5 1615.2C846.8 1617.8 847.0 1620.5 847.2 1623.1C847.5 1625.8 847.7 1628.5 848.0 1631.1C848.2 1633.8 848.4 1636.4 848.7 1639.1C848.9 1641.7 849.1 1644.4 849.4 1647.1C849.6 1649.7 849.8 1652.4 850.1 1655.0C850.3 1657.7 850.5 1660.3 850.8 1663.0C851.0 1665.6 851.2 1668.3 851.5 1671.0C851.7 1673.6 851.9 1676.3 852.2 1678.9C852.4 1681.6 852.6 1684.2 852.9 1686.9C853.1 1689.6 853.4 1692.2 853.6 1694.9C853.8 1697.5 854.1 1700.2 854.3 1702.8C854.6 1705.5 854.8 1708.1 855.1 1710.8C855.3 1713.5 855.6 1716.1 855.8 1718.8C856.1 1721.4 856.3 1724.1 856.6 1726.7C856.9 1729.4 857.1 1732.0 857.4 1734.7C857.6 1737.3 857.9 1740.0 858.2 1742.6C858.5 1745.3 858.7 1748.0 859.0 1750.6C859.3 1753.3 859.6 1755.9 859.8 1758.6C860.1 1761.2 860.4 1763.9 860.7 1766.5C861.0 1769.2 861.3 1771.8 861.6 1774.5C861.9 1777.1 862.2 1779.8 862.5 1782.4C862.8 1785.1 863.1 1787.7 863.4 1790.4C863.7 1793.0 864.0 1795.7 864.3 1798.3C864.7 1801.0 865.0 1803.6 865.3 1806.2C865.6 1808.9 866.0 1811.5 866.3 1814.2C866.6 1816.8 867.0 1819.5 867.3 1822.1C867.7 1824.8 868.0 1827.4 868.4 1830.0C868.8 1832.7 869.1 1835.3 869.5 1838.0C869.9 1840.6 870.3 1843.2 870.6 1845.9C871.0 1848.5 871.4 1851.1 871.8 1853.8C872.3 1856.4 872.7 1859.0 873.1 1861.7C873.5 1864.3 874.0 1866.9 874.4 1869.6C874.9 1872.2 875.3 1874.8 875.8 1877.4C876.3 1880.1 876.7 1882.7 877.2 1885.3C877.7 1887.9 878.1 1890.5 878.6 1893.2C879.1 1895.8 879.6 1898.4 880.2 1901.0C880.7 1903.6 881.2 1906.2 881.8 1908.8C882.3 1911.4 882.9 1914.0 883.5 1916.6C884.1 1919.2 884.7 1921.8 885.3 1924.4C885.9 1927.0 886.5 1929.6 887.2 1932.2C887.8 1934.8 888.4 1937.4 889.1 1940.0C889.8 1942.5 890.4 1945.1 891.1 1947.7C891.8 1950.3 892.5 1952.9 893.2 1955.4C893.8 1958.0 894.5 1960.6 895.2 1963.2C895.9 1965.7 896.6 1968.3 897.2 1970.9C897.9 1973.5 898.6 1976.1 899.2 1978.7C899.9 1981.2 900.5 1983.8 901.1 1986.4C901.8 1989.0 902.4 1991.6 903.0 1994.2C903.6 1996.8 904.1 1999.4 904.7 2002.0C905.3 2004.6 905.9 2007.5 906.4 2009.8C906.8 2011.2 907.0 2012.4 907.3 2013.7C907.6 2015.0 907.9 2016.3 908.2 2017.6C908.5 2018.9 908.8 2020.2 909.0 2021.5C909.3 2022.8 909.6 2024.1 909.9 2025.4C910.2 2026.7 910.5 2028.0 910.8 2029.3C911.2 2030.6 911.5 2031.9 911.8 2033.2C912.1 2034.5 912.4 2035.8 912.7 2037.1C913.0 2038.4 913.3 2039.7 913.6 2041.0C914.0 2042.3 914.3 2043.6 914.6 2044.9C914.9 2046.2 915.3 2047.5 915.6 2048.8C915.9 2050.1 916.3 2051.3 916.7 2052.6C917.0 2053.9 917.4 2055.2 917.8 2056.5C918.1 2057.7 918.5 2059.0 918.9 2060.3C919.3 2061.6 919.7 2062.8 920.1 2064.1C920.5 2065.4 920.9 2066.7 921.3 2067.9C921.7 2069.2 922.0 2070.5 922.4 2071.8C922.8 2073.1 923.2 2074.3 923.6 2075.6C924.0 2076.9 924.3 2078.2 924.7 2079.4C925.1 2080.7 925.5 2082.0 925.9 2083.3C926.3 2084.5 926.6 2085.8 927.0 2087.1C927.4 2088.4 927.8 2089.7 928.2 2090.9C928.6 2092.2 928.9 2093.5 929.3 2094.8C929.7 2096.0 930.1 2097.3 930.4 2098.6C930.8 2099.9 931.2 2101.2 931.5 2102.5C931.9 2103.7 932.3 2105.0 932.6 2106.3C933.0 2107.6 933.4 2108.9 933.8 2110.1C934.2 2111.4 934.6 2112.7 935.1 2113.9C935.5 2115.2 936.0 2116.4 936.4 2117.7C936.9 2118.9 937.4 2120.2 937.8 2121.4C938.3 2122.7 938.8 2123.9 939.3 2125.1C939.8 2126.4 940.3 2127.6 940.8 2128.8C941.3 2130.1 941.9 2131.3 942.4 2132.5C942.9 2133.7 943.5 2135.0 944.0 2136.2C944.6 2137.4 945.1 2138.6 945.7 2139.8C946.2 2141.0 946.8 2142.3 947.3 2143.5C947.9 2144.7 948.5 2145.9 949.1 2147.1C949.7 2148.3 950.3 2149.5 950.9 2150.6C951.5 2151.8 952.2 2153.0 952.9 2154.1C953.5 2155.3 954.2 2156.4 955.0 2157.5C955.7 2158.6 956.4 2159.7 957.2 2160.8C957.9 2161.9 958.7 2163.0 959.5 2164.1C960.3 2165.2 961.1 2166.2 961.9 2167.3C962.7 2168.3 963.6 2169.4 964.5 2170.4C965.3 2171.4 966.2 2172.4 967.1 2173.3C968.1 2174.3 969.0 2175.2 970.0 2176.1C971.0 2177.0 972.0 2177.9 973.0 2178.7C974.1 2179.6 975.1 2180.4 976.2 2181.2C977.3 2182.0 978.4 2182.8 979.5 2183.5C980.6 2184.3 981.7 2185.0 982.8 2185.7C983.9 2186.5 985.0 2187.2 986.1 2187.9C987.3 2188.6 988.4 2189.3 989.6 2189.9C990.7 2190.6 991.9 2191.2 993.1 2191.8C994.3 2192.5 995.5 2193.1 996.6 2193.7C997.8 2194.3 999.0 2194.9 1000.2 2195.6C1001.3 2196.2 1002.5 2196.9 1003.6 2197.6C1004.8 2198.3 1005.9 2199.0 1007.1 2199.6C1008.2 2200.3 1009.4 2200.9 1010.6 2201.5C1011.8 2202.1 1013.1 2202.6 1014.3 2203.1C1015.5 2203.6 1016.8 2204.0 1018.1 2204.4C1019.3 2204.8 1020.6 2205.2 1021.9 2205.5C1023.2 2205.9 1024.5 2206.2 1025.8 2206.5C1027.1 2206.8 1028.4 2207.1 1029.7 2207.4C1031.0 2207.6 1032.3 2207.9 1033.6 2208.0C1035.0 2208.2 1036.3 2208.4 1037.6 2208.5C1038.9 2208.6 1040.3 2208.7 1041.6 2208.8C1042.9 2208.9 1044.3 2209.0 1045.6 2209.0C1046.9 2209.1 1048.2 2209.2 1049.6 2209.2C1050.9 2209.3 1052.2 2209.4 1053.6 2209.5C1054.9 2209.5 1056.2 2209.6 1057.6 2209.7C1058.9 2209.8 1060.2 2209.8 1061.6 2209.9C1062.9 2210.0 1064.2 2210.0 1065.6 2210.1C1066.9 2210.1 1068.2 2210.2 1069.6 2210.2C1070.9 2210.2 1072.2 2210.3 1073.6 2210.3C1074.9 2210.3 1076.2 2210.3 1077.6 2210.3C1078.9 2210.3 1080.2 2210.3 1081.6 2210.3C1082.9 2210.3 1084.2 2210.3 1085.6 2210.3C1086.9 2210.3 1088.2 2210.3 1089.6 2210.3C1090.9 2210.3 1092.2 2210.3 1093.6 2210.3C1094.9 2210.3 1096.2 2210.3 1097.6 2210.3C1098.9 2210.3 1100.2 2210.3 1101.6 2210.3C1102.9 2210.3 1104.2 2210.3 1105.6 2210.3C1106.9 2210.3 1108.2 2210.3 1109.6 2210.3C1110.9 2210.3 1112.2 2210.3 1113.6 2210.3C1114.9 2210.3 1116.2 2210.3 1117.6 2210.3C1118.9 2210.3 1120.2 2210.3 1121.6 2210.3C1122.9 2210.3 1124.2 2210.3 1125.6 2210.3C1126.9 2210.3 1128.2 2210.3 1129.6 2210.3C1130.9 2210.3 1132.2 2210.3 1133.6 2210.3C1134.9 2210.3 1136.2 2210.3 1137.6 2210.3C1138.9 2210.3 1140.2 2210.3 1141.6 2210.3C1142.9 2210.3 1144.2 2210.3 1145.6 2210.3C1146.9 2210.3 1148.2 2210.3 1149.6 2210.3C1150.9 2210.3 1152.2 2210.3 1153.6 2210.3C1154.9 2210.3 1156.2 2210.3 1157.6 2210.3C1158.9 2210.3 1160.2 2210.3 1161.6 2210.3C1162.9 2210.3 1164.2 2210.3 1165.6 2210.3C1166.9 2210.3 1168.2 2210.3 1169.6 2210.3C1170.9 2210.3 1172.2 2210.3 1173.6 2210.3C1174.9 2210.3 1176.2 2210.3 1177.6 2210.3C1178.9 2210.3 1180.2 2210.3 1181.6 2210.3C1182.9 2210.3 1184.2 2210.3 1185.6 2210.3C1186.9 2210.3 1188.2 2210.3 1189.6 2210.3C1190.9 2210.3 1192.2 2210.3 1193.6 2210.3C1194.9 2210.3 1196.2 2210.3 1197.6 2210.3C1198.9 2210.3 1200.2 2210.3 1201.6 2210.3C1202.9 2210.3 1204.2 2210.3 1205.6 2210.3C1206.9 2210.3 1208.2 2210.3 1209.6 2210.3C1210.9 2210.3 1212.2 2210.3 1213.6 2210.3C1214.9 2210.3 1216.2 2210.3 1217.6 2210.3C1218.9 2210.3 1220.2 2210.3 1221.6 2210.3C1222.9 2210.3 1224.2 2210.3 1225.6 2210.3C1226.9 2210.3 1228.2 2210.3 1229.6 2210.3C1230.9 2210.3 1232.2 2210.3 1233.6 2210.3C1234.9 2210.3 1236.2 2210.3 1237.6 2210.3C1238.9 2210.3 1240.2 2210.3 1241.6 2210.3C1242.9 2210.3 1244.2 2210.3 1245.6 2210.3C1246.9 2210.3 1248.2 2210.3 1249.6 2210.3C1250.9 2210.3 1252.2 2210.3 1253.6 2210.3C1254.9 2210.3 1256.2 2210.3 1257.6 2210.3C1258.9 2210.3 1260.2 2210.3 1261.6 2210.3C1262.9 2210.3 1264.2 2210.3 1265.6 2210.3C1266.9 2210.3 1268.2 2210.3 1269.6 2210.3C1270.9 2210.3 1272.2 2210.3 1273.6 2210.3C1274.9 2210.3 1276.2 2210.3 1277.6 2210.3C1278.9 2210.3 1280.2 2210.3 1281.6 2210.3C1282.9 2210.3 1284.2 2210.3 1285.6 2210.3C1286.9 2210.3 1288.2 2210.3 1289.6 2210.3C1290.9 2210.3 1292.2 2210.3 1293.6 2210.3C1294.9 2210.3 1296.2 2210.3 1297.6 2210.3C1298.9 2210.3 1300.2 2210.3 1301.6 2210.3C1302.9 2210.3 1304.2 2210.3 1305.6 2210.3C1306.9 2210.3 1308.2 2210.3 1309.6 2210.3C1310.9 2210.3 1312.2 2210.3 1313.6 2210.3C1314.9 2210.3 1316.2 2210.3 1317.6 2210.3C1318.9 2210.3 1320.2 2210.3 1321.6 2210.3C1322.9 2210.3 1324.2 2210.3 1325.6 2210.3C1326.9 2210.3 1328.2 2210.3 1329.6 2210.3C1330.9 2210.3 1332.2 2210.3 1333.6 2210.3C1334.9 2210.3 1336.2 2210.3 1337.6 2210.3C1338.9 2210.3 1340.2 2210.3 1341.6 2210.3C1342.9 2210.3 1344.2 2210.3 1345.6 2210.3C1346.9 2210.3 1348.2 2210.3 1349.6 2210.3C1350.9 2210.3 1352.2 2210.3 1353.6 2210.3C1354.9 2210.3 1356.2 2210.3 1357.6 2210.3C1358.9 2210.3 1360.2 2210.3 1361.6 2210.3C1362.9 2210.3 1364.2 2210.3 1365.6 2210.3C1366.9 2210.3 1368.2 2210.3 1369.6 2210.3C1370.9 2210.3 1372.2 2210.3 1373.6 2210.3C1374.9 2210.3 1376.2 2210.3 1377.6 2210.3C1378.9 2210.3 1380.2 2210.3 1381.6 2210.3C1382.9 2210.3 1384.2 2210.3 1385.6 2210.3C1386.9 2210.3 1388.2 2210.3 1389.6 2210.3C1390.9 2210.3 1392.2 2210.3 1393.6 2210.3C1394.9 2210.3 1396.2 2210.3 1397.6 2210.3C1398.9 2210.3 1400.2 2210.3 1401.6 2210.3C1402.9 2210.3 1404.2 2210.3 1405.6 2210.3C1406.9 2210.3 1408.2 2210.3 1409.6 2210.3C1410.9 2210.3 1412.2 2210.3 1413.6 2210.3C1414.9 2210.3 1416.2 2210.3 1417.6 2210.3C1418.9 2210.3 1420.2 2210.3 1421.6 2210.3C1422.9 2210.3 1424.2 2210.3 1425.6 2210.3C1426.9 2210.3 1428.3 2210.3 1429.6 2210.3C1430.9 2210.3 1432.3 2210.3 1433.6 2210.3C1434.9 2210.3 1436.3 2210.3 1437.6 2210.3C1438.9 2210.3 1440.3 2210.3 1441.6 2210.3C1442.9 2210.3 1444.3 2210.3 1445.6 2210.3C1446.9 2210.3 1448.3 2210.3 1449.6 2210.3C1450.9 2210.3 1452.3 2210.3 1453.6 2210.3C1454.9 2210.3 1456.3 2210.3 1457.6 2210.3C1458.9 2210.3 1460.3 2210.3 1461.6 2210.3C1462.9 2210.3 1464.3 2210.3 1465.6 2210.3C1466.9 2210.3 1468.3 2210.3 1469.6 2210.3C1470.9 2210.3 1472.3 2210.3 1473.6 2210.3C1474.9 2210.3 1476.3 2210.3 1477.6 2210.3C1478.9 2210.3 1480.3 2210.3 1481.6 2210.3C1482.9 2210.3 1484.3 2210.3 1485.6 2210.3C1486.9 2210.3 1488.3 2210.3 1489.6 2210.3C1490.9 2210.3 1492.3 2210.3 1493.6 2210.3C1494.9 2210.3 1496.3 2210.3 1497.6 2210.3C1498.9 2210.3 1500.3 2210.3 1501.6 2210.3C1502.9 2210.3 1504.3 2210.3 1505.6 2210.3C1506.9 2210.3 1508.3 2210.3 1509.6 2210.3C1510.9 2210.3 1512.3 2210.3 1513.6 2210.3C1514.9 2210.3 1516.3 2210.3 1517.6 2210.3C1518.9 2210.3 1520.3 2210.3 1521.6 2210.3C1522.9 2210.3 1524.3 2210.3 1525.6 2210.3C1526.9 2210.3 1528.3 2210.3 1529.6 2210.3C1530.9 2210.3 1532.3 2210.3 1533.6 2210.3C1534.9 2210.3 1536.3 2210.3 1537.6 2210.3C1538.9 2210.3 1540.3 2210.3 1541.6 2210.3C1542.9 2210.3 1544.3 2210.3 1545.6 2210.3C1546.9 2210.3 1548.3 2210.3 1549.6 2210.3C1550.9 2210.3 1552.3 2210.3 1553.6 2210.3C1554.9 2210.3 1556.3 2210.3 1557.6 2210.3C1558.9 2210.3 1560.3 2210.3 1561.6 2210.3C1562.9 2210.3 1564.3 2210.3 1565.6 2210.3C1566.9 2210.3 1568.3 2210.3 1569.6 2210.3C1570.9 2210.3 1572.3 2210.3 1573.6 2210.3C1574.9 2210.3 1576.3 2210.3 1577.6 2210.3C1578.9 2210.3 1580.3 2210.3 1581.6 2210.3C1582.9 2210.3 1584.3 2210.3 1585.6 2210.3C1586.9 2210.3 1588.3 2210.3 1589.6 2210.3C1590.9 2210.3 1592.3 2210.3 1593.6 2210.3C1594.9 2210.3 1596.3 2210.3 1597.6 2210.3C1598.9 2210.3 1600.3 2210.3 1601.6 2210.3C1602.9 2210.3 1604.3 2210.3 1605.6 2210.3C1606.9 2210.3 1608.3 2210.3 1609.6 2210.3C1610.9 2210.3 1612.3 2210.3 1613.6 2210.3C1614.9 2210.3 1616.3 2210.3 1617.6 2210.3C1618.9 2210.3 1620.3 2210.3 1621.6 2210.3C1622.9 2210.3 1624.3 2210.3 1625.6 2210.3C1626.9 2210.3 1628.3 2210.3 1629.6 2210.3C1630.9 2210.3 1632.3 2210.3 1633.6 2210.3C1634.9 2210.3 1636.3 2210.3 1637.6 2210.3C1638.9 2210.3 1640.3 2210.3 1641.6 2210.3C1642.9 2210.3 1644.3 2210.3 1645.6 2210.3C1646.9 2210.3 1648.3 2210.3 1649.6 2210.3C1650.9 2210.3 1652.3 2210.3 1653.6 2210.3" stroke="#00AEF2" stroke-width="10.6" fill="none" stroke-linejoin="round" stroke-linecap="butt"/>
<path d="M240.0 2210.3C241.3 2210.3 242.7 2210.3 244.0 2210.3C245.3 2210.3 246.7 2210.3 248.0 2210.3C249.3 2210.3 250.7 2210.3 252.0 2210.3C253.3 2210.3 254.7 2210.3 256.0 2210.3C257.3 2210.3 258.7 2210.3 260.0 2210.3C261.3 2210.3 262.7 2210.3 264.0 2210.3C265.3 2210.3 266.7 2210.3 268.0 2210.3C269.3 2210.3 270.7 2210.3 272.0 2210.3C273.3 2210.3 274.7 2210.3 276.0 2210.3C277.3 2210.3 278.7 2210.3 280.0 2210.3C281.3 2210.3 282.7 2210.3 284.0 2210.3C285.3 2210.3 286.7 2210.4 288.0 2210.4C289.3 2210.4 290.7 2210.4 292.0 2210.3C293.3 2210.3 294.7 2210.2 296.0 2210.1C297.3 2210.0 298.7 2209.9 300.0 2209.8C301.3 2209.6 302.7 2209.5 304.0 2209.3C305.3 2209.2 306.6 2209.0 308.0 2208.9C309.3 2208.7 310.6 2208.6 311.9 2208.4C313.3 2208.3 314.6 2208.1 315.9 2208.0C317.2 2207.9 318.6 2207.8 319.9 2207.6C321.2 2207.5 322.5 2207.4 323.9 2207.2C325.2 2207.1 326.5 2207.0 327.9 2206.8C329.2 2206.7 330.5 2206.5 331.8 2206.4C333.2 2206.2 334.5 2206.1 335.8 2205.9C337.1 2205.7 338.4 2205.5 339.8 2205.3C341.1 2205.1 342.4 2204.9 343.7 2204.7C345.0 2204.5 346.3 2204.2 347.7 2204.0C349.0 2203.8 350.3 2203.6 351.6 2203.4C352.9 2203.2 354.2 2203.0 355.6 2202.8C356.9 2202.6 358.2 2202.4 359.5 2202.2C360.8 2202.1 362.2 2201.9 363.5 2201.7C364.8 2201.6 366.1 2201.4 367.5 2201.3C368.8 2201.1 370.1 2201.0 371.4 2200.8C372.8 2200.7 374.1 2200.5 375.4 2200.3C376.7 2200.2 378.1 2200.0 379.4 2199.8C380.7 2199.6 382.0 2199.5 383.4 2199.3C384.7 2199.1 386.0 2199.0 387.3 2198.8C388.6 2198.6 390.0 2198.4 391.3 2198.2C392.6 2198.0 393.9 2197.8 395.2 2197.5C396.5 2197.2 397.8 2197.0 399.1 2196.7C400.4 2196.4 401.7 2196.0 403.0 2195.7C404.3 2195.4 405.6 2195.0 406.9 2194.7C408.2 2194.3 409.4 2193.9 410.7 2193.5C412.0 2193.1 413.3 2192.7 414.5 2192.2C415.8 2191.8 417.0 2191.3 418.3 2190.8C419.5 2190.3 420.7 2189.8 421.9 2189.3C423.2 2188.7 424.4 2188.2 425.6 2187.6C426.7 2187.0 427.9 2186.4 429.1 2185.7C430.3 2185.1 431.5 2184.5 432.6 2183.8C433.8 2183.2 434.9 2182.5 436.1 2181.8C437.2 2181.1 438.4 2180.4 439.5 2179.8C440.7 2179.1 441.8 2178.4 442.9 2177.6C444.0 2176.9 445.2 2176.2 446.3 2175.5C447.4 2174.7 448.5 2174.0 449.6 2173.2C450.7 2172.4 451.8 2171.7 452.8 2170.9C453.9 2170.1 455.0 2169.3 456.1 2168.5C457.2 2167.8 458.2 2167.0 459.3 2166.2C460.4 2165.4 461.4 2164.6 462.5 2163.8C463.5 2162.9 464.6 2162.1 465.7 2161.3C466.7 2160.5 467.8 2159.7 468.8 2158.8C469.8 2158.0 470.9 2157.2 471.9 2156.3C473.0 2155.5 474.0 2154.6 475.0 2153.8C476.0 2152.9 477.0 2152.1 478.0 2151.2C479.1 2150.3 480.1 2149.4 481.1 2148.5C482.0 2147.7 483.0 2146.8 484.0 2145.8C485.0 2144.9 486.0 2144.0 486.9 2143.1C487.9 2142.2 488.9 2141.3 489.8 2140.3C490.8 2139.4 491.7 2138.5 492.6 2137.5C493.6 2136.6 494.5 2135.6 495.4 2134.6C496.3 2133.6 497.2 2132.7 498.1 2131.7C499.0 2130.7 499.9 2129.7 500.7 2128.7C501.6 2127.6 502.5 2126.6 503.3 2125.6C504.1 2124.5 505.0 2123.5 505.8 2122.4C506.6 2121.4 507.4 2120.3 508.2 2119.3C509.0 2118.2 509.8 2117.1 510.6 2116.0C511.4 2115.0 512.2 2113.9 512.9 2112.8C513.7 2111.7 514.5 2110.6 515.3 2109.6C516.0 2108.5 516.8 2107.4 517.6 2106.3C518.3 2105.2 519.1 2104.1 519.8 2103.0C520.6 2101.9 521.3 2100.7 522.0 2099.6C522.8 2098.5 523.5 2097.4 524.2 2096.3C524.9 2095.1 525.6 2094.0 526.3 2092.9C527.0 2091.7 527.7 2090.6 528.3 2089.4C529.0 2088.3 529.7 2087.1 530.3 2085.9C531.0 2084.8 531.6 2083.6 532.2 2082.4C532.9 2081.3 533.5 2080.1 534.1 2078.9C534.8 2077.7 535.4 2076.6 536.0 2075.4C536.6 2074.2 537.3 2073.0 537.9 2071.8C538.5 2070.7 539.1 2069.5 539.7 2068.3C540.3 2067.1 540.9 2065.9 541.5 2064.7C542.1 2063.5 542.7 2062.3 543.3 2061.1C543.9 2059.9 544.5 2058.7 545.1 2057.5C545.6 2056.3 546.2 2055.1 546.8 2053.9C547.4 2052.7 547.9 2051.5 548.5 2050.3C549.1 2049.1 549.6 2047.9 550.2 2046.7C550.7 2045.5 551.3 2044.2 551.8 2043.0C552.4 2041.8 552.9 2040.7 553.5 2039.4C554.4 2037.2 555.6 2034.5 556.7 2032.0C557.7 2029.6 558.8 2027.1 559.8 2024.7C560.9 2022.2 561.9 2019.8 562.9 2017.3C564.0 2014.9 565.0 2012.4 566.0 2009.9C567.0 2007.5 568.1 2005.0 569.1 2002.5C570.1 2000.1 571.1 1997.6 572.1 1995.1C573.1 1992.7 574.2 1990.2 575.2 1987.7C576.2 1985.3 577.2 1982.8 578.2 1980.3C579.2 1977.9 580.2 1975.4 581.2 1972.9C582.2 1970.4 583.2 1968.0 584.2 1965.5C585.2 1963.0 586.2 1960.5 587.1 1958.0C588.1 1955.6 589.1 1953.1 590.0 1950.6C591.0 1948.1 592.0 1945.6 592.9 1943.1C593.9 1940.6 594.8 1938.1 595.7 1935.6C596.7 1933.1 597.6 1930.6 598.5 1928.1C599.5 1925.6 600.4 1923.1 601.3 1920.6C602.2 1918.1 603.1 1915.6 604.0 1913.1C604.9 1910.6 605.8 1908.1 606.7 1905.6C607.5 1903.0 608.4 1900.5 609.3 1898.0C610.2 1895.5 611.0 1893.0 611.9 1890.4C612.8 1887.9 613.6 1885.4 614.5 1882.8C615.3 1880.3 616.2 1877.8 617.0 1875.3C617.8 1872.7 618.7 1870.2 619.5 1867.7C620.3 1865.1 621.1 1862.6 622.0 1860.0C622.8 1857.5 623.6 1855.0 624.4 1852.4C625.2 1849.9 626.0 1847.3 626.7 1844.8C627.5 1842.2 628.3 1839.7 629.1 1837.1C629.8 1834.6 630.6 1832.0 631.3 1829.4C632.1 1826.9 632.8 1824.3 633.6 1821.7C634.3 1819.2 635.0 1816.6 635.7 1814.0C636.5 1811.5 637.2 1808.9 637.9 1806.3C638.6 1803.8 639.3 1801.2 640.0 1798.6C640.7 1796.0 641.4 1793.5 642.1 1790.9C642.8 1788.3 643.5 1785.7 644.1 1783.2C644.8 1780.6 645.5 1778.0 646.2 1775.4C646.9 1772.8 647.5 1770.3 648.2 1767.7C648.9 1765.1 649.5 1762.5 650.2 1759.9C650.9 1757.4 651.5 1754.8 652.2 1752.2C652.9 1749.6 653.5 1747.0 654.2 1744.4C654.9 1741.9 655.6 1739.3 656.2 1736.7C656.9 1734.1 657.6 1731.5 658.3 1729.0C659.0 1726.4 659.6 1723.8 660.3 1721.2C661.0 1718.6 661.7 1716.1 662.4 1713.5C663.1 1710.9 663.8 1708.3 664.5 1705.8C665.2 1703.2 665.9 1700.6 666.6 1698.0C667.3 1695.5 668.0 1692.9 668.7 1690.3C669.4 1687.7 670.1 1685.2 670.8 1682.6C671.5 1680.0 672.2 1677.5 672.9 1674.9C673.7 1672.3 674.4 1669.8 675.1 1667.2C675.8 1664.6 676.5 1662.0 677.3 1659.5C678.0 1656.9 678.7 1654.3 679.4 1651.8C680.1 1649.2 680.9 1646.6 681.6 1644.1C682.3 1641.5 683.0 1638.9 683.7 1636.4C684.5 1633.8 685.2 1631.2 685.9 1628.7C686.6 1626.1 687.3 1623.5 688.0 1620.9C688.7 1618.4 689.5 1615.8 690.2 1613.2C690.9 1610.7 691.6 1608.1 692.4 1605.5C693.1 1603.0 693.8 1600.4 694.6 1597.8C695.3 1595.3 696.1 1592.7 696.9 1590.2C697.6 1587.6 698.4 1585.1 699.2 1582.5C699.9 1580.0 700.7 1577.4 701.5 1574.8C702.2 1572.3 703.0 1569.7 703.7 1567.2C704.5 1564.6 705.2 1562.1 706.0 1559.5C706.7 1556.9 707.5 1554.4 708.2 1551.8C709.0 1549.3 709.7 1546.7 710.4 1544.1C711.2 1541.6 711.9 1539.0 712.6 1536.4C713.4 1533.9 714.1 1531.3 714.8 1528.7C715.5 1526.2 716.3 1523.6 717.0 1521.0C717.7 1518.5 718.5 1515.9 719.2 1513.3C720.0 1510.8 720.7 1508.2 721.5 1505.7C722.2 1503.1 723.0 1500.6 723.8 1498.0C724.6 1495.5 725.4 1492.9 726.2 1490.4C727.0 1487.9 727.9 1485.3 728.8 1482.8C729.7 1480.3 730.6 1477.8 731.5 1475.3C732.5 1472.8 733.5 1470.4 734.5 1467.9C735.5 1465.4 736.6 1463.0 737.7 1460.5C738.8 1458.1 739.9 1455.7 741.0 1453.3C742.1 1450.9 743.3 1448.5 744.4 1446.0C745.6 1443.6 746.7 1441.2 747.9 1438.8C749.1 1436.4 750.2 1434.0 751.4 1431.6C752.5 1429.2 753.7 1426.8 754.8 1424.4C756.0 1422.0 757.1 1419.6 758.2 1417.2C759.3 1414.7 760.4 1412.3 761.5 1409.9C762.6 1407.4 763.6 1405.0 764.7 1402.5C765.8 1400.1 766.9 1397.7 767.9 1395.2C769.0 1392.8 770.1 1390.4 771.2 1387.9C772.3 1385.5 773.5 1383.1 774.6 1380.7C775.7 1378.3 776.9 1375.9 778.1 1373.5C779.2 1371.1 780.5 1368.4 781.5 1366.2C782.1 1364.9 782.5 1363.8 783.1 1362.6C783.6 1361.3 784.1 1360.1 784.6 1358.9C785.0 1357.6 785.5 1356.4 786.0 1355.1C786.4 1353.9 786.9 1352.6 787.3 1351.4C787.8 1350.1 788.2 1348.8 788.6 1347.6C789.1 1346.3 789.5 1345.1 790.0 1343.8C790.4 1342.6 790.9 1341.3 791.4 1340.1C791.9 1338.8 792.4 1337.6 792.9 1336.3C793.4 1335.1 793.9 1333.9 794.4 1332.7C794.9 1331.4 795.4 1330.2 796.0 1329.0C796.5 1327.7 797.0 1326.5 797.6 1325.3C798.1 1324.1 798.7 1322.9 799.2 1321.7C799.8 1320.4 800.3 1319.2 800.9 1318.0C801.5 1316.8 802.1 1315.6 802.7 1314.4C803.3 1313.2 803.9 1312.0 804.4 1310.8C805.0 1309.7 805.6 1308.5 806.2 1307.3C806.9 1306.1 807.5 1304.9 808.1 1303.7C808.8 1302.6 809.4 1301.4 810.1 1300.3C810.8 1299.1 811.5 1298.0 812.2 1296.9C813.0 1295.8 813.8 1294.7 814.5 1293.6C815.3 1292.5 816.1 1291.4 816.9 1290.4C817.7 1289.4 818.6 1288.3 819.5 1287.3C820.4 1286.3 821.3 1285.4 822.3 1284.5C823.3 1283.6 824.4 1282.8 825.5 1282.0C826.5 1281.2 827.7 1280.5 828.8 1279.9C830.0 1279.2 831.2 1278.6 832.4 1278.1C833.6 1277.5 834.9 1277.1 836.2 1276.7C837.4 1276.4 838.7 1276.0 840.1 1275.8C841.4 1275.6 842.7 1275.5 844.0 1275.5C845.4 1275.5 846.7 1275.7 848.0 1275.9C849.3 1276.1 850.6 1276.4 851.9 1276.8C853.2 1277.2 854.5 1277.6 855.7 1278.1C856.9 1278.5 858.2 1279.1 859.4 1279.7C860.6 1280.3 861.7 1280.9 862.9 1281.6C864.0 1282.2 865.2 1282.9 866.3 1283.6C867.4 1284.3 868.5 1285.1 869.6 1285.9C870.7 1286.6 871.8 1287.4 872.9 1288.2C873.9 1289.0 875.0 1289.8 876.1 1290.6C877.1 1291.4 878.2 1292.2 879.2 1293.0C880.3 1293.9 881.4 1294.7 882.4 1295.5C883.4 1296.4 884.4 1297.2 885.4 1298.1C886.4 1299.0 887.4 1299.9 888.4 1300.8C889.4 1301.7 890.4 1302.6 891.4 1303.5C892.3 1304.4 893.3 1305.4 894.2 1306.3C895.1 1307.3 896.0 1308.3 896.8 1309.4C897.6 1310.4 898.4 1311.5 899.2 1312.6C900.0 1313.6 900.7 1314.8 901.4 1315.9C902.1 1317.0 902.8 1318.1 903.5 1319.3C904.2 1320.5 904.8 1321.6 905.5 1322.8C906.1 1324.0 906.7 1325.1 907.3 1326.3C907.9 1327.5 908.5 1328.7 909.0 1330.0C909.6 1331.2 910.1 1332.4 910.6 1333.6C911.1 1334.9 911.5 1336.1 912.0 1337.4C912.5 1338.6 912.9 1339.9 913.4 1341.1C913.8 1342.4 914.3 1343.6 914.8 1344.9C915.2 1346.1 915.7 1347.4 916.1 1348.6C916.6 1349.9 917.1 1351.2 917.5 1352.4C917.9 1353.7 918.4 1354.9 918.8 1356.2C919.3 1357.4 919.7 1358.7 920.1 1360.0C920.6 1361.2 920.9 1362.4 921.4 1363.8C922.1 1366.1 923.0 1368.8 923.8 1371.4C924.6 1373.9 925.4 1376.5 926.1 1379.0C926.9 1381.6 927.7 1384.2 928.5 1386.7C929.2 1389.3 930.0 1391.8 930.7 1394.4C931.5 1396.9 932.3 1399.5 933.0 1402.0C933.8 1404.6 934.6 1407.2 935.3 1409.7C936.1 1412.3 936.9 1414.8 937.7 1417.4C938.5 1419.9 939.3 1422.4 940.1 1425.0C940.9 1427.5 941.8 1430.0 942.7 1432.5C943.6 1435.1 944.5 1437.6 945.5 1440.0C946.5 1442.5 947.5 1445.0 948.5 1447.4C949.6 1449.8 950.7 1452.3 951.9 1454.6C953.1 1457.0 954.3 1459.4 955.6 1461.7C956.9 1464.0 958.2 1466.3 959.6 1468.6C961.0 1470.9 962.4 1473.1 963.9 1475.3C965.3 1477.6 966.8 1479.8 968.3 1482.0C969.8 1484.2 971.3 1486.4 972.8 1488.6C974.3 1490.8 975.9 1493.0 977.4 1495.2C978.8 1497.4 980.3 1499.6 981.8 1501.8C983.3 1504.0 984.7 1506.3 986.1 1508.5C987.5 1510.8 988.8 1513.1 990.1 1515.4C991.3 1517.7 992.5 1520.1 993.7 1522.5C994.8 1524.9 995.8 1527.4 996.8 1529.8C997.8 1532.3 998.7 1534.8 999.7 1537.3C1000.6 1539.8 1001.4 1542.3 1002.3 1544.8C1003.2 1547.3 1004.1 1549.8 1004.9 1552.4C1005.8 1554.9 1006.7 1557.4 1007.6 1559.9C1008.5 1562.4 1009.4 1564.9 1010.3 1567.4C1011.2 1569.9 1012.1 1572.5 1013.0 1575.0C1014.0 1577.5 1014.9 1580.0 1015.8 1582.5C1016.7 1585.0 1017.6 1587.5 1018.4 1590.0C1019.3 1592.5 1020.2 1595.1 1021.0 1597.6C1021.9 1600.1 1022.7 1602.7 1023.5 1605.2C1024.3 1607.7 1025.1 1610.3 1025.9 1612.8C1026.7 1615.4 1027.4 1618.0 1028.1 1620.5C1028.9 1623.1 1029.6 1625.6 1030.3 1628.2C1031.0 1630.8 1031.7 1633.4 1032.4 1635.9C1033.2 1638.5 1033.9 1641.1 1034.6 1643.6C1035.3 1646.2 1036.1 1648.8 1036.8 1651.3C1037.6 1653.9 1038.3 1656.4 1039.1 1659.0C1039.9 1661.5 1040.7 1664.1 1041.5 1666.6C1042.3 1669.2 1043.1 1671.7 1043.9 1674.2C1044.8 1676.8 1045.6 1679.3 1046.5 1681.8C1047.4 1684.3 1048.3 1686.9 1049.2 1689.4C1050.1 1691.9 1051.0 1694.4 1051.9 1696.9C1052.8 1699.4 1053.8 1701.9 1054.7 1704.4C1055.7 1706.9 1056.6 1709.4 1057.6 1711.8C1058.5 1714.3 1059.5 1716.8 1060.4 1719.3C1061.4 1721.8 1062.3 1724.3 1063.3 1726.8C1064.2 1729.3 1065.1 1731.8 1066.0 1734.3C1066.9 1736.8 1067.8 1739.3 1068.7 1741.9C1069.6 1744.4 1070.5 1746.9 1071.3 1749.4C1072.2 1751.9 1073.0 1754.5 1073.9 1757.0C1074.8 1759.5 1075.6 1762.1 1076.4 1764.6C1077.3 1767.1 1078.1 1769.6 1079.0 1772.2C1079.8 1774.7 1080.6 1777.2 1081.4 1779.8C1082.3 1782.3 1083.1 1784.9 1083.9 1787.4C1084.7 1789.9 1085.5 1792.5 1086.4 1795.0C1087.2 1797.6 1088.0 1800.1 1088.8 1802.6C1089.6 1805.2 1090.4 1807.7 1091.2 1810.3C1092.1 1812.8 1092.9 1815.3 1093.7 1817.9C1094.5 1820.4 1095.3 1823.0 1096.1 1825.5C1097.0 1828.0 1097.8 1830.6 1098.6 1833.1C1099.4 1835.7 1100.2 1838.2 1101.1 1840.7C1101.9 1843.3 1102.7 1845.8 1103.6 1848.3C1104.4 1850.9 1105.3 1853.4 1106.1 1855.9C1107.0 1858.4 1107.8 1861.0 1108.7 1863.5C1109.6 1866.0 1110.5 1868.5 1111.4 1871.0C1112.4 1873.5 1113.3 1876.0 1114.3 1878.5C1115.3 1881.0 1116.3 1883.4 1117.3 1885.9C1118.3 1888.4 1119.3 1890.8 1120.3 1893.3C1121.3 1895.8 1122.3 1898.2 1123.3 1900.7C1124.3 1903.2 1125.2 1905.7 1126.2 1908.2C1127.1 1910.7 1128.0 1913.2 1128.9 1915.7C1129.8 1918.2 1130.7 1920.7 1131.6 1923.2C1132.5 1925.7 1133.4 1928.2 1134.4 1930.7C1135.3 1933.2 1136.3 1935.7 1137.3 1938.2C1138.2 1940.6 1139.3 1943.1 1140.3 1945.6C1141.4 1948.0 1142.4 1950.4 1143.5 1952.9C1144.6 1955.3 1145.8 1957.7 1146.9 1960.1C1148.1 1962.5 1149.2 1964.9 1150.4 1967.3C1151.6 1969.7 1152.7 1972.1 1153.9 1974.5C1155.1 1976.9 1156.3 1979.3 1157.5 1981.7C1158.6 1984.1 1159.8 1986.5 1161.0 1988.9C1162.2 1991.3 1163.3 1993.7 1164.5 1996.0C1165.7 1998.4 1166.9 2000.8 1168.1 2003.2C1169.3 2005.6 1170.6 2007.9 1171.8 2010.3C1173.1 2012.6 1174.4 2014.9 1175.8 2017.2C1177.1 2019.5 1178.5 2021.8 1179.9 2024.0C1181.3 2026.3 1182.8 2028.5 1184.4 2030.6C1186.0 2032.8 1187.8 2035.0 1189.3 2036.9C1190.3 2038.0 1191.1 2038.9 1191.9 2039.9C1192.8 2040.9 1193.7 2041.9 1194.6 2042.9C1195.5 2043.9 1196.3 2044.9 1197.2 2045.9C1198.1 2047.0 1198.9 2048.0 1199.8 2049.0C1200.6 2050.1 1201.4 2051.1 1202.2 2052.2C1203.0 2053.2 1203.8 2054.3 1204.6 2055.4C1205.3 2056.5 1206.1 2057.6 1206.9 2058.7C1207.7 2059.8 1208.4 2060.8 1209.3 2061.9C1210.1 2063.0 1210.9 2064.0 1211.7 2065.0C1212.6 2066.1 1213.4 2067.1 1214.3 2068.1C1215.1 2069.1 1216.0 2070.2 1216.9 2071.2C1217.8 2072.2 1218.7 2073.2 1219.6 2074.1C1220.5 2075.1 1221.4 2076.1 1222.3 2077.1C1223.2 2078.0 1224.2 2079.0 1225.1 2079.9C1226.1 2080.8 1227.0 2081.8 1228.0 2082.7C1228.9 2083.6 1229.9 2084.6 1230.8 2085.5C1231.8 2086.5 1232.7 2087.4 1233.6 2088.4C1234.5 2089.4 1235.4 2090.4 1236.3 2091.3C1237.2 2092.3 1238.1 2093.3 1239.0 2094.3C1239.9 2095.3 1240.8 2096.3 1241.7 2097.2C1242.7 2098.2 1243.6 2099.1 1244.5 2100.1C1245.5 2101.0 1246.4 2101.9 1247.4 2102.9C1248.3 2103.8 1249.3 2104.7 1250.2 2105.7C1251.2 2106.6 1252.1 2107.6 1253.0 2108.6C1253.9 2109.5 1254.9 2110.5 1255.8 2111.5C1256.7 2112.5 1257.6 2113.4 1258.5 2114.4C1259.4 2115.4 1260.2 2116.4 1261.1 2117.4C1262.0 2118.4 1262.9 2119.4 1263.8 2120.4C1264.7 2121.4 1265.6 2122.4 1266.5 2123.4C1267.3 2124.4 1268.2 2125.4 1269.1 2126.4C1270.0 2127.4 1270.9 2128.4 1271.7 2129.4C1272.6 2130.4 1273.5 2131.4 1274.4 2132.4C1275.2 2133.4 1276.1 2134.5 1277.0 2135.5C1277.8 2136.5 1278.7 2137.5 1279.5 2138.5C1280.4 2139.5 1281.3 2140.6 1282.2 2141.5C1283.1 2142.5 1284.0 2143.5 1284.9 2144.4C1285.9 2145.4 1286.8 2146.3 1287.8 2147.2C1288.8 2148.1 1289.8 2149.0 1290.8 2149.9C1291.8 2150.7 1292.8 2151.6 1293.8 2152.5C1294.9 2153.3 1295.9 2154.2 1297.0 2155.0C1298.0 2155.8 1299.0 2156.6 1300.1 2157.4C1301.2 2158.2 1302.3 2159.0 1303.4 2159.8C1304.5 2160.5 1305.6 2161.2 1306.8 2161.9C1307.9 2162.5 1309.1 2163.2 1310.3 2163.8C1311.5 2164.4 1312.7 2164.9 1313.9 2165.5C1315.1 2166.0 1316.3 2166.6 1317.6 2167.1C1318.8 2167.6 1320.1 2168.0 1321.3 2168.4C1322.6 2168.9 1323.9 2169.3 1325.1 2169.7C1326.4 2170.1 1327.7 2170.5 1328.9 2171.0C1330.2 2171.4 1331.5 2171.7 1332.8 2172.1C1334.0 2172.5 1335.3 2172.9 1336.6 2173.3C1337.9 2173.7 1339.1 2174.1 1340.4 2174.4C1341.7 2174.8 1343.0 2175.2 1344.3 2175.6C1345.5 2176.0 1346.8 2176.4 1348.1 2176.9C1349.3 2177.3 1350.6 2177.8 1351.8 2178.2C1353.1 2178.7 1354.3 2179.2 1355.5 2179.7C1356.8 2180.2 1358.0 2180.7 1359.2 2181.2C1360.5 2181.7 1361.7 2182.3 1362.9 2182.8C1364.1 2183.3 1365.3 2183.9 1366.6 2184.4C1367.8 2184.9 1369.0 2185.4 1370.3 2185.9C1371.5 2186.4 1372.8 2186.8 1374.1 2187.3C1375.3 2187.7 1376.6 2188.2 1377.8 2188.6C1379.1 2189.1 1380.3 2189.5 1381.6 2190.0C1382.8 2190.5 1384.0 2191.0 1385.3 2191.4C1386.5 2191.9 1387.8 2192.4 1389.1 2192.8C1390.3 2193.3 1391.6 2193.7 1392.9 2194.1C1394.1 2194.5 1395.4 2194.9 1396.7 2195.3C1397.9 2195.7 1399.2 2196.1 1400.5 2196.5C1401.8 2196.9 1403.0 2197.3 1404.3 2197.7C1405.6 2198.1 1406.9 2198.5 1408.1 2198.8C1409.4 2199.2 1410.7 2199.5 1412.0 2199.8C1413.3 2200.1 1414.6 2200.3 1416.0 2200.6C1417.3 2200.8 1418.6 2201.0 1419.9 2201.2C1421.2 2201.4 1422.5 2201.6 1423.9 2201.8C1425.2 2202.0 1426.5 2202.2 1427.8 2202.4C1429.1 2202.6 1430.5 2202.8 1431.8 2202.9C1433.1 2203.1 1434.4 2203.2 1435.8 2203.4C1437.1 2203.5 1438.4 2203.7 1439.7 2203.8C1441.1 2203.9 1442.4 2204.1 1443.7 2204.2C1445.0 2204.3 1446.4 2204.5 1447.7 2204.6C1449.0 2204.7 1450.4 2204.8 1451.7 2204.9C1453.0 2205.0 1454.3 2205.1 1455.7 2205.2C1457.0 2205.3 1458.3 2205.4 1459.7 2205.5C1461.0 2205.6 1462.3 2205.7 1463.7 2205.8C1465.0 2205.9 1466.3 2206.0 1467.6 2206.1C1469.0 2206.2 1470.3 2206.3 1471.6 2206.4C1473.0 2206.5 1474.3 2206.6 1475.6 2206.7C1477.0 2206.8 1478.3 2206.8 1479.6 2206.9C1481.0 2207.0 1482.3 2207.1 1483.6 2207.2C1484.9 2207.3 1486.3 2207.4 1487.6 2207.4C1488.9 2207.5 1490.3 2207.6 1491.6 2207.7C1492.9 2207.8 1494.3 2207.9 1495.6 2208.0C1496.9 2208.0 1498.3 2208.1 1499.6 2208.2C1500.9 2208.3 1502.2 2208.4 1503.6 2208.5C1504.9 2208.5 1506.2 2208.6 1507.6 2208.7C1508.9 2208.7 1510.2 2208.8 1511.6 2208.9C1512.9 2208.9 1514.2 2209.0 1515.6 2209.0C1516.9 2209.1 1518.2 2209.2 1519.6 2209.2C1520.9 2209.2 1522.2 2209.3 1523.6 2209.3C1524.9 2209.4 1526.2 2209.4 1527.6 2209.5C1528.9 2209.5 1530.2 2209.5 1531.6 2209.6C1532.9 2209.6 1534.2 2209.7 1535.6 2209.7C1536.9 2209.7 1538.2 2209.8 1539.6 2209.8C1540.9 2209.8 1542.2 2209.9 1543.6 2209.9C1544.9 2209.9 1546.2 2209.9 1547.6 2210.0C1548.9 2210.0 1550.2 2210.0 1551.6 2210.0C1552.9 2210.1 1554.2 2210.1 1555.6 2210.1C1556.9 2210.1 1558.2 2210.1 1559.6 2210.2C1560.9 2210.2 1562.2 2210.2 1563.6 2210.2C1564.9 2210.2 1566.2 2210.2 1567.6 2210.2C1568.9 2210.3 1570.2 2210.3 1571.6 2210.3C1572.9 2210.3 1574.2 2210.3 1575.6 2210.3C1576.9 2210.3 1578.2 2210.3 1579.6 2210.3C1580.9 2210.3 1582.2 2210.3 1583.6 2210.3C1584.9 2210.3 1586.2 2210.3 1587.6 2210.3C1588.9 2210.3 1590.2 2210.3 1591.6 2210.3C1592.9 2210.3 1594.2 2210.3 1595.6 2210.3C1596.9 2210.3 1598.2 2210.3 1599.6 2210.3C1600.9 2210.3 1602.2 2210.3 1603.6 2210.3C1604.9 2210.3 1606.3 2210.3 1607.6 2210.3C1608.9 2210.3 1610.3 2210.3 1611.6 2210.3C1612.9 2210.3 1614.3 2210.3 1615.6 2210.3C1616.9 2210.3 1618.3 2210.3 1619.6 2210.3C1620.9 2210.3 1622.3 2210.3 1623.6 2210.3C1624.9 2210.3 1626.3 2210.3 1627.6 2210.3C1628.9 2210.3 1630.3 2210.3 1631.6 2210.3C1632.9 2210.3 1634.3 2210.3 1635.6 2210.3C1636.9 2210.3 1638.3 2210.3 1639.6 2210.3C1640.9 2210.3 1642.3 2210.3 1643.6 2210.3C1644.9 2210.3 1646.3 2210.3 1647.6 2210.3C1648.9 2210.3 1650.4 2210.3 1651.6 2210.3C1652.3 2210.3 1652.9 2210.3 1653.6 2210.3" stroke="#FB6CF5" stroke-width="10.6" fill="none" stroke-linejoin="round" stroke-linecap="butt"/>
</g>
<rect x="170.65" y="30.65" width="1552.30" height="2282.20" fill="none" stroke="#333" stroke-width="2.70"/>
<path d="M259.93 2314.2v13.7M635.80 2314.2v13.7M1011.67 2314.2v13.7M1387.54 2314.2v13.7M169.3 2210.30h-13.7M169.3 1671.45h-13.7M169.3 1132.60h-13.7M169.3 593.75h-13.7M169.3 54.90h-13.7" stroke="#333" stroke-width="5.30" fill="none"/>
<g fill="#4d4d4d" font-size="44.8">
<text x="145" y="2227.5" text-anchor="end">0.0</text>
<text x="145" y="1688.7" text-anchor="end">0.5</text>
<text x="145" y="1149.8" text-anchor="end">1.0</text>
<text x="145" y="611.0" text-anchor="end">1.5</text>
<text x="145" y="72.1" text-anchor="end">2.0</text>
<text x="259.9" y="2370.5" text-anchor="middle">−1</text>
<text x="635.8" y="2370.5" text-anchor="middle">0</text>
<text x="1011.7" y="2370.5" text-anchor="middle">1</text>
<text x="1387.5" y="2370.5" text-anchor="middle">2</text>
</g>
<g fill="#000" font-size="54.6">
<text x="946.5" y="2432" text-anchor="middle">value</text>
<text transform="translate(57.6 1173.2) rotate(-90)" text-anchor="middle">density</text>
<text x="1806" y="962">Params</text>
</g>
<g font-size="44.8" fill="#000">
<rect x="1812.30" y="1003.90" width="71.80" height="71.80" fill="none" stroke="#FF796D" stroke-width="10.6"/>
<text x="1919.4" y="1056.2">b_CEaware_Bi_WTP5</text>
<rect x="1812.30" y="1090.05" width="71.80" height="71.80" fill="none" stroke="#A2A500" stroke-width="10.6"/>
<text x="1919.4" y="1142.3">b_CEknowledge_WTP5</text>
<rect x="1812.30" y="1176.20" width="71.80" height="71.80" fill="none" stroke="#00BB7A" stroke-width="10.6"/>
<text x="1919.4" y="1228.5">b_Energysave_WTP5</text>
<rect x="1812.30" y="1262.35" width="71.80" height="71.80" fill="none" stroke="#00AEF2" stroke-width="10.6"/>
<text x="1919.4" y="1314.7">b_Enviprotect_WTP5</text>
<rect x="1812.30" y="1348.50" width="71.80" height="71.80" fill="none" stroke="#FB6CF5" stroke-width="10.6"/>
<text x="1919.4" y="1400.8">b_Wasteclass_Bi_WTP5</text>
</g>
</svg></body></html>
